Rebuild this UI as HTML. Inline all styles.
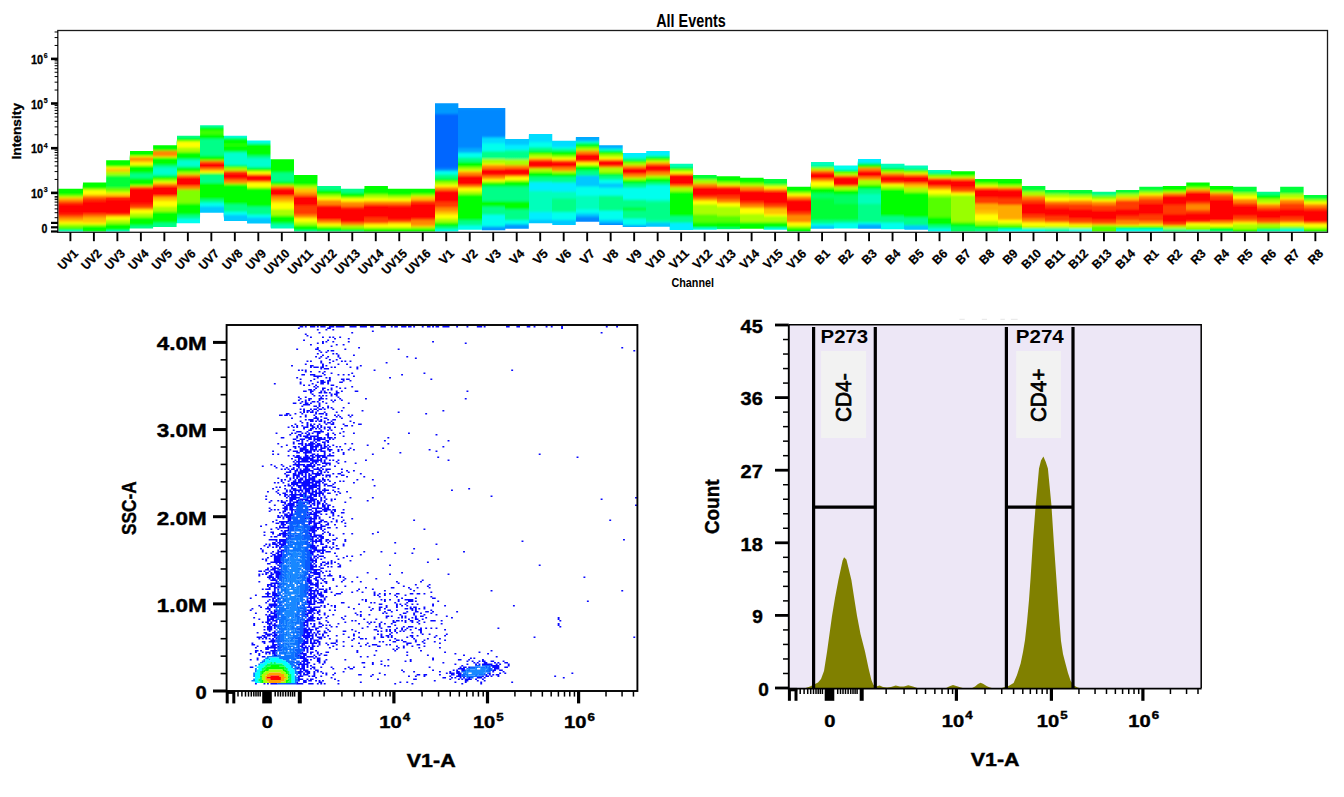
<!DOCTYPE html>
<html><head><meta charset="utf-8"><title>All Events</title>
<style>html,body{margin:0;padding:0;background:#fff;overflow:hidden}body{width:1344px;height:797px;font-family:"Liberation Sans",sans-serif}svg{display:block}</style>
</head><body>
<svg width="1344" height="797" viewBox="0 0 1344 797" font-family="Liberation Sans, sans-serif"><defs><linearGradient id="g0" gradientUnits="userSpaceOnUse" x1="0" y1="188.70" x2="0" y2="232.00"><stop offset="0.0000" stop-color="#00ff00"/><stop offset="0.1224" stop-color="#00ff00"/><stop offset="0.1801" stop-color="#aaff00"/><stop offset="0.2263" stop-color="#ffc400"/><stop offset="0.2725" stop-color="#ff8800"/><stop offset="0.3303" stop-color="#ff3a00"/><stop offset="0.3764" stop-color="#ff0000"/><stop offset="0.5612" stop-color="#ff0000"/><stop offset="0.6189" stop-color="#ff3a00"/><stop offset="0.6767" stop-color="#ff8800"/><stop offset="0.7460" stop-color="#ffc400"/><stop offset="0.7921" stop-color="#ffff00"/><stop offset="0.8383" stop-color="#aaff00"/><stop offset="0.8961" stop-color="#55ff00"/><stop offset="0.9538" stop-color="#00ff38"/><stop offset="0.9885" stop-color="#00ffee"/><stop offset="1.0000" stop-color="#00ffee"/></linearGradient><linearGradient id="g1" gradientUnits="userSpaceOnUse" x1="0" y1="182.40" x2="0" y2="232.00"><stop offset="0.0000" stop-color="#00ff00"/><stop offset="0.1129" stop-color="#00ff00"/><stop offset="0.1431" stop-color="#aaff00"/><stop offset="0.1734" stop-color="#ffff00"/><stop offset="0.2339" stop-color="#ffff00"/><stop offset="0.2843" stop-color="#ff8800"/><stop offset="0.3347" stop-color="#ff3a00"/><stop offset="0.4153" stop-color="#ff0000"/><stop offset="0.6069" stop-color="#ff0000"/><stop offset="0.6371" stop-color="#ff3a00"/><stop offset="0.6895" stop-color="#ff8800"/><stop offset="0.7379" stop-color="#ffc400"/><stop offset="0.7984" stop-color="#ffc400"/><stop offset="0.8286" stop-color="#ffff00"/><stop offset="0.8589" stop-color="#aaff00"/><stop offset="0.8992" stop-color="#00ff00"/><stop offset="0.9798" stop-color="#00ff00"/><stop offset="1.0000" stop-color="#00ff38"/></linearGradient><linearGradient id="g2" gradientUnits="userSpaceOnUse" x1="0" y1="160.20" x2="0" y2="232.00"><stop offset="0.0000" stop-color="#00ff00"/><stop offset="0.0808" stop-color="#00ff00"/><stop offset="0.1017" stop-color="#ffff00"/><stop offset="0.1295" stop-color="#ffc400"/><stop offset="0.1504" stop-color="#ffc400"/><stop offset="0.1713" stop-color="#aaff00"/><stop offset="0.1992" stop-color="#aaff00"/><stop offset="0.2270" stop-color="#00ff38"/><stop offset="0.3733" stop-color="#00ff38"/><stop offset="0.3942" stop-color="#55ff00"/><stop offset="0.4429" stop-color="#aaff00"/><stop offset="0.4638" stop-color="#ffff00"/><stop offset="0.4777" stop-color="#ff8800"/><stop offset="0.4916" stop-color="#ffff00"/><stop offset="0.5056" stop-color="#ff3a00"/><stop offset="0.5822" stop-color="#ff0000"/><stop offset="0.7493" stop-color="#ff0000"/><stop offset="0.7702" stop-color="#ff8800"/><stop offset="0.7981" stop-color="#ffff00"/><stop offset="0.8189" stop-color="#ffff00"/><stop offset="0.8468" stop-color="#aaff00"/><stop offset="0.8747" stop-color="#aaff00"/><stop offset="0.9025" stop-color="#00ff00"/><stop offset="0.9721" stop-color="#00ff00"/><stop offset="0.9861" stop-color="#00ffee"/><stop offset="1.0000" stop-color="#00ffee"/></linearGradient><linearGradient id="g3" gradientUnits="userSpaceOnUse" x1="0" y1="151.00" x2="0" y2="228.40"><stop offset="0.0000" stop-color="#00ff00"/><stop offset="0.0581" stop-color="#00ff00"/><stop offset="0.0724" stop-color="#ffff00"/><stop offset="0.0904" stop-color="#ff8800"/><stop offset="0.1163" stop-color="#ff8800"/><stop offset="0.1357" stop-color="#ffc400"/><stop offset="0.1615" stop-color="#ffff00"/><stop offset="0.1809" stop-color="#ffff00"/><stop offset="0.2003" stop-color="#00ff00"/><stop offset="0.2713" stop-color="#00ff00"/><stop offset="0.2972" stop-color="#00ff88"/><stop offset="0.3424" stop-color="#00ff88"/><stop offset="0.3682" stop-color="#00ff00"/><stop offset="0.4315" stop-color="#00ff00"/><stop offset="0.4483" stop-color="#aaff00"/><stop offset="0.4651" stop-color="#ff8800"/><stop offset="0.4858" stop-color="#ff0000"/><stop offset="0.6718" stop-color="#ff0000"/><stop offset="0.7041" stop-color="#ff3a00"/><stop offset="0.7235" stop-color="#ff3a00"/><stop offset="0.7455" stop-color="#ff8800"/><stop offset="0.7687" stop-color="#ffff00"/><stop offset="0.7946" stop-color="#ffff00"/><stop offset="0.8204" stop-color="#aaff00"/><stop offset="0.8463" stop-color="#aaff00"/><stop offset="0.8721" stop-color="#00ff00"/><stop offset="0.9496" stop-color="#00ff00"/><stop offset="0.9690" stop-color="#00ff88"/><stop offset="1.0000" stop-color="#00ff88"/></linearGradient><linearGradient id="g4" gradientUnits="userSpaceOnUse" x1="0" y1="145.30" x2="0" y2="227.00"><stop offset="0.0000" stop-color="#00ff00"/><stop offset="0.0575" stop-color="#00ff00"/><stop offset="0.0759" stop-color="#ff8800"/><stop offset="0.1310" stop-color="#ff8800"/><stop offset="0.1432" stop-color="#ffff00"/><stop offset="0.1579" stop-color="#00ff00"/><stop offset="0.2289" stop-color="#00ff00"/><stop offset="0.2534" stop-color="#00ff88"/><stop offset="0.2901" stop-color="#00ffd0"/><stop offset="0.3513" stop-color="#00ffd0"/><stop offset="0.3696" stop-color="#00ff88"/><stop offset="0.3856" stop-color="#00ff00"/><stop offset="0.4064" stop-color="#00ff00"/><stop offset="0.4247" stop-color="#aaff00"/><stop offset="0.4431" stop-color="#aaff00"/><stop offset="0.4565" stop-color="#ffff00"/><stop offset="0.4737" stop-color="#ff8800"/><stop offset="0.4896" stop-color="#ff8800"/><stop offset="0.5080" stop-color="#ff0000"/><stop offset="0.6083" stop-color="#ff0000"/><stop offset="0.6279" stop-color="#ff8800"/><stop offset="0.6512" stop-color="#ffc400"/><stop offset="0.6756" stop-color="#ffc400"/><stop offset="0.6879" stop-color="#ffff00"/><stop offset="0.7430" stop-color="#ffff00"/><stop offset="0.7613" stop-color="#aaff00"/><stop offset="0.8042" stop-color="#aaff00"/><stop offset="0.8262" stop-color="#00ff00"/><stop offset="0.9388" stop-color="#00ff00"/><stop offset="0.9572" stop-color="#00ff88"/><stop offset="1.0000" stop-color="#00ff88"/></linearGradient><linearGradient id="g5" gradientUnits="userSpaceOnUse" x1="0" y1="135.80" x2="0" y2="223.30"><stop offset="0.0000" stop-color="#00ff88"/><stop offset="0.0194" stop-color="#00ff88"/><stop offset="0.0309" stop-color="#00ff00"/><stop offset="0.0514" stop-color="#00ff00"/><stop offset="0.0617" stop-color="#aaff00"/><stop offset="0.0766" stop-color="#ffff00"/><stop offset="0.1280" stop-color="#ffff00"/><stop offset="0.1451" stop-color="#aaff00"/><stop offset="0.1794" stop-color="#aaff00"/><stop offset="0.1966" stop-color="#00ff00"/><stop offset="0.2594" stop-color="#00ff00"/><stop offset="0.2709" stop-color="#00ff88"/><stop offset="0.2880" stop-color="#00ffd0"/><stop offset="0.3451" stop-color="#00ffd0"/><stop offset="0.3566" stop-color="#00ff88"/><stop offset="0.3703" stop-color="#00ff00"/><stop offset="0.4023" stop-color="#00ff00"/><stop offset="0.4194" stop-color="#aaff00"/><stop offset="0.4366" stop-color="#aaff00"/><stop offset="0.4514" stop-color="#ff8800"/><stop offset="0.4629" stop-color="#ff8800"/><stop offset="0.4766" stop-color="#ff0000"/><stop offset="0.5623" stop-color="#ff0000"/><stop offset="0.5817" stop-color="#ff8800"/><stop offset="0.6057" stop-color="#ff8800"/><stop offset="0.6229" stop-color="#80ff00"/><stop offset="0.7680" stop-color="#80ff00"/><stop offset="0.7851" stop-color="#00ff00"/><stop offset="0.8937" stop-color="#00ff00"/><stop offset="0.9109" stop-color="#00ff88"/><stop offset="0.9394" stop-color="#00ff88"/><stop offset="0.9566" stop-color="#00ffee"/><stop offset="1.0000" stop-color="#00ffee"/></linearGradient><linearGradient id="g6" gradientUnits="userSpaceOnUse" x1="0" y1="125.20" x2="0" y2="212.80"><stop offset="0.0000" stop-color="#00ffbb"/><stop offset="0.0205" stop-color="#00ff88"/><stop offset="0.0320" stop-color="#00ff00"/><stop offset="0.0594" stop-color="#00ff00"/><stop offset="0.0719" stop-color="#55ff00"/><stop offset="0.0833" stop-color="#00ff00"/><stop offset="0.0947" stop-color="#55ff00"/><stop offset="0.1073" stop-color="#00ff00"/><stop offset="0.1484" stop-color="#00ff00"/><stop offset="0.1632" stop-color="#00ff88"/><stop offset="0.3447" stop-color="#00ff88"/><stop offset="0.3607" stop-color="#00ff00"/><stop offset="0.3927" stop-color="#00ff00"/><stop offset="0.4087" stop-color="#ff8800"/><stop offset="0.4201" stop-color="#ff8800"/><stop offset="0.4338" stop-color="#ff0000"/><stop offset="0.4817" stop-color="#ff0000"/><stop offset="0.4954" stop-color="#ff8800"/><stop offset="0.5114" stop-color="#ff8800"/><stop offset="0.5297" stop-color="#ffff00"/><stop offset="0.5411" stop-color="#ffff00"/><stop offset="0.5548" stop-color="#00ff00"/><stop offset="0.5708" stop-color="#00ff88"/><stop offset="0.6541" stop-color="#00ff88"/><stop offset="0.6689" stop-color="#00ff00"/><stop offset="0.8311" stop-color="#00ff00"/><stop offset="0.8539" stop-color="#00ff88"/><stop offset="0.8767" stop-color="#00ff88"/><stop offset="0.8938" stop-color="#00ffee"/><stop offset="0.9201" stop-color="#00ffee"/><stop offset="0.9361" stop-color="#00c8ff"/><stop offset="1.0000" stop-color="#00c8ff"/></linearGradient><linearGradient id="g7" gradientUnits="userSpaceOnUse" x1="0" y1="135.80" x2="0" y2="220.90"><stop offset="0.0000" stop-color="#00ffee"/><stop offset="0.0259" stop-color="#00ffbb"/><stop offset="0.0376" stop-color="#00ff00"/><stop offset="0.0964" stop-color="#00ff00"/><stop offset="0.1081" stop-color="#55ff00"/><stop offset="0.1199" stop-color="#00ff00"/><stop offset="0.1786" stop-color="#00ff00"/><stop offset="0.1904" stop-color="#00ff88"/><stop offset="0.2045" stop-color="#00ffd0"/><stop offset="0.3408" stop-color="#00ffd0"/><stop offset="0.3549" stop-color="#00ff00"/><stop offset="0.3666" stop-color="#00ff00"/><stop offset="0.3807" stop-color="#aaff00"/><stop offset="0.4054" stop-color="#aaff00"/><stop offset="0.4207" stop-color="#ff3a00"/><stop offset="0.4371" stop-color="#ff3a00"/><stop offset="0.4512" stop-color="#ff0000"/><stop offset="0.4994" stop-color="#ff0000"/><stop offset="0.5100" stop-color="#ff3a00"/><stop offset="0.5311" stop-color="#ff8800"/><stop offset="0.5546" stop-color="#ff8800"/><stop offset="0.5664" stop-color="#aaff00"/><stop offset="0.5805" stop-color="#00ff00"/><stop offset="0.7897" stop-color="#00ff00"/><stop offset="0.8108" stop-color="#00ff88"/><stop offset="0.8837" stop-color="#00ff88"/><stop offset="0.9013" stop-color="#00ffee"/><stop offset="0.9248" stop-color="#00ffee"/><stop offset="0.9365" stop-color="#00c8ff"/><stop offset="1.0000" stop-color="#00c8ff"/></linearGradient><linearGradient id="g8" gradientUnits="userSpaceOnUse" x1="0" y1="140.40" x2="0" y2="223.60"><stop offset="0.0000" stop-color="#00ffee"/><stop offset="0.0337" stop-color="#00ffee"/><stop offset="0.0493" stop-color="#00ff00"/><stop offset="0.1743" stop-color="#00ff00"/><stop offset="0.1875" stop-color="#00ff88"/><stop offset="0.2055" stop-color="#00ff88"/><stop offset="0.2236" stop-color="#00ffd0"/><stop offset="0.3125" stop-color="#00ffd0"/><stop offset="0.3257" stop-color="#00ff88"/><stop offset="0.3377" stop-color="#00ff00"/><stop offset="0.3618" stop-color="#00ff00"/><stop offset="0.3774" stop-color="#ffff00"/><stop offset="0.3990" stop-color="#ffff00"/><stop offset="0.4111" stop-color="#ff8800"/><stop offset="0.4255" stop-color="#ff0000"/><stop offset="0.4880" stop-color="#ff0000"/><stop offset="0.4976" stop-color="#ff8800"/><stop offset="0.5096" stop-color="#ffff00"/><stop offset="0.5553" stop-color="#ffff00"/><stop offset="0.5685" stop-color="#aaff00"/><stop offset="0.5841" stop-color="#00ff00"/><stop offset="0.7861" stop-color="#00ff00"/><stop offset="0.8029" stop-color="#00ff88"/><stop offset="0.8846" stop-color="#00ff88"/><stop offset="0.8990" stop-color="#00ffee"/><stop offset="0.9207" stop-color="#00ffee"/><stop offset="0.9351" stop-color="#00c8ff"/><stop offset="1.0000" stop-color="#00c8ff"/></linearGradient><linearGradient id="g9" gradientUnits="userSpaceOnUse" x1="0" y1="159.20" x2="0" y2="228.40"><stop offset="0.0000" stop-color="#00ff00"/><stop offset="0.1821" stop-color="#00ff00"/><stop offset="0.1994" stop-color="#00ff88"/><stop offset="0.3150" stop-color="#00ff88"/><stop offset="0.3367" stop-color="#00ff00"/><stop offset="0.3584" stop-color="#00ff00"/><stop offset="0.3757" stop-color="#aaff00"/><stop offset="0.3988" stop-color="#ff8800"/><stop offset="0.4118" stop-color="#ff8800"/><stop offset="0.4292" stop-color="#ff0000"/><stop offset="0.5173" stop-color="#ff0000"/><stop offset="0.5405" stop-color="#ff8800"/><stop offset="0.5751" stop-color="#ff8800"/><stop offset="0.5939" stop-color="#ffc400"/><stop offset="0.6185" stop-color="#ffc400"/><stop offset="0.6373" stop-color="#ffff00"/><stop offset="0.7124" stop-color="#ffff00"/><stop offset="0.7341" stop-color="#aaff00"/><stop offset="0.8064" stop-color="#aaff00"/><stop offset="0.8324" stop-color="#00ff00"/><stop offset="0.9075" stop-color="#00ff00"/><stop offset="0.9364" stop-color="#00ff88"/><stop offset="0.9653" stop-color="#00ffbb"/><stop offset="1.0000" stop-color="#00ffbb"/></linearGradient><linearGradient id="g10" gradientUnits="userSpaceOnUse" x1="0" y1="175.00" x2="0" y2="232.00"><stop offset="0.0000" stop-color="#00ff00"/><stop offset="0.1649" stop-color="#00ff00"/><stop offset="0.1930" stop-color="#aaff00"/><stop offset="0.2228" stop-color="#aaff00"/><stop offset="0.2491" stop-color="#ffc400"/><stop offset="0.2947" stop-color="#ffc400"/><stop offset="0.3193" stop-color="#ff8800"/><stop offset="0.3509" stop-color="#ff8800"/><stop offset="0.3860" stop-color="#ff0000"/><stop offset="0.5175" stop-color="#ff0000"/><stop offset="0.5439" stop-color="#ff3a00"/><stop offset="0.6842" stop-color="#ff3a00"/><stop offset="0.7070" stop-color="#ff8800"/><stop offset="0.7368" stop-color="#ff8800"/><stop offset="0.7684" stop-color="#ffff00"/><stop offset="0.8123" stop-color="#ffff00"/><stop offset="0.8386" stop-color="#aaff00"/><stop offset="0.8702" stop-color="#aaff00"/><stop offset="0.8982" stop-color="#00ff00"/><stop offset="0.9649" stop-color="#00ff00"/><stop offset="0.9825" stop-color="#00ffbb"/><stop offset="1.0000" stop-color="#00ffbb"/></linearGradient><linearGradient id="g11" gradientUnits="userSpaceOnUse" x1="0" y1="186.00" x2="0" y2="232.00"><stop offset="0.0000" stop-color="#00ff88"/><stop offset="0.0761" stop-color="#00ff88"/><stop offset="0.1000" stop-color="#00ff00"/><stop offset="0.1696" stop-color="#00ff00"/><stop offset="0.2000" stop-color="#aaff00"/><stop offset="0.2391" stop-color="#aaff00"/><stop offset="0.2609" stop-color="#ffff00"/><stop offset="0.2870" stop-color="#ffff00"/><stop offset="0.3261" stop-color="#ff8800"/><stop offset="0.4022" stop-color="#ff8800"/><stop offset="0.4348" stop-color="#ff0000"/><stop offset="0.7239" stop-color="#ff0000"/><stop offset="0.7565" stop-color="#ff8800"/><stop offset="0.7957" stop-color="#ff8800"/><stop offset="0.8261" stop-color="#ffff00"/><stop offset="0.8543" stop-color="#ffff00"/><stop offset="0.8826" stop-color="#aaff00"/><stop offset="0.9130" stop-color="#00ff00"/><stop offset="0.9717" stop-color="#00ff00"/><stop offset="0.9891" stop-color="#00ff88"/><stop offset="1.0000" stop-color="#00ff88"/></linearGradient><linearGradient id="g12" gradientUnits="userSpaceOnUse" x1="0" y1="188.70" x2="0" y2="232.00"><stop offset="0.0000" stop-color="#00ff88"/><stop offset="0.0855" stop-color="#00ff88"/><stop offset="0.1085" stop-color="#00ff00"/><stop offset="0.1801" stop-color="#00ff00"/><stop offset="0.2102" stop-color="#aaff00"/><stop offset="0.2425" stop-color="#ffff00"/><stop offset="0.2841" stop-color="#ffff00"/><stop offset="0.3210" stop-color="#ff8800"/><stop offset="0.3949" stop-color="#ff8800"/><stop offset="0.4273" stop-color="#ff3a00"/><stop offset="0.4596" stop-color="#ff0000"/><stop offset="0.7691" stop-color="#ff0000"/><stop offset="0.8014" stop-color="#ff8800"/><stop offset="0.8291" stop-color="#ff8800"/><stop offset="0.8661" stop-color="#aaff00"/><stop offset="0.9076" stop-color="#aaff00"/><stop offset="0.9307" stop-color="#00ff00"/><stop offset="0.9723" stop-color="#00ff00"/><stop offset="0.9908" stop-color="#00ff88"/><stop offset="1.0000" stop-color="#00ff88"/></linearGradient><linearGradient id="g13" gradientUnits="userSpaceOnUse" x1="0" y1="186.00" x2="0" y2="232.00"><stop offset="0.0000" stop-color="#00ff00"/><stop offset="0.1696" stop-color="#00ff00"/><stop offset="0.2000" stop-color="#aaff00"/><stop offset="0.2522" stop-color="#aaff00"/><stop offset="0.2761" stop-color="#ffff00"/><stop offset="0.3130" stop-color="#ffff00"/><stop offset="0.3478" stop-color="#ff8800"/><stop offset="0.3870" stop-color="#ff8800"/><stop offset="0.4304" stop-color="#ff0000"/><stop offset="0.6652" stop-color="#ff0000"/><stop offset="0.7000" stop-color="#ff3a00"/><stop offset="0.7826" stop-color="#ff3a00"/><stop offset="0.8109" stop-color="#ff8800"/><stop offset="0.8435" stop-color="#ffff00"/><stop offset="0.8826" stop-color="#ffff00"/><stop offset="0.9130" stop-color="#aaff00"/><stop offset="0.9413" stop-color="#00ff00"/><stop offset="1.0000" stop-color="#00ff00"/></linearGradient><linearGradient id="g14" gradientUnits="userSpaceOnUse" x1="0" y1="188.70" x2="0" y2="232.00"><stop offset="0.0000" stop-color="#00ff00"/><stop offset="0.1455" stop-color="#00ff00"/><stop offset="0.1686" stop-color="#aaff00"/><stop offset="0.2148" stop-color="#aaff00"/><stop offset="0.2379" stop-color="#ffff00"/><stop offset="0.2725" stop-color="#ffff00"/><stop offset="0.3025" stop-color="#ff8800"/><stop offset="0.3487" stop-color="#ff8800"/><stop offset="0.3764" stop-color="#ff3a00"/><stop offset="0.4226" stop-color="#ff0000"/><stop offset="0.7067" stop-color="#ff0000"/><stop offset="0.7413" stop-color="#ff3a00"/><stop offset="0.7829" stop-color="#ff8800"/><stop offset="0.8152" stop-color="#ffff00"/><stop offset="0.8776" stop-color="#ffff00"/><stop offset="0.9076" stop-color="#aaff00"/><stop offset="0.9400" stop-color="#00ff00"/><stop offset="1.0000" stop-color="#00ff00"/></linearGradient><linearGradient id="g15" gradientUnits="userSpaceOnUse" x1="0" y1="188.70" x2="0" y2="232.00"><stop offset="0.0000" stop-color="#00ff00"/><stop offset="0.1178" stop-color="#00ff00"/><stop offset="0.1455" stop-color="#aaff00"/><stop offset="0.1686" stop-color="#aaff00"/><stop offset="0.1963" stop-color="#ffc400"/><stop offset="0.2564" stop-color="#ffc400"/><stop offset="0.2887" stop-color="#ff3a00"/><stop offset="0.3303" stop-color="#ff3a00"/><stop offset="0.3672" stop-color="#ff0000"/><stop offset="0.6767" stop-color="#ff0000"/><stop offset="0.7067" stop-color="#ff3a00"/><stop offset="0.7413" stop-color="#ff8800"/><stop offset="0.8291" stop-color="#ff8800"/><stop offset="0.8614" stop-color="#ffc400"/><stop offset="0.9076" stop-color="#aaff00"/><stop offset="0.9400" stop-color="#00ff00"/><stop offset="1.0000" stop-color="#00ff00"/></linearGradient><linearGradient id="g16" gradientUnits="userSpaceOnUse" x1="0" y1="103.20" x2="0" y2="232.00"><stop offset="0.0000" stop-color="#0099ff"/><stop offset="0.0839" stop-color="#0099ff"/><stop offset="0.0870" stop-color="#0066ff"/><stop offset="0.5023" stop-color="#0066ff"/><stop offset="0.5078" stop-color="#0088ff"/><stop offset="0.5217" stop-color="#0088ff"/><stop offset="0.5303" stop-color="#00ffee"/><stop offset="0.5497" stop-color="#00ffee"/><stop offset="0.5590" stop-color="#00ff88"/><stop offset="0.5823" stop-color="#00ff88"/><stop offset="0.5901" stop-color="#00ff00"/><stop offset="0.6040" stop-color="#00ff00"/><stop offset="0.6118" stop-color="#aaff00"/><stop offset="0.6304" stop-color="#aaff00"/><stop offset="0.6374" stop-color="#ffff00"/><stop offset="0.6460" stop-color="#ffff00"/><stop offset="0.6568" stop-color="#ff8800"/><stop offset="0.6716" stop-color="#ff8800"/><stop offset="0.6832" stop-color="#ff0000"/><stop offset="0.7593" stop-color="#ff0000"/><stop offset="0.7717" stop-color="#ff3a00"/><stop offset="0.8020" stop-color="#ff3a00"/><stop offset="0.8137" stop-color="#ff8800"/><stop offset="0.8331" stop-color="#ff8800"/><stop offset="0.8447" stop-color="#ffc400"/><stop offset="0.8602" stop-color="#ffc400"/><stop offset="0.8680" stop-color="#ffff00"/><stop offset="0.8913" stop-color="#ffff00"/><stop offset="0.9030" stop-color="#aaff00"/><stop offset="0.9224" stop-color="#aaff00"/><stop offset="0.9340" stop-color="#00ff00"/><stop offset="0.9534" stop-color="#00ff00"/><stop offset="0.9643" stop-color="#00ff88"/><stop offset="0.9752" stop-color="#00ff88"/><stop offset="0.9845" stop-color="#00ffee"/><stop offset="1.0000" stop-color="#00ffee"/></linearGradient><linearGradient id="g17" gradientUnits="userSpaceOnUse" x1="0" y1="108.10" x2="0" y2="229.70"><stop offset="0.0000" stop-color="#0099ff"/><stop offset="0.0156" stop-color="#0088ff"/><stop offset="0.3257" stop-color="#0088ff"/><stop offset="0.3331" stop-color="#00aaff"/><stop offset="0.3627" stop-color="#00aaff"/><stop offset="0.3725" stop-color="#00ffee"/><stop offset="0.4021" stop-color="#00ffee"/><stop offset="0.4137" stop-color="#00ff88"/><stop offset="0.4400" stop-color="#00ff88"/><stop offset="0.4465" stop-color="#00ff00"/><stop offset="0.4786" stop-color="#00ff00"/><stop offset="0.4910" stop-color="#aaff00"/><stop offset="0.5058" stop-color="#aaff00"/><stop offset="0.5173" stop-color="#ffff00"/><stop offset="0.5288" stop-color="#ff8800"/><stop offset="0.5502" stop-color="#ff8800"/><stop offset="0.5617" stop-color="#ff0000"/><stop offset="0.6275" stop-color="#ff0000"/><stop offset="0.6390" stop-color="#ff8800"/><stop offset="0.6488" stop-color="#ff8800"/><stop offset="0.6612" stop-color="#ffff00"/><stop offset="0.6768" stop-color="#ffff00"/><stop offset="0.6900" stop-color="#aaff00"/><stop offset="0.7048" stop-color="#aaff00"/><stop offset="0.7163" stop-color="#00ff00"/><stop offset="0.9145" stop-color="#00ff00"/><stop offset="0.9268" stop-color="#00ff88"/><stop offset="0.9581" stop-color="#00ff88"/><stop offset="0.9696" stop-color="#00ffee"/><stop offset="1.0000" stop-color="#00ffee"/></linearGradient><linearGradient id="g18" gradientUnits="userSpaceOnUse" x1="0" y1="108.10" x2="0" y2="230.30"><stop offset="0.0000" stop-color="#0099ff"/><stop offset="0.0155" stop-color="#0088ff"/><stop offset="0.2365" stop-color="#0088ff"/><stop offset="0.2430" stop-color="#00ddff"/><stop offset="0.2840" stop-color="#00ddff"/><stop offset="0.2921" stop-color="#00ffee"/><stop offset="0.3478" stop-color="#00ffee"/><stop offset="0.3592" stop-color="#00ff88"/><stop offset="0.4100" stop-color="#00ff88"/><stop offset="0.4214" stop-color="#aaff00"/><stop offset="0.4493" stop-color="#aaff00"/><stop offset="0.4599" stop-color="#ffff00"/><stop offset="0.4714" stop-color="#ff8800"/><stop offset="0.4926" stop-color="#ff8800"/><stop offset="0.5041" stop-color="#ff0000"/><stop offset="0.5475" stop-color="#ff0000"/><stop offset="0.5589" stop-color="#ff8800"/><stop offset="0.5745" stop-color="#ff8800"/><stop offset="0.5867" stop-color="#ffff00"/><stop offset="0.5966" stop-color="#ffff00"/><stop offset="0.6047" stop-color="#aaff00"/><stop offset="0.6146" stop-color="#00ff00"/><stop offset="0.6350" stop-color="#00ff00"/><stop offset="0.6457" stop-color="#00ff88"/><stop offset="0.7561" stop-color="#00ff88"/><stop offset="0.7676" stop-color="#00ff00"/><stop offset="0.7995" stop-color="#00ff00"/><stop offset="0.8118" stop-color="#00ff88"/><stop offset="0.8666" stop-color="#00ff88"/><stop offset="0.8773" stop-color="#00ffee"/><stop offset="0.9648" stop-color="#00ffee"/><stop offset="0.9755" stop-color="#0099ff"/><stop offset="1.0000" stop-color="#0099ff"/></linearGradient><linearGradient id="g19" gradientUnits="userSpaceOnUse" x1="0" y1="139.00" x2="0" y2="228.70"><stop offset="0.0000" stop-color="#00c8ff"/><stop offset="0.0602" stop-color="#00c8ff"/><stop offset="0.0691" stop-color="#00eeff"/><stop offset="0.1115" stop-color="#00eeff"/><stop offset="0.1282" stop-color="#00ffbb"/><stop offset="0.1449" stop-color="#00ff88"/><stop offset="0.2174" stop-color="#00ff88"/><stop offset="0.2341" stop-color="#aaff00"/><stop offset="0.2832" stop-color="#aaff00"/><stop offset="0.2988" stop-color="#ff8800"/><stop offset="0.3211" stop-color="#ff8800"/><stop offset="0.3367" stop-color="#ff0000"/><stop offset="0.4013" stop-color="#ff0000"/><stop offset="0.4125" stop-color="#ff8800"/><stop offset="0.4259" stop-color="#ffff00"/><stop offset="0.4526" stop-color="#ffff00"/><stop offset="0.4660" stop-color="#aaff00"/><stop offset="0.4794" stop-color="#00ff00"/><stop offset="0.5206" stop-color="#00ff00"/><stop offset="0.5351" stop-color="#00ff88"/><stop offset="0.6856" stop-color="#00ff88"/><stop offset="0.7023" stop-color="#00ff00"/><stop offset="0.7748" stop-color="#00ff00"/><stop offset="0.7915" stop-color="#00ff88"/><stop offset="0.8952" stop-color="#00ff88"/><stop offset="0.9108" stop-color="#00ffee"/><stop offset="0.9476" stop-color="#00ffee"/><stop offset="0.9565" stop-color="#0099ff"/><stop offset="1.0000" stop-color="#0099ff"/></linearGradient><linearGradient id="g20" gradientUnits="userSpaceOnUse" x1="0" y1="134.00" x2="0" y2="223.30"><stop offset="0.0000" stop-color="#00ddff"/><stop offset="0.0829" stop-color="#00ddff"/><stop offset="0.0985" stop-color="#00ffee"/><stop offset="0.1433" stop-color="#00ffee"/><stop offset="0.1590" stop-color="#00ff88"/><stop offset="0.1848" stop-color="#00ff88"/><stop offset="0.1971" stop-color="#00ff00"/><stop offset="0.2184" stop-color="#00ff00"/><stop offset="0.2329" stop-color="#aaff00"/><stop offset="0.2576" stop-color="#aaff00"/><stop offset="0.2688" stop-color="#ffff00"/><stop offset="0.2822" stop-color="#ff8800"/><stop offset="0.2912" stop-color="#ff8800"/><stop offset="0.3024" stop-color="#ff0000"/><stop offset="0.3695" stop-color="#ff0000"/><stop offset="0.3807" stop-color="#ff8800"/><stop offset="0.3964" stop-color="#aaff00"/><stop offset="0.4199" stop-color="#aaff00"/><stop offset="0.4345" stop-color="#00ff00"/><stop offset="0.4703" stop-color="#00ff00"/><stop offset="0.4871" stop-color="#00ff88"/><stop offset="0.5263" stop-color="#00ff88"/><stop offset="0.5465" stop-color="#00eeff"/><stop offset="0.6271" stop-color="#00eeff"/><stop offset="0.6495" stop-color="#00ffbb"/><stop offset="0.8645" stop-color="#00ffbb"/><stop offset="0.8824" stop-color="#00eeff"/><stop offset="0.9552" stop-color="#00eeff"/><stop offset="0.9653" stop-color="#00c8ff"/><stop offset="1.0000" stop-color="#00c8ff"/></linearGradient><linearGradient id="g21" gradientUnits="userSpaceOnUse" x1="0" y1="140.70" x2="0" y2="225.00"><stop offset="0.0000" stop-color="#00ddff"/><stop offset="0.0700" stop-color="#00ddff"/><stop offset="0.0807" stop-color="#00ffee"/><stop offset="0.0985" stop-color="#00ffbb"/><stop offset="0.1163" stop-color="#00ff88"/><stop offset="0.1317" stop-color="#00ff00"/><stop offset="0.1696" stop-color="#00ff00"/><stop offset="0.1815" stop-color="#aaff00"/><stop offset="0.1981" stop-color="#aaff00"/><stop offset="0.2076" stop-color="#ffff00"/><stop offset="0.2218" stop-color="#ffff00"/><stop offset="0.2337" stop-color="#ff8800"/><stop offset="0.2456" stop-color="#ff3a00"/><stop offset="0.2574" stop-color="#ff0000"/><stop offset="0.3049" stop-color="#ff0000"/><stop offset="0.3215" stop-color="#ff8800"/><stop offset="0.3523" stop-color="#ff8800"/><stop offset="0.3665" stop-color="#aaff00"/><stop offset="0.3808" stop-color="#aaff00"/><stop offset="0.3950" stop-color="#00ff00"/><stop offset="0.4247" stop-color="#00ff00"/><stop offset="0.4365" stop-color="#00ff88"/><stop offset="0.4864" stop-color="#00ff88"/><stop offset="0.5042" stop-color="#00eeff"/><stop offset="0.5967" stop-color="#00eeff"/><stop offset="0.6157" stop-color="#00ffbb"/><stop offset="0.6773" stop-color="#00ffbb"/><stop offset="0.6940" stop-color="#00ff88"/><stop offset="0.8363" stop-color="#00ff88"/><stop offset="0.8553" stop-color="#00ffee"/><stop offset="0.9324" stop-color="#00ffee"/><stop offset="0.9490" stop-color="#00c8ff"/><stop offset="1.0000" stop-color="#00c8ff"/></linearGradient><linearGradient id="g22" gradientUnits="userSpaceOnUse" x1="0" y1="137.10" x2="0" y2="221.70"><stop offset="0.0000" stop-color="#00aaff"/><stop offset="0.0437" stop-color="#00aaff"/><stop offset="0.0532" stop-color="#00ffee"/><stop offset="0.0674" stop-color="#00ffbb"/><stop offset="0.0792" stop-color="#00ff38"/><stop offset="0.1170" stop-color="#00ff00"/><stop offset="0.1312" stop-color="#aaff00"/><stop offset="0.1525" stop-color="#aaff00"/><stop offset="0.1690" stop-color="#ff8800"/><stop offset="0.1927" stop-color="#ff8800"/><stop offset="0.2045" stop-color="#ff0000"/><stop offset="0.2801" stop-color="#ff0000"/><stop offset="0.2920" stop-color="#ff8800"/><stop offset="0.3061" stop-color="#ffff00"/><stop offset="0.3298" stop-color="#ffff00"/><stop offset="0.3463" stop-color="#00ff00"/><stop offset="0.3842" stop-color="#00ff00"/><stop offset="0.4031" stop-color="#00ff88"/><stop offset="0.4480" stop-color="#00ff88"/><stop offset="0.4657" stop-color="#00c8ff"/><stop offset="0.5745" stop-color="#00c8ff"/><stop offset="0.5922" stop-color="#00ffee"/><stop offset="0.6844" stop-color="#00ffee"/><stop offset="0.7033" stop-color="#00ffbb"/><stop offset="0.8440" stop-color="#00ffbb"/><stop offset="0.8617" stop-color="#00ffee"/><stop offset="0.8948" stop-color="#00ffee"/><stop offset="0.9090" stop-color="#00c8ff"/><stop offset="0.9326" stop-color="#00c8ff"/><stop offset="0.9492" stop-color="#0088ff"/><stop offset="1.0000" stop-color="#0088ff"/></linearGradient><linearGradient id="g23" gradientUnits="userSpaceOnUse" x1="0" y1="145.20" x2="0" y2="225.00"><stop offset="0.0000" stop-color="#00aaff"/><stop offset="0.0351" stop-color="#00aaff"/><stop offset="0.0476" stop-color="#00ffee"/><stop offset="0.0639" stop-color="#00ffbb"/><stop offset="0.0802" stop-color="#00ff00"/><stop offset="0.1053" stop-color="#00ff00"/><stop offset="0.1203" stop-color="#aaff00"/><stop offset="0.1454" stop-color="#aaff00"/><stop offset="0.1579" stop-color="#ffff00"/><stop offset="0.1729" stop-color="#ffff00"/><stop offset="0.1855" stop-color="#ff8800"/><stop offset="0.1980" stop-color="#ff0000"/><stop offset="0.2556" stop-color="#ff0000"/><stop offset="0.2707" stop-color="#ff8800"/><stop offset="0.2907" stop-color="#aaff00"/><stop offset="0.3396" stop-color="#aaff00"/><stop offset="0.3559" stop-color="#00ff00"/><stop offset="0.3734" stop-color="#00ff00"/><stop offset="0.3860" stop-color="#00ff88"/><stop offset="0.4236" stop-color="#00ff88"/><stop offset="0.4411" stop-color="#00ffee"/><stop offset="0.4737" stop-color="#00ffee"/><stop offset="0.4837" stop-color="#00c8ff"/><stop offset="0.5238" stop-color="#00c8ff"/><stop offset="0.5426" stop-color="#00ffee"/><stop offset="0.6241" stop-color="#00ffee"/><stop offset="0.6441" stop-color="#00ff88"/><stop offset="0.8120" stop-color="#00ff88"/><stop offset="0.8296" stop-color="#00ffee"/><stop offset="0.9286" stop-color="#00ffee"/><stop offset="0.9449" stop-color="#00c8ff"/><stop offset="0.9699" stop-color="#00c8ff"/><stop offset="0.9799" stop-color="#0088ff"/><stop offset="1.0000" stop-color="#0088ff"/></linearGradient><linearGradient id="g24" gradientUnits="userSpaceOnUse" x1="0" y1="153.10" x2="0" y2="227.00"><stop offset="0.0000" stop-color="#00eeff"/><stop offset="0.0514" stop-color="#00eeff"/><stop offset="0.0663" stop-color="#00ffbb"/><stop offset="0.0880" stop-color="#00ff88"/><stop offset="0.1015" stop-color="#00ff00"/><stop offset="0.1204" stop-color="#00ff00"/><stop offset="0.1340" stop-color="#aaff00"/><stop offset="0.1610" stop-color="#aaff00"/><stop offset="0.1746" stop-color="#ff8800"/><stop offset="0.1962" stop-color="#ff8800"/><stop offset="0.2097" stop-color="#ff0000"/><stop offset="0.2774" stop-color="#ff0000"/><stop offset="0.2909" stop-color="#ff8800"/><stop offset="0.3234" stop-color="#ff8800"/><stop offset="0.3369" stop-color="#aaff00"/><stop offset="0.3559" stop-color="#aaff00"/><stop offset="0.3694" stop-color="#00ff00"/><stop offset="0.4046" stop-color="#00ff00"/><stop offset="0.4208" stop-color="#00ff88"/><stop offset="0.4587" stop-color="#00ff88"/><stop offset="0.4790" stop-color="#00ffee"/><stop offset="0.6211" stop-color="#00ffee"/><stop offset="0.6428" stop-color="#00ff88"/><stop offset="0.7294" stop-color="#00ff88"/><stop offset="0.7429" stop-color="#00ff38"/><stop offset="0.7700" stop-color="#00ff38"/><stop offset="0.7876" stop-color="#00ff88"/><stop offset="0.8782" stop-color="#00ff88"/><stop offset="0.8972" stop-color="#00ffee"/><stop offset="0.9675" stop-color="#00ffee"/><stop offset="0.9783" stop-color="#00aaff"/><stop offset="1.0000" stop-color="#00aaff"/></linearGradient><linearGradient id="g25" gradientUnits="userSpaceOnUse" x1="0" y1="151.10" x2="0" y2="226.70"><stop offset="0.0000" stop-color="#00eeff"/><stop offset="0.0489" stop-color="#00eeff"/><stop offset="0.0622" stop-color="#00ffbb"/><stop offset="0.0754" stop-color="#00ff88"/><stop offset="0.0873" stop-color="#00ff00"/><stop offset="0.1111" stop-color="#00ff00"/><stop offset="0.1243" stop-color="#aaff00"/><stop offset="0.1389" stop-color="#aaff00"/><stop offset="0.1508" stop-color="#ffc400"/><stop offset="0.1733" stop-color="#ff8800"/><stop offset="0.1931" stop-color="#ff0000"/><stop offset="0.2632" stop-color="#ff0000"/><stop offset="0.2817" stop-color="#ff8800"/><stop offset="0.3161" stop-color="#ff8800"/><stop offset="0.3320" stop-color="#aaff00"/><stop offset="0.3492" stop-color="#aaff00"/><stop offset="0.3624" stop-color="#00ff00"/><stop offset="0.4048" stop-color="#00ff00"/><stop offset="0.4193" stop-color="#00ff88"/><stop offset="0.4405" stop-color="#00ff88"/><stop offset="0.4590" stop-color="#00ffee"/><stop offset="0.6336" stop-color="#00ffee"/><stop offset="0.6548" stop-color="#00ffbb"/><stop offset="0.6865" stop-color="#00ff88"/><stop offset="0.8981" stop-color="#00ff88"/><stop offset="0.9378" stop-color="#00ffbb"/><stop offset="0.9563" stop-color="#00c8ff"/><stop offset="1.0000" stop-color="#00c8ff"/></linearGradient><linearGradient id="g26" gradientUnits="userSpaceOnUse" x1="0" y1="163.80" x2="0" y2="230.00"><stop offset="0.0000" stop-color="#00ffbb"/><stop offset="0.0483" stop-color="#00ffbb"/><stop offset="0.0634" stop-color="#00ff00"/><stop offset="0.0876" stop-color="#00ff00"/><stop offset="0.1012" stop-color="#aaff00"/><stop offset="0.1178" stop-color="#aaff00"/><stop offset="0.1314" stop-color="#ffff00"/><stop offset="0.1450" stop-color="#ffff00"/><stop offset="0.1571" stop-color="#ff8800"/><stop offset="0.1722" stop-color="#ff0000"/><stop offset="0.3112" stop-color="#ff0000"/><stop offset="0.3293" stop-color="#ff8800"/><stop offset="0.3474" stop-color="#ff8800"/><stop offset="0.3625" stop-color="#aaff00"/><stop offset="0.4109" stop-color="#aaff00"/><stop offset="0.4335" stop-color="#00ff00"/><stop offset="0.7764" stop-color="#00ff00"/><stop offset="0.8006" stop-color="#00ff88"/><stop offset="0.8792" stop-color="#00ff88"/><stop offset="0.9018" stop-color="#00eeff"/><stop offset="1.0000" stop-color="#00eeff"/></linearGradient><linearGradient id="g27" gradientUnits="userSpaceOnUse" x1="0" y1="175.00" x2="0" y2="229.70"><stop offset="0.0000" stop-color="#00ff38"/><stop offset="0.0731" stop-color="#00ff38"/><stop offset="0.0969" stop-color="#aaff00"/><stop offset="0.1463" stop-color="#aaff00"/><stop offset="0.1718" stop-color="#ff8800"/><stop offset="0.2084" stop-color="#ff8800"/><stop offset="0.2340" stop-color="#ff0000"/><stop offset="0.3656" stop-color="#ff0000"/><stop offset="0.3876" stop-color="#ff3a00"/><stop offset="0.4168" stop-color="#ff3a00"/><stop offset="0.4314" stop-color="#ff8800"/><stop offset="0.4534" stop-color="#ff8800"/><stop offset="0.4790" stop-color="#ffff00"/><stop offset="0.5265" stop-color="#ffff00"/><stop offset="0.5539" stop-color="#aaff00"/><stop offset="0.7112" stop-color="#aaff00"/><stop offset="0.7367" stop-color="#55ff00"/><stop offset="0.8592" stop-color="#55ff00"/><stop offset="0.8848" stop-color="#00ff00"/><stop offset="0.9561" stop-color="#00ff00"/><stop offset="0.9726" stop-color="#00ffee"/><stop offset="1.0000" stop-color="#00ffee"/></linearGradient><linearGradient id="g28" gradientUnits="userSpaceOnUse" x1="0" y1="176.30" x2="0" y2="229.30"><stop offset="0.0000" stop-color="#00ff00"/><stop offset="0.1019" stop-color="#00ff00"/><stop offset="0.1189" stop-color="#aaff00"/><stop offset="0.1528" stop-color="#aaff00"/><stop offset="0.1679" stop-color="#ffff00"/><stop offset="0.1868" stop-color="#ff8800"/><stop offset="0.2019" stop-color="#ff8800"/><stop offset="0.2189" stop-color="#ff0000"/><stop offset="0.3528" stop-color="#ff0000"/><stop offset="0.3717" stop-color="#ff3a00"/><stop offset="0.4283" stop-color="#ff3a00"/><stop offset="0.4472" stop-color="#ff8800"/><stop offset="0.4943" stop-color="#ff8800"/><stop offset="0.5113" stop-color="#ffff00"/><stop offset="0.5585" stop-color="#ffff00"/><stop offset="0.5868" stop-color="#aaff00"/><stop offset="0.7340" stop-color="#aaff00"/><stop offset="0.7642" stop-color="#55ff00"/><stop offset="0.8623" stop-color="#55ff00"/><stop offset="0.8774" stop-color="#00ff00"/><stop offset="0.9623" stop-color="#00ff00"/><stop offset="0.9792" stop-color="#00ff88"/><stop offset="1.0000" stop-color="#00ff88"/></linearGradient><linearGradient id="g29" gradientUnits="userSpaceOnUse" x1="0" y1="177.70" x2="0" y2="228.70"><stop offset="0.0000" stop-color="#00ff00"/><stop offset="0.1039" stop-color="#00ff00"/><stop offset="0.1235" stop-color="#aaff00"/><stop offset="0.1588" stop-color="#aaff00"/><stop offset="0.1863" stop-color="#ff8800"/><stop offset="0.2353" stop-color="#ff8800"/><stop offset="0.2647" stop-color="#ff0000"/><stop offset="0.4471" stop-color="#ff0000"/><stop offset="0.4765" stop-color="#ff3a00"/><stop offset="0.5118" stop-color="#ff3a00"/><stop offset="0.5294" stop-color="#ff8800"/><stop offset="0.5784" stop-color="#ff8800"/><stop offset="0.6078" stop-color="#ffff00"/><stop offset="0.6961" stop-color="#ffff00"/><stop offset="0.7275" stop-color="#aaff00"/><stop offset="0.8686" stop-color="#aaff00"/><stop offset="0.8843" stop-color="#00ff00"/><stop offset="1.0000" stop-color="#00ff00"/></linearGradient><linearGradient id="g30" gradientUnits="userSpaceOnUse" x1="0" y1="179.00" x2="0" y2="229.70"><stop offset="0.0000" stop-color="#00ff38"/><stop offset="0.1065" stop-color="#00ff38"/><stop offset="0.1223" stop-color="#aaff00"/><stop offset="0.1460" stop-color="#aaff00"/><stop offset="0.1617" stop-color="#ffff00"/><stop offset="0.1854" stop-color="#ffff00"/><stop offset="0.2012" stop-color="#ff8800"/><stop offset="0.2249" stop-color="#ff8800"/><stop offset="0.2544" stop-color="#ff0000"/><stop offset="0.4773" stop-color="#ff0000"/><stop offset="0.4931" stop-color="#ff3a00"/><stop offset="0.5424" stop-color="#ff3a00"/><stop offset="0.5602" stop-color="#ff8800"/><stop offset="0.5819" stop-color="#ff8800"/><stop offset="0.5996" stop-color="#ffc400"/><stop offset="0.6884" stop-color="#ffc400"/><stop offset="0.7061" stop-color="#ffff00"/><stop offset="0.7298" stop-color="#ffff00"/><stop offset="0.7456" stop-color="#aaff00"/><stop offset="0.8481" stop-color="#aaff00"/><stop offset="0.8639" stop-color="#00ff00"/><stop offset="0.9527" stop-color="#00ff00"/><stop offset="0.9704" stop-color="#00ffee"/><stop offset="1.0000" stop-color="#00ffee"/></linearGradient><linearGradient id="g31" gradientUnits="userSpaceOnUse" x1="0" y1="186.80" x2="0" y2="232.00"><stop offset="0.0000" stop-color="#00ff00"/><stop offset="0.1106" stop-color="#00ff00"/><stop offset="0.1283" stop-color="#aaff00"/><stop offset="0.1549" stop-color="#aaff00"/><stop offset="0.1726" stop-color="#ffff00"/><stop offset="0.1991" stop-color="#ffff00"/><stop offset="0.2168" stop-color="#ff8800"/><stop offset="0.2588" stop-color="#ff8800"/><stop offset="0.2920" stop-color="#ff0000"/><stop offset="0.5398" stop-color="#ff0000"/><stop offset="0.5575" stop-color="#ff3a00"/><stop offset="0.6150" stop-color="#ff3a00"/><stop offset="0.6327" stop-color="#ff8800"/><stop offset="0.7788" stop-color="#ff8800"/><stop offset="0.7965" stop-color="#ffff00"/><stop offset="0.8518" stop-color="#ffff00"/><stop offset="0.8717" stop-color="#aaff00"/><stop offset="0.8960" stop-color="#aaff00"/><stop offset="0.9159" stop-color="#00ff00"/><stop offset="0.9867" stop-color="#00ff00"/><stop offset="1.0000" stop-color="#00ff38"/></linearGradient><linearGradient id="g32" gradientUnits="userSpaceOnUse" x1="0" y1="162.00" x2="0" y2="228.70"><stop offset="0.0000" stop-color="#00ffbb"/><stop offset="0.0645" stop-color="#00ffbb"/><stop offset="0.0720" stop-color="#00ff00"/><stop offset="0.0840" stop-color="#00ff00"/><stop offset="0.0930" stop-color="#aaff00"/><stop offset="0.1139" stop-color="#aaff00"/><stop offset="0.1319" stop-color="#ff8800"/><stop offset="0.1499" stop-color="#ff8800"/><stop offset="0.1679" stop-color="#ff0000"/><stop offset="0.2444" stop-color="#ff0000"/><stop offset="0.2579" stop-color="#ff8800"/><stop offset="0.2849" stop-color="#ff8800"/><stop offset="0.2984" stop-color="#ffff00"/><stop offset="0.3553" stop-color="#ffff00"/><stop offset="0.3688" stop-color="#aaff00"/><stop offset="0.3853" stop-color="#aaff00"/><stop offset="0.3988" stop-color="#00ff00"/><stop offset="0.4558" stop-color="#00ff00"/><stop offset="0.4768" stop-color="#00ff60"/><stop offset="0.5367" stop-color="#00ff60"/><stop offset="0.5577" stop-color="#00ff38"/><stop offset="0.8591" stop-color="#00ff38"/><stop offset="0.8801" stop-color="#00ff88"/><stop offset="0.9190" stop-color="#00ff88"/><stop offset="0.9325" stop-color="#00ffee"/><stop offset="0.9490" stop-color="#00ffee"/><stop offset="0.9625" stop-color="#00c8ff"/><stop offset="1.0000" stop-color="#00c8ff"/></linearGradient><linearGradient id="g33" gradientUnits="userSpaceOnUse" x1="0" y1="165.60" x2="0" y2="228.40"><stop offset="0.0000" stop-color="#00ffee"/><stop offset="0.0637" stop-color="#00ffee"/><stop offset="0.0764" stop-color="#00ff00"/><stop offset="0.1067" stop-color="#00ff00"/><stop offset="0.1210" stop-color="#aaff00"/><stop offset="0.1497" stop-color="#aaff00"/><stop offset="0.1656" stop-color="#ff8800"/><stop offset="0.1847" stop-color="#ff0000"/><stop offset="0.3089" stop-color="#ff0000"/><stop offset="0.3248" stop-color="#ff8800"/><stop offset="0.3439" stop-color="#aaff00"/><stop offset="0.3838" stop-color="#aaff00"/><stop offset="0.3981" stop-color="#00ff00"/><stop offset="0.4490" stop-color="#00ff00"/><stop offset="0.4713" stop-color="#00ff60"/><stop offset="0.5987" stop-color="#00ff60"/><stop offset="0.6210" stop-color="#00ff38"/><stop offset="0.8551" stop-color="#00ff38"/><stop offset="0.8774" stop-color="#00ff88"/><stop offset="0.9076" stop-color="#00ff88"/><stop offset="0.9204" stop-color="#00ffee"/><stop offset="1.0000" stop-color="#00ffee"/></linearGradient><linearGradient id="g34" gradientUnits="userSpaceOnUse" x1="0" y1="159.10" x2="0" y2="228.70"><stop offset="0.0000" stop-color="#00eeff"/><stop offset="0.0589" stop-color="#00eeff"/><stop offset="0.0675" stop-color="#00ff00"/><stop offset="0.1121" stop-color="#00ff00"/><stop offset="0.1279" stop-color="#ff8800"/><stop offset="0.1609" stop-color="#ff8800"/><stop offset="0.1739" stop-color="#ff0000"/><stop offset="0.2471" stop-color="#ff0000"/><stop offset="0.2601" stop-color="#ff8800"/><stop offset="0.2960" stop-color="#ff8800"/><stop offset="0.3075" stop-color="#aaff00"/><stop offset="0.3635" stop-color="#aaff00"/><stop offset="0.3764" stop-color="#00ff00"/><stop offset="0.4210" stop-color="#00ff00"/><stop offset="0.4353" stop-color="#00ff88"/><stop offset="0.4986" stop-color="#00ff88"/><stop offset="0.5101" stop-color="#00ffbb"/><stop offset="0.6336" stop-color="#00ffbb"/><stop offset="0.6537" stop-color="#00ff88"/><stop offset="0.9037" stop-color="#00ff88"/><stop offset="0.9152" stop-color="#00ffee"/><stop offset="0.9325" stop-color="#00ffee"/><stop offset="0.9440" stop-color="#00aaff"/><stop offset="1.0000" stop-color="#00aaff"/></linearGradient><linearGradient id="g35" gradientUnits="userSpaceOnUse" x1="0" y1="163.80" x2="0" y2="229.30"><stop offset="0.0000" stop-color="#00ffbb"/><stop offset="0.0580" stop-color="#00ffbb"/><stop offset="0.0702" stop-color="#00ff00"/><stop offset="0.0992" stop-color="#00ff00"/><stop offset="0.1130" stop-color="#aaff00"/><stop offset="0.1313" stop-color="#aaff00"/><stop offset="0.1511" stop-color="#ff8800"/><stop offset="0.1710" stop-color="#ff8800"/><stop offset="0.1893" stop-color="#ff0000"/><stop offset="0.2626" stop-color="#ff0000"/><stop offset="0.2748" stop-color="#ff3a00"/><stop offset="0.2931" stop-color="#ff3a00"/><stop offset="0.3038" stop-color="#ff8800"/><stop offset="0.3160" stop-color="#ffff00"/><stop offset="0.3344" stop-color="#ffff00"/><stop offset="0.3481" stop-color="#aaff00"/><stop offset="0.3756" stop-color="#aaff00"/><stop offset="0.3969" stop-color="#00ff00"/><stop offset="0.7847" stop-color="#00ff00"/><stop offset="0.8076" stop-color="#00ff88"/><stop offset="0.8885" stop-color="#00ff88"/><stop offset="0.9099" stop-color="#00ffee"/><stop offset="1.0000" stop-color="#00ffee"/></linearGradient><linearGradient id="g36" gradientUnits="userSpaceOnUse" x1="0" y1="165.60" x2="0" y2="229.70"><stop offset="0.0000" stop-color="#00ffbb"/><stop offset="0.0530" stop-color="#00ffbb"/><stop offset="0.0655" stop-color="#00ff00"/><stop offset="0.0842" stop-color="#00ff00"/><stop offset="0.0967" stop-color="#aaff00"/><stop offset="0.1154" stop-color="#aaff00"/><stop offset="0.1264" stop-color="#ffff00"/><stop offset="0.1404" stop-color="#ff8800"/><stop offset="0.1560" stop-color="#ff8800"/><stop offset="0.1732" stop-color="#ff0000"/><stop offset="0.2621" stop-color="#ff0000"/><stop offset="0.2761" stop-color="#ff8800"/><stop offset="0.2933" stop-color="#ff8800"/><stop offset="0.3058" stop-color="#ffc400"/><stop offset="0.3339" stop-color="#ffc400"/><stop offset="0.3557" stop-color="#aaff00"/><stop offset="0.4087" stop-color="#aaff00"/><stop offset="0.4290" stop-color="#00ff00"/><stop offset="0.7956" stop-color="#00ff00"/><stop offset="0.8175" stop-color="#00ff88"/><stop offset="0.9204" stop-color="#00ff88"/><stop offset="0.9423" stop-color="#00c8ff"/><stop offset="1.0000" stop-color="#00c8ff"/></linearGradient><linearGradient id="g37" gradientUnits="userSpaceOnUse" x1="0" y1="170.00" x2="0" y2="232.00"><stop offset="0.0000" stop-color="#00ffbb"/><stop offset="0.0484" stop-color="#00ffbb"/><stop offset="0.0613" stop-color="#00ff00"/><stop offset="0.0806" stop-color="#00ff00"/><stop offset="0.0935" stop-color="#aaff00"/><stop offset="0.1242" stop-color="#aaff00"/><stop offset="0.1355" stop-color="#ff8800"/><stop offset="0.1452" stop-color="#ff8800"/><stop offset="0.1581" stop-color="#ff0000"/><stop offset="0.2532" stop-color="#ff0000"/><stop offset="0.2710" stop-color="#ff8800"/><stop offset="0.3065" stop-color="#ff8800"/><stop offset="0.3226" stop-color="#ffff00"/><stop offset="0.3839" stop-color="#ffff00"/><stop offset="0.3968" stop-color="#aaff00"/><stop offset="0.4258" stop-color="#aaff00"/><stop offset="0.4387" stop-color="#55ff00"/><stop offset="0.7516" stop-color="#55ff00"/><stop offset="0.7742" stop-color="#00ff00"/><stop offset="0.8806" stop-color="#00ff00"/><stop offset="0.8935" stop-color="#00ff88"/><stop offset="0.9355" stop-color="#00ff88"/><stop offset="0.9484" stop-color="#00ffee"/><stop offset="1.0000" stop-color="#00ffee"/></linearGradient><linearGradient id="g38" gradientUnits="userSpaceOnUse" x1="0" y1="171.20" x2="0" y2="231.40"><stop offset="0.0000" stop-color="#00ff00"/><stop offset="0.0748" stop-color="#00ff00"/><stop offset="0.0831" stop-color="#aaff00"/><stop offset="0.1080" stop-color="#aaff00"/><stop offset="0.1196" stop-color="#ff8800"/><stop offset="0.1412" stop-color="#ff8800"/><stop offset="0.1528" stop-color="#ff0000"/><stop offset="0.2625" stop-color="#ff0000"/><stop offset="0.2757" stop-color="#ff3a00"/><stop offset="0.3189" stop-color="#ff3a00"/><stop offset="0.3322" stop-color="#ff8800"/><stop offset="0.3522" stop-color="#ff8800"/><stop offset="0.3654" stop-color="#ffff00"/><stop offset="0.3953" stop-color="#ffff00"/><stop offset="0.4103" stop-color="#99ff00"/><stop offset="0.8439" stop-color="#99ff00"/><stop offset="0.8671" stop-color="#00ff00"/><stop offset="0.9103" stop-color="#00ff00"/><stop offset="0.9236" stop-color="#00ff60"/><stop offset="1.0000" stop-color="#00ff60"/></linearGradient><linearGradient id="g39" gradientUnits="userSpaceOnUse" x1="0" y1="179.00" x2="0" y2="232.00"><stop offset="0.0000" stop-color="#00ff00"/><stop offset="0.0755" stop-color="#00ff00"/><stop offset="0.0906" stop-color="#aaff00"/><stop offset="0.1264" stop-color="#aaff00"/><stop offset="0.1358" stop-color="#ffff00"/><stop offset="0.1509" stop-color="#ffff00"/><stop offset="0.1623" stop-color="#ff8800"/><stop offset="0.1774" stop-color="#ff8800"/><stop offset="0.1925" stop-color="#ff0000"/><stop offset="0.3415" stop-color="#ff0000"/><stop offset="0.3566" stop-color="#ff3a00"/><stop offset="0.4566" stop-color="#ff3a00"/><stop offset="0.4698" stop-color="#ffaa00"/><stop offset="0.5830" stop-color="#ffaa00"/><stop offset="0.5981" stop-color="#ffc400"/><stop offset="0.6585" stop-color="#ffc400"/><stop offset="0.6736" stop-color="#ffff00"/><stop offset="0.7849" stop-color="#ffff00"/><stop offset="0.8000" stop-color="#aaff00"/><stop offset="0.8604" stop-color="#aaff00"/><stop offset="0.8755" stop-color="#00ff00"/><stop offset="0.9245" stop-color="#00ff00"/><stop offset="0.9396" stop-color="#00ff88"/><stop offset="1.0000" stop-color="#00ff88"/></linearGradient><linearGradient id="g40" gradientUnits="userSpaceOnUse" x1="0" y1="179.00" x2="0" y2="232.00"><stop offset="0.0000" stop-color="#00ff00"/><stop offset="0.1019" stop-color="#00ff00"/><stop offset="0.1170" stop-color="#aaff00"/><stop offset="0.1509" stop-color="#aaff00"/><stop offset="0.1660" stop-color="#ff8800"/><stop offset="0.1887" stop-color="#ff8800"/><stop offset="0.2038" stop-color="#ff0000"/><stop offset="0.3547" stop-color="#ff0000"/><stop offset="0.3698" stop-color="#ff3a00"/><stop offset="0.4811" stop-color="#ff3a00"/><stop offset="0.4962" stop-color="#ffaa00"/><stop offset="0.7604" stop-color="#ffaa00"/><stop offset="0.7736" stop-color="#ffff00"/><stop offset="0.8226" stop-color="#ffff00"/><stop offset="0.8377" stop-color="#aaff00"/><stop offset="0.8736" stop-color="#aaff00"/><stop offset="0.8887" stop-color="#00ff00"/><stop offset="0.9377" stop-color="#00ff00"/><stop offset="0.9509" stop-color="#00ffee"/><stop offset="1.0000" stop-color="#00ffee"/></linearGradient><linearGradient id="g41" gradientUnits="userSpaceOnUse" x1="0" y1="186.00" x2="0" y2="232.00"><stop offset="0.0000" stop-color="#00ff38"/><stop offset="0.1087" stop-color="#00ff38"/><stop offset="0.1283" stop-color="#aaff00"/><stop offset="0.1978" stop-color="#aaff00"/><stop offset="0.2283" stop-color="#ff8800"/><stop offset="0.2848" stop-color="#ff8800"/><stop offset="0.3022" stop-color="#ff3a00"/><stop offset="0.3587" stop-color="#ff3a00"/><stop offset="0.3761" stop-color="#ff0000"/><stop offset="0.6065" stop-color="#ff0000"/><stop offset="0.6348" stop-color="#ff3a00"/><stop offset="0.6957" stop-color="#ff3a00"/><stop offset="0.7239" stop-color="#ff8800"/><stop offset="0.7826" stop-color="#ff8800"/><stop offset="0.7978" stop-color="#ffff00"/><stop offset="0.8696" stop-color="#ffff00"/><stop offset="0.8848" stop-color="#aaff00"/><stop offset="0.9130" stop-color="#aaff00"/><stop offset="0.9261" stop-color="#00ff00"/><stop offset="0.9391" stop-color="#00ffee"/><stop offset="1.0000" stop-color="#00ffee"/></linearGradient><linearGradient id="g42" gradientUnits="userSpaceOnUse" x1="0" y1="190.00" x2="0" y2="232.00"><stop offset="0.0000" stop-color="#00ff38"/><stop offset="0.0905" stop-color="#00ff38"/><stop offset="0.1095" stop-color="#aaff00"/><stop offset="0.1690" stop-color="#aaff00"/><stop offset="0.1881" stop-color="#ffff00"/><stop offset="0.2500" stop-color="#ffff00"/><stop offset="0.2667" stop-color="#ff8800"/><stop offset="0.3143" stop-color="#ff8800"/><stop offset="0.3476" stop-color="#ff3a00"/><stop offset="0.4095" stop-color="#ff3a00"/><stop offset="0.4429" stop-color="#ff0000"/><stop offset="0.6000" stop-color="#ff0000"/><stop offset="0.6333" stop-color="#ff3a00"/><stop offset="0.7286" stop-color="#ff3a00"/><stop offset="0.7452" stop-color="#ff8800"/><stop offset="0.7762" stop-color="#ff8800"/><stop offset="0.7952" stop-color="#ffff00"/><stop offset="0.8571" stop-color="#ffff00"/><stop offset="0.8738" stop-color="#aaff00"/><stop offset="0.9048" stop-color="#aaff00"/><stop offset="0.9238" stop-color="#00ffbb"/><stop offset="1.0000" stop-color="#00ffbb"/></linearGradient><linearGradient id="g43" gradientUnits="userSpaceOnUse" x1="0" y1="190.00" x2="0" y2="232.00"><stop offset="0.0000" stop-color="#00ff38"/><stop offset="0.1048" stop-color="#00ff38"/><stop offset="0.1238" stop-color="#aaff00"/><stop offset="0.1857" stop-color="#aaff00"/><stop offset="0.2024" stop-color="#ffff00"/><stop offset="0.2333" stop-color="#ffff00"/><stop offset="0.2667" stop-color="#ff8800"/><stop offset="0.3286" stop-color="#ff8800"/><stop offset="0.3476" stop-color="#ff3a00"/><stop offset="0.4405" stop-color="#ff3a00"/><stop offset="0.4738" stop-color="#ff0000"/><stop offset="0.6667" stop-color="#ff0000"/><stop offset="0.6833" stop-color="#ff3a00"/><stop offset="0.7619" stop-color="#ff3a00"/><stop offset="0.7786" stop-color="#ff8800"/><stop offset="0.8095" stop-color="#ff8800"/><stop offset="0.8262" stop-color="#ffff00"/><stop offset="0.8571" stop-color="#ffff00"/><stop offset="0.8738" stop-color="#aaff00"/><stop offset="0.9214" stop-color="#aaff00"/><stop offset="0.9381" stop-color="#00ffee"/><stop offset="1.0000" stop-color="#00ffee"/></linearGradient><linearGradient id="g44" gradientUnits="userSpaceOnUse" x1="0" y1="191.80" x2="0" y2="232.00"><stop offset="0.0000" stop-color="#00ff88"/><stop offset="0.0821" stop-color="#00ff88"/><stop offset="0.1020" stop-color="#55ff00"/><stop offset="0.1816" stop-color="#aaff00"/><stop offset="0.2015" stop-color="#ffff00"/><stop offset="0.2338" stop-color="#ffff00"/><stop offset="0.2512" stop-color="#ff8800"/><stop offset="0.3159" stop-color="#ff8800"/><stop offset="0.3507" stop-color="#ff3a00"/><stop offset="0.4502" stop-color="#ff3a00"/><stop offset="0.4826" stop-color="#ff0000"/><stop offset="0.6841" stop-color="#ff0000"/><stop offset="0.7015" stop-color="#ff3a00"/><stop offset="0.7662" stop-color="#ff3a00"/><stop offset="0.7836" stop-color="#ff8800"/><stop offset="0.8159" stop-color="#ff8800"/><stop offset="0.8333" stop-color="#ffff00"/><stop offset="0.8507" stop-color="#55ff00"/><stop offset="0.9851" stop-color="#55ff00"/><stop offset="1.0000" stop-color="#00ff00"/></linearGradient><linearGradient id="g45" gradientUnits="userSpaceOnUse" x1="0" y1="190.00" x2="0" y2="232.00"><stop offset="0.0000" stop-color="#00ff38"/><stop offset="0.0905" stop-color="#00ff38"/><stop offset="0.1071" stop-color="#aaff00"/><stop offset="0.1548" stop-color="#aaff00"/><stop offset="0.1857" stop-color="#ffc400"/><stop offset="0.2333" stop-color="#ffc400"/><stop offset="0.2667" stop-color="#ff3a00"/><stop offset="0.4405" stop-color="#ff3a00"/><stop offset="0.4738" stop-color="#ff0000"/><stop offset="0.6000" stop-color="#ff0000"/><stop offset="0.6333" stop-color="#ff3a00"/><stop offset="0.7119" stop-color="#ff3a00"/><stop offset="0.7310" stop-color="#ff8800"/><stop offset="0.8238" stop-color="#ff8800"/><stop offset="0.8405" stop-color="#ffff00"/><stop offset="0.8571" stop-color="#ffff00"/><stop offset="0.8738" stop-color="#00ff00"/><stop offset="0.9214" stop-color="#00ff00"/><stop offset="0.9381" stop-color="#00ffee"/><stop offset="1.0000" stop-color="#00ffee"/></linearGradient><linearGradient id="g46" gradientUnits="userSpaceOnUse" x1="0" y1="186.80" x2="0" y2="232.00"><stop offset="0.0000" stop-color="#00ff38"/><stop offset="0.0929" stop-color="#00ff38"/><stop offset="0.1106" stop-color="#aaff00"/><stop offset="0.1549" stop-color="#aaff00"/><stop offset="0.1704" stop-color="#ffff00"/><stop offset="0.1836" stop-color="#ffff00"/><stop offset="0.2013" stop-color="#ff8800"/><stop offset="0.2588" stop-color="#ff8800"/><stop offset="0.2743" stop-color="#ff3a00"/><stop offset="0.3628" stop-color="#ff3a00"/><stop offset="0.3783" stop-color="#ff0000"/><stop offset="0.5996" stop-color="#ff0000"/><stop offset="0.6283" stop-color="#ff3a00"/><stop offset="0.7478" stop-color="#ff3a00"/><stop offset="0.7633" stop-color="#ff8800"/><stop offset="0.8230" stop-color="#ff8800"/><stop offset="0.8385" stop-color="#ffff00"/><stop offset="0.8606" stop-color="#ffff00"/><stop offset="0.8761" stop-color="#00ff00"/><stop offset="0.9270" stop-color="#00ff00"/><stop offset="0.9425" stop-color="#00ffee"/><stop offset="1.0000" stop-color="#00ffee"/></linearGradient><linearGradient id="g47" gradientUnits="userSpaceOnUse" x1="0" y1="186.00" x2="0" y2="232.00"><stop offset="0.0000" stop-color="#00ff00"/><stop offset="0.0957" stop-color="#00ff00"/><stop offset="0.1109" stop-color="#aaff00"/><stop offset="0.1391" stop-color="#aaff00"/><stop offset="0.1543" stop-color="#ff8800"/><stop offset="0.1978" stop-color="#ff8800"/><stop offset="0.2152" stop-color="#ff0000"/><stop offset="0.4022" stop-color="#ff0000"/><stop offset="0.4196" stop-color="#ff3a00"/><stop offset="0.6065" stop-color="#ff3a00"/><stop offset="0.6239" stop-color="#ff0000"/><stop offset="0.7826" stop-color="#ff0000"/><stop offset="0.7978" stop-color="#ff3a00"/><stop offset="0.8391" stop-color="#ff3a00"/><stop offset="0.8478" stop-color="#ff8800"/><stop offset="0.8630" stop-color="#ff8800"/><stop offset="0.8761" stop-color="#aaff00"/><stop offset="0.9283" stop-color="#aaff00"/><stop offset="0.9435" stop-color="#00ff88"/><stop offset="1.0000" stop-color="#00ff88"/></linearGradient><linearGradient id="g48" gradientUnits="userSpaceOnUse" x1="0" y1="182.40" x2="0" y2="232.00"><stop offset="0.0000" stop-color="#00ff00"/><stop offset="0.0927" stop-color="#00ff00"/><stop offset="0.1089" stop-color="#aaff00"/><stop offset="0.1331" stop-color="#aaff00"/><stop offset="0.1492" stop-color="#ff8800"/><stop offset="0.1895" stop-color="#ff8800"/><stop offset="0.2036" stop-color="#ff0000"/><stop offset="0.3790" stop-color="#ff0000"/><stop offset="0.3931" stop-color="#ff3a00"/><stop offset="0.4315" stop-color="#ff3a00"/><stop offset="0.4476" stop-color="#ff8800"/><stop offset="0.5544" stop-color="#ff8800"/><stop offset="0.5685" stop-color="#ff3a00"/><stop offset="0.6089" stop-color="#ff3a00"/><stop offset="0.6351" stop-color="#ff0000"/><stop offset="0.7702" stop-color="#ff0000"/><stop offset="0.7843" stop-color="#ff3a00"/><stop offset="0.8105" stop-color="#ff3a00"/><stop offset="0.8266" stop-color="#ffff00"/><stop offset="0.8649" stop-color="#ffff00"/><stop offset="0.8790" stop-color="#aaff00"/><stop offset="0.9335" stop-color="#aaff00"/><stop offset="0.9476" stop-color="#00ff00"/><stop offset="0.9738" stop-color="#00ff00"/><stop offset="0.9879" stop-color="#00ffee"/><stop offset="1.0000" stop-color="#00ffee"/></linearGradient><linearGradient id="g49" gradientUnits="userSpaceOnUse" x1="0" y1="186.00" x2="0" y2="232.00"><stop offset="0.0000" stop-color="#00ff00"/><stop offset="0.0957" stop-color="#00ff00"/><stop offset="0.1109" stop-color="#aaff00"/><stop offset="0.1391" stop-color="#aaff00"/><stop offset="0.1543" stop-color="#ff8800"/><stop offset="0.1978" stop-color="#ff8800"/><stop offset="0.2152" stop-color="#ff3a00"/><stop offset="0.2848" stop-color="#ff3a00"/><stop offset="0.3152" stop-color="#ff0000"/><stop offset="0.7522" stop-color="#ff0000"/><stop offset="0.7674" stop-color="#ff8800"/><stop offset="0.8109" stop-color="#ff8800"/><stop offset="0.8261" stop-color="#ffff00"/><stop offset="0.8848" stop-color="#ffff00"/><stop offset="0.9000" stop-color="#00ff00"/><stop offset="0.9565" stop-color="#00ff00"/><stop offset="0.9717" stop-color="#00ff88"/><stop offset="1.0000" stop-color="#00ff88"/></linearGradient><linearGradient id="g50" gradientUnits="userSpaceOnUse" x1="0" y1="186.80" x2="0" y2="232.00"><stop offset="0.0000" stop-color="#00ff38"/><stop offset="0.1239" stop-color="#00ff38"/><stop offset="0.1394" stop-color="#aaff00"/><stop offset="0.1991" stop-color="#aaff00"/><stop offset="0.2146" stop-color="#ffff00"/><stop offset="0.2588" stop-color="#ffff00"/><stop offset="0.2743" stop-color="#ff8800"/><stop offset="0.3473" stop-color="#ff8800"/><stop offset="0.3628" stop-color="#ff3a00"/><stop offset="0.4071" stop-color="#ff3a00"/><stop offset="0.4226" stop-color="#ff0000"/><stop offset="0.6283" stop-color="#ff0000"/><stop offset="0.6460" stop-color="#ff3a00"/><stop offset="0.7190" stop-color="#ff3a00"/><stop offset="0.7345" stop-color="#ff8800"/><stop offset="0.7788" stop-color="#ff8800"/><stop offset="0.7942" stop-color="#ffff00"/><stop offset="0.8230" stop-color="#ffff00"/><stop offset="0.8385" stop-color="#aaff00"/><stop offset="0.9270" stop-color="#aaff00"/><stop offset="0.9425" stop-color="#00ff00"/><stop offset="1.0000" stop-color="#00ff00"/></linearGradient><linearGradient id="g51" gradientUnits="userSpaceOnUse" x1="0" y1="191.80" x2="0" y2="232.00"><stop offset="0.0000" stop-color="#00ff88"/><stop offset="0.0647" stop-color="#00ff88"/><stop offset="0.0846" stop-color="#00ff00"/><stop offset="0.1667" stop-color="#00ff00"/><stop offset="0.1841" stop-color="#aaff00"/><stop offset="0.2662" stop-color="#aaff00"/><stop offset="0.2786" stop-color="#ffff00"/><stop offset="0.2985" stop-color="#ffff00"/><stop offset="0.3184" stop-color="#ff8800"/><stop offset="0.3831" stop-color="#ff8800"/><stop offset="0.4005" stop-color="#ff3a00"/><stop offset="0.4502" stop-color="#ff3a00"/><stop offset="0.4701" stop-color="#ff0000"/><stop offset="0.6517" stop-color="#ff0000"/><stop offset="0.6692" stop-color="#ff3a00"/><stop offset="0.7338" stop-color="#ff3a00"/><stop offset="0.7512" stop-color="#ff8800"/><stop offset="0.7836" stop-color="#ff8800"/><stop offset="0.8010" stop-color="#aaff00"/><stop offset="0.8831" stop-color="#aaff00"/><stop offset="0.9005" stop-color="#00ff00"/><stop offset="0.9328" stop-color="#00ff00"/><stop offset="0.9502" stop-color="#00ffbb"/><stop offset="1.0000" stop-color="#00ffbb"/></linearGradient><linearGradient id="g52" gradientUnits="userSpaceOnUse" x1="0" y1="186.80" x2="0" y2="232.00"><stop offset="0.0000" stop-color="#00ff38"/><stop offset="0.1549" stop-color="#00ff38"/><stop offset="0.1704" stop-color="#aaff00"/><stop offset="0.2434" stop-color="#aaff00"/><stop offset="0.2588" stop-color="#ffff00"/><stop offset="0.2743" stop-color="#ffff00"/><stop offset="0.2898" stop-color="#ff8800"/><stop offset="0.3628" stop-color="#ff8800"/><stop offset="0.3783" stop-color="#ff3a00"/><stop offset="0.4801" stop-color="#ff3a00"/><stop offset="0.4978" stop-color="#ff0000"/><stop offset="0.6593" stop-color="#ff0000"/><stop offset="0.6748" stop-color="#ff3a00"/><stop offset="0.7478" stop-color="#ff3a00"/><stop offset="0.7633" stop-color="#ff8800"/><stop offset="0.7920" stop-color="#ff8800"/><stop offset="0.8097" stop-color="#ffff00"/><stop offset="0.8518" stop-color="#ffff00"/><stop offset="0.8673" stop-color="#aaff00"/><stop offset="0.8960" stop-color="#aaff00"/><stop offset="0.9115" stop-color="#00ff88"/><stop offset="0.9403" stop-color="#00ff88"/><stop offset="0.9558" stop-color="#00ffee"/><stop offset="1.0000" stop-color="#00ffee"/></linearGradient><linearGradient id="g53" gradientUnits="userSpaceOnUse" x1="0" y1="195.10" x2="0" y2="232.00"><stop offset="0.0000" stop-color="#00ff38"/><stop offset="0.1084" stop-color="#00ff38"/><stop offset="0.1274" stop-color="#aaff00"/><stop offset="0.1816" stop-color="#aaff00"/><stop offset="0.2005" stop-color="#ffff00"/><stop offset="0.2358" stop-color="#ffff00"/><stop offset="0.2575" stop-color="#ff8800"/><stop offset="0.3279" stop-color="#ff8800"/><stop offset="0.3469" stop-color="#ff3a00"/><stop offset="0.4011" stop-color="#ff3a00"/><stop offset="0.4228" stop-color="#ff0000"/><stop offset="0.7290" stop-color="#ff0000"/><stop offset="0.7480" stop-color="#ff8800"/><stop offset="0.7669" stop-color="#ff8800"/><stop offset="0.7832" stop-color="#ffff00"/><stop offset="0.8564" stop-color="#ffff00"/><stop offset="0.8753" stop-color="#aaff00"/><stop offset="0.9106" stop-color="#aaff00"/><stop offset="0.9295" stop-color="#00ff00"/><stop offset="1.0000" stop-color="#00ff00"/></linearGradient><filter id="vb" x="0" y="0" width="1" height="1" filterUnits="objectBoundingBox"><feGaussianBlur stdDeviation="0 1.1"/></filter><clipPath id="cc"><path d="M58.40 188.70V188.70H82.68V182.40H106.16V160.20H129.64V151.00H153.12V145.30H176.60V135.80H200.08V125.20H223.56V135.80H247.04V140.40H270.52V159.20H294.00V175.00H317.48V186.00H340.96V188.70H364.44V186.00H387.92V188.70H411.40V188.70H434.88V103.20H458.36V108.10H481.84V108.10H505.32V139.00H528.80V134.00H552.28V140.70H575.76V137.10H599.24V145.20H622.72V153.10H646.20V151.10H669.68V163.80H693.16V175.00H716.64V176.30H740.12V177.70H763.60V179.00H787.08V186.80H810.56V162.00H834.04V165.60H857.52V159.10H881.00V163.80H904.48V165.60H927.96V170.00H951.44V171.20H974.92V179.00H998.40V179.00H1021.88V186.00H1045.36V190.00H1068.84V190.00H1092.32V191.80H1115.80V190.00H1139.28V186.80H1162.76V186.00H1186.24V182.40H1209.72V186.00H1233.20V186.80H1256.68V191.80H1280.16V186.80H1303.64V195.10H1327.40V231.60H1303.64V231.60H1280.16V231.60H1256.68V231.60H1233.20V231.60H1209.72V231.60H1186.24V231.60H1162.76V231.60H1139.28V231.60H1115.80V231.60H1092.32V231.60H1068.84V231.60H1045.36V231.60H1021.88V231.60H998.40V231.60H974.92V231.40H951.44V231.60H927.96V229.70H904.48V229.30H881.00V228.70H857.52V228.40H834.04V228.70H810.56V231.60H787.08V229.70H763.60V228.70H740.12V229.30H716.64V229.70H693.16V230.00H669.68V226.70H646.20V227.00H622.72V225.00H599.24V221.70H575.76V225.00H552.28V223.30H528.80V228.70H505.32V230.30H481.84V229.70H458.36V231.60H434.88V231.60H411.40V231.60H387.92V231.60H364.44V231.60H340.96V231.60H317.48V231.60H294.00V228.40H270.52V223.60H247.04V220.90H223.56V212.80H200.08V223.30H176.60V227.00H153.12V228.40H129.64V231.60H106.16V231.60H82.68V231.60H58.40Z"/></clipPath></defs>
<g clip-path="url(#cc)"><g filter="url(#vb)" shape-rendering="crispEdges"><rect x="58" y="90" width="1270" height="150" fill="none"/><rect x="58.40" y="184.70" width="24.58" height="51.30" fill="url(#g0)"/><rect x="82.68" y="178.40" width="23.78" height="57.60" fill="url(#g1)"/><rect x="106.16" y="156.20" width="23.78" height="79.80" fill="url(#g2)"/><rect x="129.64" y="147.00" width="23.78" height="85.40" fill="url(#g3)"/><rect x="153.12" y="141.30" width="23.78" height="89.70" fill="url(#g4)"/><rect x="176.60" y="131.80" width="23.78" height="95.50" fill="url(#g5)"/><rect x="200.08" y="121.20" width="23.78" height="95.60" fill="url(#g6)"/><rect x="223.56" y="131.80" width="23.78" height="93.10" fill="url(#g7)"/><rect x="247.04" y="136.40" width="23.78" height="91.20" fill="url(#g8)"/><rect x="270.52" y="155.20" width="23.78" height="77.20" fill="url(#g9)"/><rect x="294.00" y="171.00" width="23.78" height="65.00" fill="url(#g10)"/><rect x="317.48" y="182.00" width="23.78" height="54.00" fill="url(#g11)"/><rect x="340.96" y="184.70" width="23.78" height="51.30" fill="url(#g12)"/><rect x="364.44" y="182.00" width="23.78" height="54.00" fill="url(#g13)"/><rect x="387.92" y="184.70" width="23.78" height="51.30" fill="url(#g14)"/><rect x="411.40" y="184.70" width="23.78" height="51.30" fill="url(#g15)"/><rect x="434.88" y="99.20" width="23.78" height="136.80" fill="url(#g16)"/><rect x="458.36" y="104.10" width="23.78" height="129.60" fill="url(#g17)"/><rect x="481.84" y="104.10" width="23.78" height="130.20" fill="url(#g18)"/><rect x="505.32" y="135.00" width="23.78" height="97.70" fill="url(#g19)"/><rect x="528.80" y="130.00" width="23.78" height="97.30" fill="url(#g20)"/><rect x="552.28" y="136.70" width="23.78" height="92.30" fill="url(#g21)"/><rect x="575.76" y="133.10" width="23.78" height="92.60" fill="url(#g22)"/><rect x="599.24" y="141.20" width="23.78" height="87.80" fill="url(#g23)"/><rect x="622.72" y="149.10" width="23.78" height="81.90" fill="url(#g24)"/><rect x="646.20" y="147.10" width="23.78" height="83.60" fill="url(#g25)"/><rect x="669.68" y="159.80" width="23.78" height="74.20" fill="url(#g26)"/><rect x="693.16" y="171.00" width="23.78" height="62.70" fill="url(#g27)"/><rect x="716.64" y="172.30" width="23.78" height="61.00" fill="url(#g28)"/><rect x="740.12" y="173.70" width="23.78" height="59.00" fill="url(#g29)"/><rect x="763.60" y="175.00" width="23.78" height="58.70" fill="url(#g30)"/><rect x="787.08" y="182.80" width="23.78" height="53.20" fill="url(#g31)"/><rect x="810.56" y="158.00" width="23.78" height="74.70" fill="url(#g32)"/><rect x="834.04" y="161.60" width="23.78" height="70.80" fill="url(#g33)"/><rect x="857.52" y="155.10" width="23.78" height="77.60" fill="url(#g34)"/><rect x="881.00" y="159.80" width="23.78" height="73.50" fill="url(#g35)"/><rect x="904.48" y="161.60" width="23.78" height="72.10" fill="url(#g36)"/><rect x="927.96" y="166.00" width="23.78" height="70.00" fill="url(#g37)"/><rect x="951.44" y="167.20" width="23.78" height="68.20" fill="url(#g38)"/><rect x="974.92" y="175.00" width="23.78" height="61.00" fill="url(#g39)"/><rect x="998.40" y="175.00" width="23.78" height="61.00" fill="url(#g40)"/><rect x="1021.88" y="182.00" width="23.78" height="54.00" fill="url(#g41)"/><rect x="1045.36" y="186.00" width="23.78" height="50.00" fill="url(#g42)"/><rect x="1068.84" y="186.00" width="23.78" height="50.00" fill="url(#g43)"/><rect x="1092.32" y="187.80" width="23.78" height="48.20" fill="url(#g44)"/><rect x="1115.80" y="186.00" width="23.78" height="50.00" fill="url(#g45)"/><rect x="1139.28" y="182.80" width="23.78" height="53.20" fill="url(#g46)"/><rect x="1162.76" y="182.00" width="23.78" height="54.00" fill="url(#g47)"/><rect x="1186.24" y="178.40" width="23.78" height="57.60" fill="url(#g48)"/><rect x="1209.72" y="182.00" width="23.78" height="54.00" fill="url(#g49)"/><rect x="1233.20" y="182.80" width="23.78" height="53.20" fill="url(#g50)"/><rect x="1256.68" y="187.80" width="23.78" height="48.20" fill="url(#g51)"/><rect x="1280.16" y="182.80" width="23.78" height="53.20" fill="url(#g52)"/><rect x="1303.64" y="191.10" width="23.76" height="44.90" fill="url(#g53)"/></g></g>
<rect x="57.8" y="30.50" width="1269.70" height="201.80" fill="none" stroke="#1a1a1a" stroke-width="1.3"/>
<g stroke="#000" fill="none"><path d="M51 58.90H58" stroke-width="2.6"/><path d="M54.6 45.44H58" stroke-width="1"/><path d="M54.6 37.57H58" stroke-width="1"/><path d="M54.6 31.99H58" stroke-width="1"/><path d="M51 103.50H58" stroke-width="2.6"/><path d="M54.6 90.04H58" stroke-width="1"/><path d="M54.6 82.17H58" stroke-width="1"/><path d="M54.6 76.59H58" stroke-width="1"/><path d="M54.6 72.26H58" stroke-width="1"/><path d="M54.6 68.72H58" stroke-width="1"/><path d="M54.6 65.72H58" stroke-width="1"/><path d="M54.6 63.13H58" stroke-width="1"/><path d="M54.6 60.85H58" stroke-width="1"/><path d="M51 148.20H58" stroke-width="2.6"/><path d="M54.6 134.74H58" stroke-width="1"/><path d="M54.6 126.87H58" stroke-width="1"/><path d="M54.6 121.29H58" stroke-width="1"/><path d="M54.6 116.96H58" stroke-width="1"/><path d="M54.6 113.42H58" stroke-width="1"/><path d="M54.6 110.42H58" stroke-width="1"/><path d="M54.6 107.83H58" stroke-width="1"/><path d="M54.6 105.55H58" stroke-width="1"/><path d="M51 192.90H58" stroke-width="2.6"/><path d="M54.6 179.44H58" stroke-width="1"/><path d="M54.6 171.57H58" stroke-width="1"/><path d="M54.6 165.99H58" stroke-width="1"/><path d="M54.6 161.66H58" stroke-width="1"/><path d="M54.6 158.12H58" stroke-width="1"/><path d="M54.6 155.12H58" stroke-width="1"/><path d="M54.6 152.53H58" stroke-width="1"/><path d="M54.6 150.25H58" stroke-width="1"/><path d="M54.6 196.60H58" stroke-width="1"/><path d="M54.6 197.90H58" stroke-width="1"/><path d="M54.6 199.60H58" stroke-width="1"/><path d="M54.6 202.10H58" stroke-width="1"/><path d="M54.6 205.10H58" stroke-width="1"/><path d="M54.6 208.90H58" stroke-width="1"/><path d="M54.6 212.70H58" stroke-width="1"/><path d="M54.6 217.70H58" stroke-width="1"/><path d="M51 222.90H58" stroke-width="2.2"/><path d="M51 227.30H58" stroke-width="2.2"/><path d="M51 231.50H58" stroke-width="2.2"/><path d="M70.40 232.4V241.2" stroke-width="1.9"/><path d="M93.89 232.4V241.2" stroke-width="1.9"/><path d="M117.38 232.4V241.2" stroke-width="1.9"/><path d="M140.87 232.4V241.2" stroke-width="1.9"/><path d="M164.36 232.4V241.2" stroke-width="1.9"/><path d="M187.85 232.4V241.2" stroke-width="1.9"/><path d="M211.34 232.4V241.2" stroke-width="1.9"/><path d="M234.83 232.4V241.2" stroke-width="1.9"/><path d="M258.32 232.4V241.2" stroke-width="1.9"/><path d="M281.81 232.4V241.2" stroke-width="1.9"/><path d="M305.30 232.4V241.2" stroke-width="1.9"/><path d="M328.79 232.4V241.2" stroke-width="1.9"/><path d="M352.28 232.4V241.2" stroke-width="1.9"/><path d="M375.77 232.4V241.2" stroke-width="1.9"/><path d="M399.26 232.4V241.2" stroke-width="1.9"/><path d="M422.75 232.4V241.2" stroke-width="1.9"/><path d="M446.24 232.4V241.2" stroke-width="1.9"/><path d="M469.73 232.4V241.2" stroke-width="1.9"/><path d="M493.22 232.4V241.2" stroke-width="1.9"/><path d="M516.71 232.4V241.2" stroke-width="1.9"/><path d="M540.20 232.4V241.2" stroke-width="1.9"/><path d="M563.69 232.4V241.2" stroke-width="1.9"/><path d="M587.18 232.4V241.2" stroke-width="1.9"/><path d="M610.67 232.4V241.2" stroke-width="1.9"/><path d="M634.16 232.4V241.2" stroke-width="1.9"/><path d="M657.65 232.4V241.2" stroke-width="1.9"/><path d="M681.14 232.4V241.2" stroke-width="1.9"/><path d="M704.63 232.4V241.2" stroke-width="1.9"/><path d="M728.12 232.4V241.2" stroke-width="1.9"/><path d="M751.61 232.4V241.2" stroke-width="1.9"/><path d="M775.10 232.4V241.2" stroke-width="1.9"/><path d="M798.59 232.4V241.2" stroke-width="1.9"/><path d="M822.08 232.4V241.2" stroke-width="1.9"/><path d="M845.57 232.4V241.2" stroke-width="1.9"/><path d="M869.06 232.4V241.2" stroke-width="1.9"/><path d="M892.55 232.4V241.2" stroke-width="1.9"/><path d="M916.04 232.4V241.2" stroke-width="1.9"/><path d="M939.53 232.4V241.2" stroke-width="1.9"/><path d="M963.02 232.4V241.2" stroke-width="1.9"/><path d="M986.51 232.4V241.2" stroke-width="1.9"/><path d="M1010.00 232.4V241.2" stroke-width="1.9"/><path d="M1033.49 232.4V241.2" stroke-width="1.9"/><path d="M1056.98 232.4V241.2" stroke-width="1.9"/><path d="M1080.47 232.4V241.2" stroke-width="1.9"/><path d="M1103.96 232.4V241.2" stroke-width="1.9"/><path d="M1127.45 232.4V241.2" stroke-width="1.9"/><path d="M1150.94 232.4V241.2" stroke-width="1.9"/><path d="M1174.43 232.4V241.2" stroke-width="1.9"/><path d="M1197.92 232.4V241.2" stroke-width="1.9"/><path d="M1221.41 232.4V241.2" stroke-width="1.9"/><path d="M1244.90 232.4V241.2" stroke-width="1.9"/><path d="M1268.39 232.4V241.2" stroke-width="1.9"/><path d="M1291.88 232.4V241.2" stroke-width="1.9"/><path d="M1315.37 232.4V241.2" stroke-width="1.9"/></g>
<text x="31.00" y="64.10" font-size="12.60" font-weight="bold" text-anchor="start" fill="#000" textLength="12.20" lengthAdjust="spacingAndGlyphs" stroke="#000" stroke-width="0.3">10</text>
<text x="43.70" y="58.30" font-size="7.60" font-weight="bold" text-anchor="start" fill="#000" textLength="3.90" lengthAdjust="spacingAndGlyphs" stroke="#000" stroke-width="0.25">6</text>
<text x="31.00" y="108.70" font-size="12.60" font-weight="bold" text-anchor="start" fill="#000" textLength="12.20" lengthAdjust="spacingAndGlyphs" stroke="#000" stroke-width="0.3">10</text>
<text x="43.70" y="102.90" font-size="7.60" font-weight="bold" text-anchor="start" fill="#000" textLength="3.90" lengthAdjust="spacingAndGlyphs" stroke="#000" stroke-width="0.25">5</text>
<text x="31.00" y="153.40" font-size="12.60" font-weight="bold" text-anchor="start" fill="#000" textLength="12.20" lengthAdjust="spacingAndGlyphs" stroke="#000" stroke-width="0.3">10</text>
<text x="43.70" y="147.60" font-size="7.60" font-weight="bold" text-anchor="start" fill="#000" textLength="3.90" lengthAdjust="spacingAndGlyphs" stroke="#000" stroke-width="0.25">4</text>
<text x="31.00" y="198.10" font-size="12.60" font-weight="bold" text-anchor="start" fill="#000" textLength="12.20" lengthAdjust="spacingAndGlyphs" stroke="#000" stroke-width="0.3">10</text>
<text x="43.70" y="192.30" font-size="7.60" font-weight="bold" text-anchor="start" fill="#000" textLength="3.90" lengthAdjust="spacingAndGlyphs" stroke="#000" stroke-width="0.25">3</text>
<text x="41.50" y="232.80" font-size="12.60" font-weight="bold" text-anchor="start" fill="#000" textLength="5.90" lengthAdjust="spacingAndGlyphs" stroke="#000" stroke-width="0.3">0</text>
<g transform="translate(21.3,131.2) rotate(-90)">
<text x="0.00" y="0.00" font-size="12.20" font-weight="bold" text-anchor="middle" fill="#000" textLength="56.50" lengthAdjust="spacingAndGlyphs" stroke="#000" stroke-width="0.3">Intensity</text>
</g>
<text x="656.20" y="26.80" font-size="17.80" font-weight="bold" text-anchor="start" fill="#000" textLength="69.60" lengthAdjust="spacingAndGlyphs" >All Events</text>
<text x="671.40" y="286.60" font-size="13.40" font-weight="bold" text-anchor="start" fill="#000" textLength="42.60" lengthAdjust="spacingAndGlyphs" >Channel</text>
<g transform="translate(79.00,254.30) rotate(-45)">
<text x="0.00" y="0.00" font-size="12.40" font-weight="bold" text-anchor="end" fill="#000" textLength="23.00" lengthAdjust="spacingAndGlyphs" stroke="#000" stroke-width="0.25">UV1</text>
</g>
<g transform="translate(102.49,254.30) rotate(-45)">
<text x="0.00" y="0.00" font-size="12.40" font-weight="bold" text-anchor="end" fill="#000" textLength="23.00" lengthAdjust="spacingAndGlyphs" stroke="#000" stroke-width="0.25">UV2</text>
</g>
<g transform="translate(125.98,254.30) rotate(-45)">
<text x="0.00" y="0.00" font-size="12.40" font-weight="bold" text-anchor="end" fill="#000" textLength="23.00" lengthAdjust="spacingAndGlyphs" stroke="#000" stroke-width="0.25">UV3</text>
</g>
<g transform="translate(149.47,254.30) rotate(-45)">
<text x="0.00" y="0.00" font-size="12.40" font-weight="bold" text-anchor="end" fill="#000" textLength="23.00" lengthAdjust="spacingAndGlyphs" stroke="#000" stroke-width="0.25">UV4</text>
</g>
<g transform="translate(172.96,254.30) rotate(-45)">
<text x="0.00" y="0.00" font-size="12.40" font-weight="bold" text-anchor="end" fill="#000" textLength="23.00" lengthAdjust="spacingAndGlyphs" stroke="#000" stroke-width="0.25">UV5</text>
</g>
<g transform="translate(196.45,254.30) rotate(-45)">
<text x="0.00" y="0.00" font-size="12.40" font-weight="bold" text-anchor="end" fill="#000" textLength="23.00" lengthAdjust="spacingAndGlyphs" stroke="#000" stroke-width="0.25">UV6</text>
</g>
<g transform="translate(219.94,254.30) rotate(-45)">
<text x="0.00" y="0.00" font-size="12.40" font-weight="bold" text-anchor="end" fill="#000" textLength="23.00" lengthAdjust="spacingAndGlyphs" stroke="#000" stroke-width="0.25">UV7</text>
</g>
<g transform="translate(243.43,254.30) rotate(-45)">
<text x="0.00" y="0.00" font-size="12.40" font-weight="bold" text-anchor="end" fill="#000" textLength="23.00" lengthAdjust="spacingAndGlyphs" stroke="#000" stroke-width="0.25">UV8</text>
</g>
<g transform="translate(266.92,254.30) rotate(-45)">
<text x="0.00" y="0.00" font-size="12.40" font-weight="bold" text-anchor="end" fill="#000" textLength="23.00" lengthAdjust="spacingAndGlyphs" stroke="#000" stroke-width="0.25">UV9</text>
</g>
<g transform="translate(290.41,254.30) rotate(-45)">
<text x="0.00" y="0.00" font-size="12.40" font-weight="bold" text-anchor="end" fill="#000" textLength="29.80" lengthAdjust="spacingAndGlyphs" stroke="#000" stroke-width="0.25">UV10</text>
</g>
<g transform="translate(313.90,254.30) rotate(-45)">
<text x="0.00" y="0.00" font-size="12.40" font-weight="bold" text-anchor="end" fill="#000" textLength="29.80" lengthAdjust="spacingAndGlyphs" stroke="#000" stroke-width="0.25">UV11</text>
</g>
<g transform="translate(337.39,254.30) rotate(-45)">
<text x="0.00" y="0.00" font-size="12.40" font-weight="bold" text-anchor="end" fill="#000" textLength="29.80" lengthAdjust="spacingAndGlyphs" stroke="#000" stroke-width="0.25">UV12</text>
</g>
<g transform="translate(360.88,254.30) rotate(-45)">
<text x="0.00" y="0.00" font-size="12.40" font-weight="bold" text-anchor="end" fill="#000" textLength="29.80" lengthAdjust="spacingAndGlyphs" stroke="#000" stroke-width="0.25">UV13</text>
</g>
<g transform="translate(384.37,254.30) rotate(-45)">
<text x="0.00" y="0.00" font-size="12.40" font-weight="bold" text-anchor="end" fill="#000" textLength="29.80" lengthAdjust="spacingAndGlyphs" stroke="#000" stroke-width="0.25">UV14</text>
</g>
<g transform="translate(407.86,254.30) rotate(-45)">
<text x="0.00" y="0.00" font-size="12.40" font-weight="bold" text-anchor="end" fill="#000" textLength="29.80" lengthAdjust="spacingAndGlyphs" stroke="#000" stroke-width="0.25">UV15</text>
</g>
<g transform="translate(431.35,254.30) rotate(-45)">
<text x="0.00" y="0.00" font-size="12.40" font-weight="bold" text-anchor="end" fill="#000" textLength="29.80" lengthAdjust="spacingAndGlyphs" stroke="#000" stroke-width="0.25">UV16</text>
</g>
<g transform="translate(454.84,254.30) rotate(-45)">
<text x="0.00" y="0.00" font-size="12.40" font-weight="bold" text-anchor="end" fill="#000" textLength="15.40" lengthAdjust="spacingAndGlyphs" stroke="#000" stroke-width="0.25">V1</text>
</g>
<g transform="translate(478.33,254.30) rotate(-45)">
<text x="0.00" y="0.00" font-size="12.40" font-weight="bold" text-anchor="end" fill="#000" textLength="15.40" lengthAdjust="spacingAndGlyphs" stroke="#000" stroke-width="0.25">V2</text>
</g>
<g transform="translate(501.82,254.30) rotate(-45)">
<text x="0.00" y="0.00" font-size="12.40" font-weight="bold" text-anchor="end" fill="#000" textLength="15.40" lengthAdjust="spacingAndGlyphs" stroke="#000" stroke-width="0.25">V3</text>
</g>
<g transform="translate(525.31,254.30) rotate(-45)">
<text x="0.00" y="0.00" font-size="12.40" font-weight="bold" text-anchor="end" fill="#000" textLength="15.40" lengthAdjust="spacingAndGlyphs" stroke="#000" stroke-width="0.25">V4</text>
</g>
<g transform="translate(548.80,254.30) rotate(-45)">
<text x="0.00" y="0.00" font-size="12.40" font-weight="bold" text-anchor="end" fill="#000" textLength="15.40" lengthAdjust="spacingAndGlyphs" stroke="#000" stroke-width="0.25">V5</text>
</g>
<g transform="translate(572.29,254.30) rotate(-45)">
<text x="0.00" y="0.00" font-size="12.40" font-weight="bold" text-anchor="end" fill="#000" textLength="15.40" lengthAdjust="spacingAndGlyphs" stroke="#000" stroke-width="0.25">V6</text>
</g>
<g transform="translate(595.78,254.30) rotate(-45)">
<text x="0.00" y="0.00" font-size="12.40" font-weight="bold" text-anchor="end" fill="#000" textLength="15.40" lengthAdjust="spacingAndGlyphs" stroke="#000" stroke-width="0.25">V7</text>
</g>
<g transform="translate(619.27,254.30) rotate(-45)">
<text x="0.00" y="0.00" font-size="12.40" font-weight="bold" text-anchor="end" fill="#000" textLength="15.40" lengthAdjust="spacingAndGlyphs" stroke="#000" stroke-width="0.25">V8</text>
</g>
<g transform="translate(642.76,254.30) rotate(-45)">
<text x="0.00" y="0.00" font-size="12.40" font-weight="bold" text-anchor="end" fill="#000" textLength="15.40" lengthAdjust="spacingAndGlyphs" stroke="#000" stroke-width="0.25">V9</text>
</g>
<g transform="translate(666.25,254.30) rotate(-45)">
<text x="0.00" y="0.00" font-size="12.40" font-weight="bold" text-anchor="end" fill="#000" textLength="22.00" lengthAdjust="spacingAndGlyphs" stroke="#000" stroke-width="0.25">V10</text>
</g>
<g transform="translate(689.74,254.30) rotate(-45)">
<text x="0.00" y="0.00" font-size="12.40" font-weight="bold" text-anchor="end" fill="#000" textLength="22.00" lengthAdjust="spacingAndGlyphs" stroke="#000" stroke-width="0.25">V11</text>
</g>
<g transform="translate(713.23,254.30) rotate(-45)">
<text x="0.00" y="0.00" font-size="12.40" font-weight="bold" text-anchor="end" fill="#000" textLength="22.00" lengthAdjust="spacingAndGlyphs" stroke="#000" stroke-width="0.25">V12</text>
</g>
<g transform="translate(736.72,254.30) rotate(-45)">
<text x="0.00" y="0.00" font-size="12.40" font-weight="bold" text-anchor="end" fill="#000" textLength="22.00" lengthAdjust="spacingAndGlyphs" stroke="#000" stroke-width="0.25">V13</text>
</g>
<g transform="translate(760.21,254.30) rotate(-45)">
<text x="0.00" y="0.00" font-size="12.40" font-weight="bold" text-anchor="end" fill="#000" textLength="22.00" lengthAdjust="spacingAndGlyphs" stroke="#000" stroke-width="0.25">V14</text>
</g>
<g transform="translate(783.70,254.30) rotate(-45)">
<text x="0.00" y="0.00" font-size="12.40" font-weight="bold" text-anchor="end" fill="#000" textLength="22.00" lengthAdjust="spacingAndGlyphs" stroke="#000" stroke-width="0.25">V15</text>
</g>
<g transform="translate(807.19,254.30) rotate(-45)">
<text x="0.00" y="0.00" font-size="12.40" font-weight="bold" text-anchor="end" fill="#000" textLength="22.00" lengthAdjust="spacingAndGlyphs" stroke="#000" stroke-width="0.25">V16</text>
</g>
<g transform="translate(830.68,254.30) rotate(-45)">
<text x="0.00" y="0.00" font-size="12.40" font-weight="bold" text-anchor="end" fill="#000" textLength="15.40" lengthAdjust="spacingAndGlyphs" stroke="#000" stroke-width="0.25">B1</text>
</g>
<g transform="translate(854.17,254.30) rotate(-45)">
<text x="0.00" y="0.00" font-size="12.40" font-weight="bold" text-anchor="end" fill="#000" textLength="15.40" lengthAdjust="spacingAndGlyphs" stroke="#000" stroke-width="0.25">B2</text>
</g>
<g transform="translate(877.66,254.30) rotate(-45)">
<text x="0.00" y="0.00" font-size="12.40" font-weight="bold" text-anchor="end" fill="#000" textLength="15.40" lengthAdjust="spacingAndGlyphs" stroke="#000" stroke-width="0.25">B3</text>
</g>
<g transform="translate(901.15,254.30) rotate(-45)">
<text x="0.00" y="0.00" font-size="12.40" font-weight="bold" text-anchor="end" fill="#000" textLength="15.40" lengthAdjust="spacingAndGlyphs" stroke="#000" stroke-width="0.25">B4</text>
</g>
<g transform="translate(924.64,254.30) rotate(-45)">
<text x="0.00" y="0.00" font-size="12.40" font-weight="bold" text-anchor="end" fill="#000" textLength="15.40" lengthAdjust="spacingAndGlyphs" stroke="#000" stroke-width="0.25">B5</text>
</g>
<g transform="translate(948.13,254.30) rotate(-45)">
<text x="0.00" y="0.00" font-size="12.40" font-weight="bold" text-anchor="end" fill="#000" textLength="15.40" lengthAdjust="spacingAndGlyphs" stroke="#000" stroke-width="0.25">B6</text>
</g>
<g transform="translate(971.62,254.30) rotate(-45)">
<text x="0.00" y="0.00" font-size="12.40" font-weight="bold" text-anchor="end" fill="#000" textLength="15.40" lengthAdjust="spacingAndGlyphs" stroke="#000" stroke-width="0.25">B7</text>
</g>
<g transform="translate(995.11,254.30) rotate(-45)">
<text x="0.00" y="0.00" font-size="12.40" font-weight="bold" text-anchor="end" fill="#000" textLength="15.40" lengthAdjust="spacingAndGlyphs" stroke="#000" stroke-width="0.25">B8</text>
</g>
<g transform="translate(1018.60,254.30) rotate(-45)">
<text x="0.00" y="0.00" font-size="12.40" font-weight="bold" text-anchor="end" fill="#000" textLength="15.40" lengthAdjust="spacingAndGlyphs" stroke="#000" stroke-width="0.25">B9</text>
</g>
<g transform="translate(1042.09,254.30) rotate(-45)">
<text x="0.00" y="0.00" font-size="12.40" font-weight="bold" text-anchor="end" fill="#000" textLength="22.00" lengthAdjust="spacingAndGlyphs" stroke="#000" stroke-width="0.25">B10</text>
</g>
<g transform="translate(1065.58,254.30) rotate(-45)">
<text x="0.00" y="0.00" font-size="12.40" font-weight="bold" text-anchor="end" fill="#000" textLength="22.00" lengthAdjust="spacingAndGlyphs" stroke="#000" stroke-width="0.25">B11</text>
</g>
<g transform="translate(1089.07,254.30) rotate(-45)">
<text x="0.00" y="0.00" font-size="12.40" font-weight="bold" text-anchor="end" fill="#000" textLength="22.00" lengthAdjust="spacingAndGlyphs" stroke="#000" stroke-width="0.25">B12</text>
</g>
<g transform="translate(1112.56,254.30) rotate(-45)">
<text x="0.00" y="0.00" font-size="12.40" font-weight="bold" text-anchor="end" fill="#000" textLength="22.00" lengthAdjust="spacingAndGlyphs" stroke="#000" stroke-width="0.25">B13</text>
</g>
<g transform="translate(1136.05,254.30) rotate(-45)">
<text x="0.00" y="0.00" font-size="12.40" font-weight="bold" text-anchor="end" fill="#000" textLength="22.00" lengthAdjust="spacingAndGlyphs" stroke="#000" stroke-width="0.25">B14</text>
</g>
<g transform="translate(1159.54,254.30) rotate(-45)">
<text x="0.00" y="0.00" font-size="12.40" font-weight="bold" text-anchor="end" fill="#000" textLength="15.40" lengthAdjust="spacingAndGlyphs" stroke="#000" stroke-width="0.25">R1</text>
</g>
<g transform="translate(1183.03,254.30) rotate(-45)">
<text x="0.00" y="0.00" font-size="12.40" font-weight="bold" text-anchor="end" fill="#000" textLength="15.40" lengthAdjust="spacingAndGlyphs" stroke="#000" stroke-width="0.25">R2</text>
</g>
<g transform="translate(1206.52,254.30) rotate(-45)">
<text x="0.00" y="0.00" font-size="12.40" font-weight="bold" text-anchor="end" fill="#000" textLength="15.40" lengthAdjust="spacingAndGlyphs" stroke="#000" stroke-width="0.25">R3</text>
</g>
<g transform="translate(1230.01,254.30) rotate(-45)">
<text x="0.00" y="0.00" font-size="12.40" font-weight="bold" text-anchor="end" fill="#000" textLength="15.40" lengthAdjust="spacingAndGlyphs" stroke="#000" stroke-width="0.25">R4</text>
</g>
<g transform="translate(1253.50,254.30) rotate(-45)">
<text x="0.00" y="0.00" font-size="12.40" font-weight="bold" text-anchor="end" fill="#000" textLength="15.40" lengthAdjust="spacingAndGlyphs" stroke="#000" stroke-width="0.25">R5</text>
</g>
<g transform="translate(1276.99,254.30) rotate(-45)">
<text x="0.00" y="0.00" font-size="12.40" font-weight="bold" text-anchor="end" fill="#000" textLength="15.40" lengthAdjust="spacingAndGlyphs" stroke="#000" stroke-width="0.25">R6</text>
</g>
<g transform="translate(1300.48,254.30) rotate(-45)">
<text x="0.00" y="0.00" font-size="12.40" font-weight="bold" text-anchor="end" fill="#000" textLength="15.40" lengthAdjust="spacingAndGlyphs" stroke="#000" stroke-width="0.25">R7</text>
</g>
<g transform="translate(1323.97,254.30) rotate(-45)">
<text x="0.00" y="0.00" font-size="12.40" font-weight="bold" text-anchor="end" fill="#000" textLength="15.40" lengthAdjust="spacingAndGlyphs" stroke="#000" stroke-width="0.25">R8</text>
</g>
<g transform="translate(227.50,326.75) scale(1.720,1.500)" fill="none" stroke-width="1.12"><path d="M41.95 0h2.10M44.95 0h1.10M47.95 0h3.10M51.95 0h1.10M53.95 0h3.10M58.95 0h3.10M62.95 0h5.10M70.95 0h4.10M76.95 0h4.10M82.95 0h2.10M88.95 0h3.10M94.95 0h1.10M96.95 0h2.10M100.95 0h3.10M104.95 0h2.10M107.95 0h1.10M112.95 0h1.10M115.95 0h2.10M118.95 0h1.10M120.95 0h2.10M124.95 0h4.10M132.95 0h1.10M138.95 0h1.10M144.95 0h3.10M148.95 0h1.10M161.95 0h2.10M167.95 0h2.10M173.95 0h2.10M177.95 0h1.10M184.95 0h1.10M187.95 0h1.10M193.95 0h1.10M219.95 0h1.10M225.95 0h1.10M40.95 1h1.10M57.95 1h2.10M193.95 1h1.10M51.95 2h1.10M56.95 2h1.10M60.95 2h1.10M83.95 3h1.10M52.95 4h1.10M71.95 4h1.10M216.95 4h1.10M44.95 5h1.10M45.95 6h1.10M47.95 7h1.10M54.95 7h1.10M58.95 7h1.10M60.95 7h1.10M64.95 7h1.10M61.95 8h1.10M69.95 8h1.10M43.95 9h1.10M57.95 9h1.10M54.95 10h1.10M56.95 10h1.10M60.95 10h1.10M69.95 10h1.10M118.95 10h1.10M51.95 11h1.10M54.95 11h1.10M137.95 11h1.10M47.95 12h1.10M62.95 12h1.10M66.95 12h1.10M59.95 13h1.10M51.95 14h1.10M75.95 14h1.10M228.95 14h1.10M39.95 15h1.10M50.95 15h2.10M67.95 15h1.10M98.95 15h1.10M52.95 16h1.10M57.95 16h1.10M59.95 16h2.10M235.95 16h1.10M53.95 17h1.10M56.95 17h1.10M51.95 18h1.10M60.95 18h1.10M62.95 18h1.10M54.95 19h1.10M63.95 19h1.10M72.95 19h1.10M50.95 20h1.10M53.95 20h1.10M57.95 20h1.10M63.95 20h1.10M103.95 20h1.10M52.95 21h1.10M56.95 21h1.10M64.95 21h1.10M108.95 21h1.10M58.95 22h1.10M62.95 22h1.10M45.95 23h1.10M47.95 23h1.10M53.95 23h1.10M60.95 23h1.10M65.95 23h1.10M67.95 23h1.10M70.95 23h1.10M53.95 24h1.10M58.95 24h1.10M91.95 24h1.10M44.95 25h1.10M54.95 25h1.10M63.95 25h1.10M68.95 25h1.10M36.95 26h1.10M47.95 26h2.10M54.95 26h1.10M56.95 26h1.10M76.95 26h1.10M47.95 27h1.10M49.95 27h3.10M53.95 27h2.10M59.95 27h1.10M61.95 27h1.10M70.95 27h1.10M74.95 27h1.10M53.95 28h1.10M55.95 28h3.10M74.95 28h1.10M40.95 29h1.10M42.95 29h1.10M44.95 29h1.10M84.95 29h1.10M164.95 29h1.10M44.95 30h1.10M47.95 30h1.10M52.95 30h1.10M55.95 30h1.10M54.95 31h1.10M59.95 31h1.10M71.95 31h1.10M113.95 31h1.10M42.95 32h2.10M47.95 32h3.10M55.95 32h1.10M63.95 32h1.10M66.95 32h1.10M69.95 32h1.10M100.95 32h1.10M49.95 33h5.10M72.95 33h1.10M39.95 34h1.10M51.95 34h1.10M56.95 34h1.10M58.95 34h1.10M93.95 34h1.10M41.95 35h1.10M49.95 35h1.10M58.95 35h1.10M65.95 35h2.10M68.95 35h2.10M117.95 35h1.10M47.95 36h1.10M53.95 36h2.10M57.95 36h2.10M66.95 36h1.10M70.95 36h1.10M41.95 37h1.10M51.95 37h1.10M53.95 37h3.10M57.95 37h1.10M64.95 37h2.10M26.95 38h1.10M41.95 38h1.10M48.95 38h1.10M53.95 38h2.10M57.95 38h1.10M43.95 39h1.10M46.95 39h1.10M50.95 39h1.10M59.95 39h2.10M49.95 40h1.10M51.95 40h1.10M62.95 40h1.10M71.95 40h1.10M50.95 41h1.10M54.95 41h2.10M59.95 41h1.10M64.95 41h1.10M67.95 41h1.10M46.95 42h2.10M49.95 42h1.10M54.95 42h1.10M57.95 42h1.10M59.95 42h1.10M43.95 43h2.10M47.95 43h2.10M53.95 43h1.10M55.95 43h1.10M62.95 43h1.10M65.95 43h1.10M73.95 43h2.10M138.95 43h1.10M47.95 44h1.10M52.95 44h2.10M55.95 44h2.10M58.95 44h1.10M62.95 44h2.10M48.95 45h1.10M59.95 45h1.10M61.95 45h2.10M49.95 46h1.10M52.95 46h1.10M54.95 46h1.10M56.95 46h1.10M59.95 46h1.10M62.95 46h1.10M40.95 47h1.10M44.95 47h1.10M53.95 47h1.10M63.95 47h1.10M41.95 48h1.10M46.95 48h2.10M52.95 48h3.10M56.95 48h1.10M64.95 48h1.10M79.95 48h1.10M137.95 48h1.10M40.95 49h1.10M44.95 49h1.10M46.95 49h1.10M52.95 49h1.10M59.95 49h1.10M61.95 49h1.10M65.95 49h1.10M42.95 50h1.10M44.95 50h1.10M48.95 50h2.10M51.95 50h1.10M54.95 50h1.10M60.95 50h1.10M37.95 51h2.10M41.95 51h1.10M44.95 51h2.10M47.95 51h1.10M52.95 51h1.10M56.95 51h1.10M69.95 51h1.10M43.95 52h4.10M52.95 52h1.10M42.95 53h1.10M49.95 53h2.10M52.95 53h1.10M57.95 53h1.10M51.95 54h1.10M54.95 54h1.10M57.95 54h1.10M59.95 54h1.10M66.95 54h1.10M41.95 55h1.10M43.95 55h1.10M47.95 55h1.10M49.95 55h2.10M52.95 55h2.10M55.95 55h1.10M60.95 55h1.10M43.95 56h1.10M45.95 56h2.10M48.95 56h1.10M51.95 56h1.10M65.95 56h1.10M77.95 56h1.10M124.95 56h1.10M41.95 57h1.10M43.95 57h1.10M45.95 57h1.10M47.95 57h2.10M50.95 57h1.10M55.95 57h1.10M62.95 57h1.10M98.95 57h1.10M33.95 58h2.10M38.95 58h1.10M42.95 58h1.10M50.95 58h1.10M52.95 58h3.10M56.95 58h1.10M114.95 58h1.10M29.95 59h2.10M32.95 59h2.10M35.95 59h1.10M44.95 59h1.10M49.95 59h1.10M56.95 59h1.10M61.95 59h1.10M63.95 59h1.10M69.95 59h1.10M71.95 59h1.10M41.95 60h1.10M44.95 60h1.10M50.95 60h1.10M53.95 60h1.10M62.95 60h1.10M64.95 60h1.10M70.95 60h1.10M36.95 61h1.10M49.95 61h3.10M55.95 61h2.10M65.95 61h1.10M44.95 62h1.10M46.95 62h3.10M51.95 62h1.10M53.95 62h1.10M57.95 62h1.10M60.95 62h2.10M41.95 63h1.10M47.95 63h2.10M50.95 63h1.10M52.95 63h2.10M55.95 63h1.10M59.95 63h1.10M70.95 63h1.10M42.95 64h1.10M45.95 64h1.10M55.95 64h1.10M57.95 64h2.10M60.95 64h1.10M72.95 64h1.10M38.95 65h1.10M45.95 65h1.10M47.95 65h1.10M49.95 65h1.10M52.95 65h1.10M56.95 65h1.10M59.95 65h2.10M66.95 65h1.10M75.95 65h2.10M36.95 66h1.10M39.95 66h1.10M42.95 66h1.10M45.95 66h1.10M47.95 66h2.10M51.95 66h1.10M53.95 66h1.10M67.95 66h2.10M71.95 66h1.10M34.95 67h1.10M37.95 67h1.10M39.95 67h1.10M43.95 67h3.10M48.95 67h2.10M51.95 67h1.10M53.95 67h1.10M55.95 67h1.10M57.95 67h2.10M61.95 67h1.10M43.95 68h1.10M47.95 68h2.10M50.95 68h1.10M52.95 68h1.10M55.95 68h1.10M58.95 68h1.10M65.95 68h1.10M37.95 69h1.10M46.95 69h2.10M53.95 69h1.10M57.95 69h1.10M59.95 69h1.10M39.95 70h3.10M45.95 70h1.10M49.95 70h6.10M66.95 70h1.10M27.95 71h1.10M36.95 71h1.10M38.95 71h1.10M42.95 71h1.10M44.95 71h1.10M46.95 71h1.10M48.95 71h1.10M51.95 71h2.10M57.95 71h1.10M60.95 71h1.10M64.95 71h1.10M72.95 71h1.10M104.95 71h1.10M35.95 72h1.10M40.95 72h2.10M45.95 72h2.10M51.95 72h1.10M56.95 72h2.10M61.95 72h1.10M120.95 72h1.10M39.95 73h1.10M41.95 73h1.10M43.95 73h3.10M47.95 73h5.10M57.95 73h1.10M66.95 73h1.10M30.95 74h2.10M39.95 74h1.10M44.95 74h4.10M49.95 74h1.10M51.95 74h3.10M55.95 74h1.10M57.95 74h3.10M61.95 74h1.10M92.95 74h1.10M37.95 75h2.10M41.95 75h3.10M46.95 75h2.10M49.95 75h7.10M58.95 75h1.10M60.95 75h1.10M39.95 76h2.10M42.95 76h1.10M45.95 76h1.10M49.95 76h1.10M51.95 76h2.10M56.95 76h2.10M90.95 76h1.10M127.95 76h1.10M37.95 77h1.10M42.95 77h1.10M47.95 77h2.10M50.95 77h1.10M54.95 77h2.10M57.95 77h1.10M28.95 78h1.10M37.95 78h1.10M40.95 78h3.10M44.95 78h1.10M46.95 78h4.10M51.95 78h2.10M55.95 78h1.10M67.95 78h1.10M71.95 78h1.10M92.95 78h1.10M33.95 79h1.10M42.95 79h1.10M44.95 79h5.10M50.95 79h4.10M55.95 79h1.10M57.95 79h1.10M60.95 79h1.10M80.95 79h1.10M30.95 80h1.10M37.95 80h2.10M40.95 80h1.10M43.95 80h2.10M47.95 80h5.10M53.95 80h1.10M55.95 80h2.10M58.95 80h1.10M62.95 80h1.10M64.95 80h1.10M124.95 80h1.10M38.95 81h1.10M41.95 81h4.10M47.95 81h2.10M50.95 81h1.10M53.95 81h3.10M57.95 81h1.10M70.95 81h1.10M89.95 81h1.10M35.95 82h1.10M41.95 82h5.10M47.95 82h4.10M52.95 82h2.10M57.95 82h3.10M63.95 82h1.10M65.95 82h1.10M69.95 82h1.10M72.95 82h1.10M116.95 82h1.10M25.95 83h1.10M34.95 83h1.10M37.95 83h3.10M41.95 83h2.10M44.95 83h4.10M49.95 83h1.10M51.95 83h1.10M53.95 83h3.10M58.95 83h1.10M63.95 83h1.10M120.95 83h1.10M39.95 84h2.10M43.95 84h5.10M55.95 84h1.10M60.95 84h1.10M66.95 84h1.10M99.95 84h1.10M25.95 85h1.10M28.95 85h1.10M44.95 85h1.10M48.95 85h2.10M51.95 85h1.10M55.95 85h1.10M58.95 85h1.10M66.95 85h1.10M83.95 85h1.10M180.95 85h1.10M34.95 86h1.10M37.95 86h1.10M39.95 86h2.10M44.95 86h2.10M47.95 86h2.10M50.95 86h6.10M57.95 86h4.10M38.95 87h4.10M43.95 87h4.10M48.95 87h2.10M51.95 87h2.10M54.95 87h3.10M121.95 87h1.10M202.95 87h1.10M36.95 88h1.10M40.95 88h9.10M51.95 88h1.10M53.95 88h1.10M56.95 88h1.10M38.95 89h1.10M40.95 89h1.10M42.95 89h4.10M47.95 89h7.10M55.95 89h1.10M58.95 89h1.10M60.95 89h1.10M63.95 89h1.10M79.95 89h1.10M127.95 89h1.10M37.95 90h1.10M39.95 90h8.10M48.95 90h4.10M53.95 90h1.10M55.95 90h1.10M62.95 90h1.10M67.95 90h1.10M38.95 91h1.10M40.95 91h1.10M47.95 91h2.10M50.95 91h1.10M54.95 91h5.10M63.95 91h1.10M73.95 91h1.10M24.95 92h1.10M30.95 92h1.10M37.95 92h7.10M45.95 92h3.10M49.95 92h1.10M51.95 92h2.10M56.95 92h1.10M58.95 92h1.10M19.95 93h1.10M26.95 93h1.10M31.95 93h1.10M35.95 93h1.10M39.95 93h2.10M43.95 93h7.10M54.95 93h2.10M61.95 93h1.10M27.95 94h1.10M33.95 94h1.10M37.95 94h1.10M40.95 94h1.10M44.95 94h2.10M48.95 94h1.10M51.95 94h1.10M53.95 94h1.10M30.95 95h1.10M32.95 95h1.10M34.95 95h1.10M36.95 95h2.10M39.95 95h1.10M41.95 95h1.10M43.95 95h4.10M49.95 95h4.10M54.95 95h1.10M56.95 95h3.10M65.95 95h1.10M35.95 96h1.10M38.95 96h2.10M41.95 96h8.10M52.95 96h2.10M56.95 96h1.10M68.95 96h1.10M72.95 96h1.10M33.95 97h3.10M38.95 97h1.10M40.95 97h6.10M48.95 97h1.10M51.95 97h1.10M53.95 97h1.10M55.95 97h1.10M57.95 97h1.10M65.95 97h1.10M69.95 97h1.10M32.95 98h1.10M37.95 98h2.10M40.95 98h3.10M44.95 98h1.10M46.95 98h1.10M48.95 98h6.10M60.95 98h1.10M63.95 98h2.10M76.95 98h1.10M33.95 99h2.10M37.95 99h4.10M42.95 99h1.10M44.95 99h1.10M46.95 99h2.10M50.95 99h3.10M54.95 99h1.10M56.95 99h3.10M65.95 99h2.10M33.95 100h1.10M37.95 100h1.10M39.95 100h2.10M43.95 100h2.10M46.95 100h1.10M48.95 100h3.10M56.95 100h1.10M58.95 100h1.10M62.95 100h1.10M68.95 100h1.10M78.95 100h1.10M28.95 101h1.10M35.95 101h1.10M37.95 101h1.10M39.95 101h1.10M41.95 101h2.10M44.95 101h1.10M46.95 101h4.10M54.95 101h1.10M30.95 102h1.10M32.95 102h1.10M35.95 102h1.10M38.95 102h1.10M40.95 102h3.10M44.95 102h6.10M52.95 102h1.10M54.95 102h2.10M57.95 102h1.10M74.95 102h1.10M83.95 102h1.10M30.95 103h1.10M34.95 103h1.10M37.95 103h2.10M40.95 103h2.10M43.95 103h4.10M48.95 103h6.10M55.95 103h1.10M58.95 103h1.10M64.95 103h1.10M66.95 103h1.10M26.95 104h1.10M28.95 104h1.10M31.95 104h1.10M36.95 104h13.10M50.95 104h3.10M54.95 104h1.10M61.95 104h1.10M72.95 104h1.10M34.95 105h1.10M36.95 105h4.10M42.95 105h5.10M48.95 105h3.10M52.95 105h1.10M55.95 105h2.10M60.95 105h1.10M32.95 106h1.10M34.95 106h2.10M37.95 106h1.10M39.95 106h14.10M55.95 106h1.10M57.95 106h3.10M84.95 106h1.10M27.95 107h1.10M29.95 107h1.10M36.95 107h1.10M40.95 107h2.10M43.95 107h2.10M46.95 107h5.10M52.95 107h1.10M60.95 107h2.10M25.95 108h1.10M32.95 108h1.10M36.95 108h3.10M41.95 108h1.10M43.95 108h6.10M51.95 108h2.10M55.95 108h1.10M63.95 108h1.10M139.95 108h1.10M28.95 109h1.10M33.95 109h1.10M35.95 109h1.10M37.95 109h6.10M44.95 109h3.10M48.95 109h1.10M50.95 109h1.10M52.95 109h1.10M54.95 109h4.10M60.95 109h1.10M129.95 109h1.10M22.95 110h1.10M27.95 110h1.10M33.95 110h1.10M35.95 110h2.10M38.95 110h1.10M40.95 110h1.10M42.95 110h1.10M44.95 110h3.10M48.95 110h3.10M52.95 110h2.10M55.95 110h1.10M61.95 110h1.10M63.95 110h1.10M68.95 110h1.10M28.95 111h1.10M31.95 111h2.10M36.95 111h1.10M38.95 111h1.10M41.95 111h1.10M43.95 111h2.10M46.95 111h3.10M50.95 111h5.10M57.95 111h2.10M64.95 111h1.10M29.95 112h1.10M32.95 112h2.10M35.95 112h8.10M44.95 112h1.10M47.95 112h4.10M52.95 112h1.10M54.95 112h1.10M62.95 112h1.10M21.95 113h1.10M32.95 113h1.10M34.95 113h1.10M36.95 113h3.10M41.95 113h2.10M44.95 113h1.10M46.95 113h2.10M49.95 113h2.10M52.95 113h1.10M55.95 113h1.10M152.95 113h1.10M33.95 114h1.10M35.95 114h6.10M45.95 114h4.10M53.95 114h1.10M55.95 114h1.10M70.95 114h1.10M83.95 114h1.10M236.95 114h1.10M21.95 115h1.10M35.95 115h4.10M41.95 115h5.10M47.95 115h4.10M53.95 115h1.10M56.95 115h1.10M59.95 115h1.10M61.95 115h1.10M216.95 115h1.10M24.95 116h1.10M28.95 116h1.10M30.95 116h1.10M33.95 116h1.10M35.95 116h2.10M39.95 116h2.10M42.95 116h1.10M44.95 116h6.10M51.95 116h1.10M53.95 116h1.10M55.95 116h1.10M59.95 116h1.10M80.95 116h1.10M23.95 117h1.10M30.95 117h3.10M35.95 117h1.10M37.95 117h3.10M46.95 117h2.10M49.95 117h1.10M51.95 117h2.10M55.95 117h1.10M67.95 117h1.10M32.95 118h1.10M34.95 118h4.10M43.95 118h1.10M46.95 118h1.10M48.95 118h2.10M51.95 118h2.10M54.95 118h1.10M56.95 118h1.10M26.95 119h1.10M31.95 119h1.10M33.95 119h5.10M39.95 119h1.10M47.95 119h1.10M49.95 119h1.10M51.95 119h1.10M54.95 119h2.10M57.95 119h2.10M236.95 119h1.10M32.95 120h2.10M35.95 120h2.10M38.95 120h1.10M46.95 120h2.10M51.95 120h1.10M54.95 120h2.10M57.95 120h1.10M60.95 120h1.10M23.95 121h1.10M31.95 121h3.10M35.95 121h2.10M48.95 121h6.10M55.95 121h3.10M24.95 122h1.10M26.95 122h1.10M28.95 122h1.10M32.95 122h2.10M35.95 122h3.10M46.95 122h2.10M50.95 122h1.10M54.95 122h5.10M60.95 122h2.10M66.95 122h1.10M23.95 123h1.10M31.95 123h2.10M36.95 123h1.10M38.95 123h1.10M48.95 123h1.10M50.95 123h4.10M55.95 123h2.10M59.95 123h1.10M61.95 123h1.10M29.95 124h1.10M31.95 124h1.10M34.95 124h1.10M36.95 124h1.10M45.95 124h1.10M47.95 124h1.10M49.95 124h4.10M59.95 124h2.10M65.95 124h2.10M32.95 125h2.10M35.95 125h2.10M46.95 125h5.10M53.95 125h1.10M56.95 125h1.10M60.95 125h1.10M28.95 126h1.10M30.95 126h1.10M32.95 126h5.10M45.95 126h1.10M49.95 126h3.10M60.95 126h1.10M63.95 126h1.10M28.95 127h2.10M31.95 127h1.10M33.95 127h3.10M47.95 127h1.10M49.95 127h2.10M52.95 127h1.10M58.95 127h1.10M65.95 127h1.10M31.95 128h1.10M34.95 128h2.10M44.95 128h1.10M46.95 128h5.10M52.95 128h1.10M60.95 128h1.10M71.95 128h1.10M27.95 129h1.10M34.95 129h2.10M47.95 129h1.10M49.95 129h1.10M53.95 129h2.10M62.95 129h1.10M66.95 129h1.10M107.95 129h1.10M221.95 129h1.10M25.95 130h1.10M29.95 130h6.10M46.95 130h4.10M52.95 130h2.10M55.95 130h2.10M59.95 130h1.10M62.95 130h1.10M65.95 130h1.10M27.95 131h2.10M30.95 131h2.10M33.95 131h1.10M46.95 131h2.10M49.95 131h4.10M57.95 131h1.10M67.95 131h1.10M21.95 132h1.10M30.95 132h3.10M46.95 132h1.10M49.95 132h2.10M53.95 132h1.10M56.95 132h2.10M61.95 132h1.10M18.95 133h1.10M29.95 133h1.10M31.95 133h1.10M34.95 133h1.10M48.95 133h3.10M53.95 133h3.10M67.95 133h1.10M27.95 134h1.10M29.95 134h6.10M47.95 134h7.10M57.95 134h2.10M62.95 134h1.10M24.95 135h1.10M28.95 135h1.10M34.95 135h1.10M47.95 135h3.10M51.95 135h1.10M53.95 135h1.10M55.95 135h1.10M113.95 135h1.10M30.95 136h1.10M32.95 136h3.10M46.95 136h5.10M54.95 136h1.10M20.95 137h1.10M24.95 137h2.10M31.95 137h2.10M48.95 137h2.10M55.95 137h1.10M57.95 137h1.10M86.95 137h1.10M25.95 138h1.10M29.95 138h5.10M46.95 138h2.10M49.95 138h1.10M54.95 138h1.10M58.95 138h1.10M66.95 138h1.10M71.95 138h1.10M83.95 138h1.10M20.95 139h1.10M28.95 139h2.10M31.95 139h2.10M34.95 139h1.10M47.95 139h1.10M49.95 139h5.10M58.95 139h1.10M60.95 139h1.10M24.95 140h1.10M26.95 140h2.10M31.95 140h2.10M47.95 140h4.10M52.95 140h3.10M33.95 141h1.10M48.95 141h1.10M51.95 141h1.10M53.95 141h2.10M62.95 141h1.10M23.95 142h5.10M29.95 142h4.10M47.95 142h2.10M50.95 142h1.10M52.95 142h2.10M56.95 142h2.10M60.95 142h2.10M67.95 142h1.10M229.95 142h1.10M27.95 143h1.10M29.95 143h4.10M48.95 143h6.10M56.95 143h1.10M58.95 143h1.10M67.95 143h1.10M170.95 143h1.10M25.95 144h2.10M28.95 144h2.10M31.95 144h2.10M46.95 144h1.10M48.95 144h1.10M50.95 144h1.10M53.95 144h1.10M57.95 144h1.10M60.95 144h1.10M96.95 144h1.10M21.95 145h1.10M23.95 145h1.10M25.95 145h3.10M29.95 145h4.10M48.95 145h1.10M53.95 145h2.10M60.95 145h1.10M66.95 145h1.10M120.95 145h1.10M20.95 146h1.10M23.95 146h1.10M27.95 146h2.10M30.95 146h2.10M47.95 146h3.10M51.95 146h1.10M56.95 146h1.10M62.95 146h1.10M66.95 146h1.10M22.95 147h1.10M25.95 147h1.10M27.95 147h1.10M29.95 147h2.10M47.95 147h4.10M54.95 147h3.10M58.95 147h1.10M60.95 147h1.10M18.95 148h1.10M29.95 148h1.10M48.95 148h3.10M54.95 148h1.10M59.95 148h1.10M62.95 148h2.10M107.95 148h1.10M19.95 149h1.10M28.95 149h1.10M30.95 149h2.10M46.95 149h2.10M49.95 149h7.10M19.95 150h1.10M25.95 150h1.10M28.95 150h3.10M47.95 150h3.10M51.95 150h2.10M54.95 150h1.10M56.95 150h3.10M78.95 150h1.10M88.95 150h1.10M136.95 150h1.10M21.95 151h1.10M24.95 151h1.10M27.95 151h2.10M30.95 151h1.10M47.95 151h2.10M53.95 151h2.10M61.95 151h1.10M96.95 151h1.10M106.95 151h1.10M25.95 152h2.10M28.95 152h3.10M48.95 152h1.10M51.95 152h1.10M76.95 152h1.10M24.95 153h1.10M26.95 153h5.10M49.95 153h2.10M52.95 153h3.10M62.95 153h1.10M68.95 153h1.10M71.95 153h1.10M22.95 154h1.10M26.95 154h4.10M47.95 154h1.10M49.95 154h1.10M51.95 154h1.10M55.95 154h1.10M66.95 154h1.10M19.95 155h1.10M21.95 155h1.10M26.95 155h4.10M47.95 155h2.10M50.95 155h1.10M53.95 155h1.10M63.95 155h1.10M121.95 155h1.10M21.95 156h1.10M26.95 156h4.10M47.95 156h4.10M59.95 156h1.10M70.95 156h1.10M24.95 157h7.10M48.95 157h1.10M50.95 157h1.10M54.95 157h2.10M57.95 157h1.10M59.95 157h1.10M61.95 157h1.10M115.95 157h1.10M22.95 158h2.10M27.95 158h1.10M29.95 158h1.10M47.95 158h1.10M49.95 158h1.10M53.95 158h1.10M56.95 158h2.10M59.95 158h1.10M63.95 158h1.10M28.95 159h1.10M47.95 159h2.10M50.95 159h1.10M53.95 159h1.10M55.95 159h1.10M64.95 159h1.10M93.95 159h1.10M180.95 159h1.10M24.95 160h1.10M26.95 160h1.10M29.95 160h1.10M47.95 160h4.10M52.95 160h1.10M57.95 160h1.10M59.95 160h1.10M63.95 160h2.10M22.95 161h1.10M25.95 161h4.10M47.95 161h2.10M53.95 161h2.10M21.95 162h2.10M24.95 162h3.10M29.95 162h1.10M47.95 162h6.10M17.95 163h2.10M20.95 163h1.10M23.95 163h1.10M26.95 163h3.10M46.95 163h1.10M49.95 163h2.10M53.95 163h1.10M56.95 163h1.10M58.95 163h1.10M21.95 164h2.10M24.95 164h1.10M26.95 164h4.10M47.95 164h6.10M54.95 164h1.10M80.95 164h1.10M100.95 164h1.10M17.95 165h1.10M19.95 165h1.10M21.95 165h1.10M24.95 165h2.10M27.95 165h3.10M46.95 165h1.10M49.95 165h4.10M58.95 165h1.10M93.95 165h1.10M127.95 165h1.10M17.95 166h1.10M23.95 166h2.10M27.95 166h2.10M46.95 166h1.10M48.95 166h1.10M52.95 166h1.10M55.95 166h1.10M57.95 166h3.10M64.95 166h1.10M22.95 167h4.10M27.95 167h2.10M46.95 167h2.10M50.95 167h3.10M64.95 167h1.10M66.95 167h1.10M74.95 167h1.10M206.95 167h1.10M23.95 168h1.10M25.95 168h2.10M28.95 168h1.10M45.95 168h2.10M49.95 168h2.10M53.95 168h1.10M55.95 168h1.10M60.95 168h1.10M67.95 168h1.10M85.95 168h1.10M24.95 169h4.10M45.95 169h3.10M50.95 169h2.10M54.95 169h1.10M60.95 169h1.10M66.95 169h1.10M112.95 169h1.10M17.95 170h1.10M27.95 170h1.10M45.95 170h3.10M51.95 170h1.10M55.95 170h2.10M65.95 170h1.10M71.95 170h1.10M76.95 170h1.10M97.95 170h1.10M111.95 170h1.10M24.95 171h5.10M46.95 171h3.10M50.95 171h2.10M53.95 171h1.10M56.95 171h1.10M98.95 171h1.10M22.95 172h3.10M26.95 172h1.10M47.95 172h5.10M108.95 172h1.10M116.95 172h1.10M22.95 173h1.10M24.95 173h3.10M28.95 173h1.10M46.95 173h1.10M50.95 173h2.10M54.95 173h1.10M62.95 173h1.10M67.95 173h1.10M101.95 173h1.10M115.95 173h1.10M23.95 174h1.10M26.95 174h2.10M47.95 174h2.10M51.95 174h1.10M58.95 174h1.10M79.95 174h1.10M94.95 174h2.10M104.95 174h1.10M109.95 174h1.10M116.95 174h1.10M19.95 175h1.10M21.95 175h3.10M26.95 175h1.10M28.95 175h1.10M46.95 175h2.10M50.95 175h1.10M52.95 175h3.10M56.95 175h1.10M58.95 175h1.10M75.95 175h1.10M83.95 175h1.10M105.95 175h1.10M26.95 176h1.10M46.95 176h6.10M55.95 176h2.10M74.95 176h1.10M90.95 176h1.10M107.95 176h1.10M152.95 176h1.10M228.95 176h1.10M22.95 177h1.10M25.95 177h2.10M45.95 177h1.10M47.95 177h1.10M49.95 177h1.10M51.95 177h1.10M53.95 177h1.10M55.95 177h2.10M59.95 177h1.10M65.95 177h1.10M71.95 177h1.10M77.95 177h1.10M84.95 177h1.10M117.95 177h1.10M21.95 178h3.10M25.95 178h3.10M46.95 178h4.10M51.95 178h3.10M62.95 178h3.10M84.95 178h1.10M87.95 178h1.10M90.95 178h1.10M93.95 178h1.10M97.95 178h2.10M105.95 178h2.10M109.95 178h2.10M113.95 178h1.10M15.95 179h1.10M22.95 179h1.10M25.95 179h4.10M46.95 179h2.10M49.95 179h2.10M52.95 179h3.10M61.95 179h1.10M84.95 179h1.10M86.95 179h1.10M90.95 179h1.10M96.95 179h1.10M102.95 179h1.10M19.95 180h6.10M26.95 180h1.10M47.95 180h4.10M53.95 180h2.10M56.95 180h1.10M87.95 180h1.10M97.95 180h1.10M117.95 180h1.10M12.95 181h1.10M25.95 181h2.10M28.95 181h1.10M46.95 181h4.10M51.95 181h1.10M55.95 181h1.10M100.95 181h1.10M108.95 181h1.10M118.95 181h2.10M23.95 182h1.10M25.95 182h1.10M27.95 182h1.10M45.95 182h1.10M47.95 182h1.10M49.95 182h1.10M52.95 182h2.10M55.95 182h1.10M77.95 182h1.10M79.95 182h1.10M88.95 182h1.10M90.95 182h1.10M93.95 182h1.10M98.95 182h1.10M102.95 182h5.10M22.95 183h1.10M25.95 183h3.10M45.95 183h3.10M49.95 183h2.10M53.95 183h2.10M79.95 183h1.10M90.95 183h1.10M98.95 183h1.10M104.95 183h3.10M108.95 183h1.10M121.95 183h1.10M208.95 183h1.10M21.95 184h1.10M26.95 184h1.10M45.95 184h3.10M49.95 184h1.10M51.95 184h4.10M65.95 184h2.10M82.95 184h1.10M84.95 184h1.10M96.95 184h1.10M103.95 184h1.10M23.95 185h5.10M46.95 185h4.10M57.95 185h1.10M75.95 185h1.10M87.95 185h2.10M97.95 185h1.10M99.95 185h1.10M102.95 185h1.10M106.95 185h1.10M109.95 185h1.10M118.95 185h1.10M17.95 186h1.10M23.95 186h5.10M46.95 186h1.10M53.95 186h1.10M55.95 186h1.10M59.95 186h1.10M61.95 186h1.10M91.95 186h1.10M97.95 186h1.10M100.95 186h1.10M103.95 186h1.10M118.95 186h1.10M125.95 186h1.10M165.95 186h1.10M18.95 187h1.10M22.95 187h1.10M24.95 187h1.10M26.95 187h1.10M45.95 187h3.10M49.95 187h4.10M55.95 187h1.10M61.95 187h1.10M69.95 187h1.10M81.95 187h1.10M87.95 187h2.10M91.95 187h1.10M97.95 187h1.10M105.95 187h1.10M107.95 187h2.10M113.95 187h1.10M13.95 188h1.10M21.95 188h3.10M47.95 188h3.10M72.95 188h1.10M83.95 188h1.10M87.95 188h1.10M90.95 188h1.10M102.95 188h2.10M105.95 188h2.10M108.95 188h1.10M110.95 188h1.10M113.95 188h1.10M12.95 189h1.10M23.95 189h1.10M26.95 189h1.10M45.95 189h6.10M52.95 189h1.10M58.95 189h1.10M61.95 189h1.10M82.95 189h1.10M87.95 189h1.10M92.95 189h2.10M97.95 189h1.10M106.95 189h1.10M108.95 189h1.10M117.95 189h1.10M22.95 190h1.10M24.95 190h1.10M26.95 190h2.10M44.95 190h1.10M46.95 190h3.10M51.95 190h2.10M76.95 190h1.10M90.95 190h1.10M94.95 190h1.10M103.95 190h1.10M108.95 190h2.10M114.95 190h2.10M118.95 190h1.10M132.95 190h1.10M15.95 191h1.10M24.95 191h3.10M45.95 191h3.10M49.95 191h1.10M51.95 191h1.10M55.95 191h1.10M73.95 191h1.10M89.95 191h1.10M91.95 191h1.10M101.95 191h2.10M107.95 191h1.10M111.95 191h1.10M117.95 191h1.10M21.95 192h1.10M23.95 192h1.10M26.95 192h2.10M44.95 192h2.10M48.95 192h1.10M52.95 192h1.10M55.95 192h1.10M60.95 192h1.10M74.95 192h1.10M76.95 192h1.10M81.95 192h1.10M99.95 192h1.10M107.95 192h1.10M113.95 192h1.10M120.95 192h1.10M22.95 193h6.10M45.95 193h1.10M47.95 193h2.10M57.95 193h1.10M67.95 193h1.10M76.95 193h1.10M91.95 193h2.10M94.95 193h1.10M100.95 193h1.10M102.95 193h1.10M108.95 193h1.10M111.95 193h2.10M126.95 193h1.10M14.95 194h1.10M22.95 194h1.10M24.95 194h4.10M46.95 194h4.10M51.95 194h1.10M53.95 194h1.10M56.95 194h1.10M65.95 194h1.10M91.95 194h1.10M98.95 194h1.10M100.95 194h1.10M102.95 194h1.10M106.95 194h1.10M108.95 194h1.10M114.95 194h1.10M129.95 194h1.10M191.95 194h1.10M17.95 195h1.10M22.95 195h4.10M45.95 195h4.10M51.95 195h2.10M66.95 195h1.10M78.95 195h1.10M85.95 195h1.10M104.95 195h1.10M108.95 195h2.10M112.95 195h1.10M191.95 195h1.10M22.95 196h2.10M25.95 196h3.10M44.95 196h6.10M56.95 196h1.10M71.95 196h1.10M73.95 196h1.10M95.95 196h1.10M97.95 196h2.10M100.95 196h1.10M102.95 196h1.10M105.95 196h2.10M110.95 196h1.10M117.95 196h3.10M123.95 196h1.10M192.95 196h1.10M19.95 197h1.10M21.95 197h2.10M24.95 197h1.10M27.95 197h1.10M43.95 197h3.10M52.95 197h1.10M57.95 197h1.10M67.95 197h1.10M80.95 197h1.10M82.95 197h1.10M84.95 197h1.10M88.95 197h1.10M95.95 197h2.10M102.95 197h1.10M106.95 197h1.10M109.95 197h1.10M113.95 197h1.10M14.95 198h1.10M22.95 198h3.10M26.95 198h1.10M43.95 198h1.10M45.95 198h1.10M47.95 198h1.10M49.95 198h1.10M52.95 198h2.10M63.95 198h1.10M75.95 198h1.10M81.95 198h1.10M87.95 198h1.10M90.95 198h1.10M94.95 198h1.10M110.95 198h1.10M123.95 198h1.10M191.95 198h1.10M14.95 199h1.10M23.95 199h1.10M25.95 199h3.10M43.95 199h3.10M49.95 199h1.10M54.95 199h1.10M56.95 199h1.10M58.95 199h1.10M87.95 199h1.10M96.95 199h1.10M191.95 199h1.10M20.95 200h1.10M22.95 200h3.10M26.95 200h1.10M45.95 200h1.10M48.95 200h2.10M52.95 200h2.10M59.95 200h1.10M62.95 200h1.10M80.95 200h1.10M85.95 200h1.10M87.95 200h1.10M92.95 200h2.10M101.95 200h1.10M104.95 200h3.10M192.95 200h1.10M22.95 201h3.10M26.95 201h1.10M43.95 201h2.10M46.95 201h1.10M50.95 201h2.10M56.95 201h1.10M77.95 201h1.10M88.95 201h1.10M97.95 201h1.10M100.95 201h1.10M103.95 201h1.10M108.95 201h1.10M111.95 201h1.10M114.95 201h1.10M117.95 201h1.10M120.95 201h1.10M156.95 201h1.10M20.95 202h1.10M22.95 202h3.10M43.95 202h6.10M50.95 202h1.10M57.95 202h1.10M71.95 202h1.10M84.95 202h2.10M91.95 202h1.10M93.95 202h1.10M96.95 202h1.10M100.95 202h1.10M102.95 202h1.10M105.95 202h1.10M110.95 202h2.10M125.95 202h1.10M23.95 203h1.10M26.95 203h1.10M43.95 203h3.10M47.95 203h1.10M51.95 203h2.10M55.95 203h1.10M58.95 203h1.10M66.95 203h2.10M73.95 203h1.10M86.95 203h1.10M88.95 203h1.10M91.95 203h1.10M93.95 203h1.10M96.95 203h1.10M99.95 203h1.10M101.95 203h1.10M111.95 203h1.10M16.95 204h1.10M20.95 204h2.10M25.95 204h2.10M43.95 204h5.10M49.95 204h1.10M51.95 204h1.10M55.95 204h2.10M75.95 204h1.10M94.95 204h1.10M97.95 204h1.10M106.95 204h1.10M111.95 204h1.10M21.95 205h4.10M26.95 205h2.10M43.95 205h1.10M45.95 205h2.10M48.95 205h1.10M50.95 205h1.10M52.95 205h1.10M54.95 205h1.10M66.95 205h1.10M72.95 205h1.10M86.95 205h1.10M88.95 205h1.10M93.95 205h1.10M112.95 205h1.10M116.95 205h1.10M126.95 205h1.10M19.95 206h2.10M22.95 206h2.10M25.95 206h3.10M42.95 206h7.10M50.95 206h1.10M54.95 206h1.10M57.95 206h1.10M62.95 206h1.10M72.95 206h1.10M88.95 206h1.10M91.95 206h2.10M94.95 206h1.10M105.95 206h2.10M109.95 206h1.10M120.95 206h1.10M125.95 206h1.10M16.95 207h3.10M20.95 207h2.10M26.95 207h1.10M43.95 207h4.10M48.95 207h1.10M51.95 207h3.10M55.95 207h1.10M69.95 207h1.10M75.95 207h1.10M84.95 207h1.10M88.95 207h2.10M92.95 207h1.10M94.95 207h1.10M103.95 207h1.10M106.95 207h1.10M119.95 207h1.10M177.95 207h1.10M235.95 207h1.10M17.95 208h1.10M19.95 208h1.10M21.95 208h1.10M23.95 208h1.10M25.95 208h1.10M27.95 208h1.10M44.95 208h2.10M47.95 208h2.10M52.95 208h2.10M58.95 208h1.10M72.95 208h1.10M76.95 208h2.10M79.95 208h1.10M84.95 208h1.10M96.95 208h1.10M107.95 208h1.10M115.95 208h1.10M122.95 208h1.10M24.95 209h3.10M43.95 209h1.10M45.95 209h1.10M47.95 209h1.10M49.95 209h3.10M62.95 209h1.10M71.95 209h1.10M93.95 209h1.10M97.95 209h2.10M100.95 209h1.10M108.95 209h1.10M113.95 209h1.10M125.95 209h1.10M19.95 210h2.10M23.95 210h4.10M43.95 210h3.10M47.95 210h1.10M49.95 210h1.10M51.95 210h2.10M62.95 210h1.10M66.95 210h1.10M87.95 210h1.10M89.95 210h1.10M95.95 210h2.10M101.95 210h2.10M108.95 210h1.10M112.95 210h1.10M119.95 210h1.10M13.95 211h1.10M20.95 211h1.10M25.95 211h1.10M42.95 211h4.10M47.95 211h4.10M52.95 211h1.10M56.95 211h1.10M59.95 211h3.10M75.95 211h1.10M80.95 211h1.10M103.95 211h3.10M113.95 211h1.10M122.95 211h1.10M13.95 212h2.10M25.95 212h3.10M42.95 212h2.10M48.95 212h1.10M52.95 212h1.10M57.95 212h1.10M62.95 212h1.10M79.95 212h1.10M83.95 212h3.10M91.95 212h1.10M93.95 212h1.10M103.95 212h1.10M109.95 212h2.10M16.95 213h1.10M22.95 213h1.10M24.95 213h3.10M28.95 213h1.10M41.95 213h2.10M44.95 213h1.10M46.95 213h1.10M48.95 213h2.10M51.95 213h1.10M60.95 213h1.10M66.95 213h1.10M71.95 213h1.10M76.95 213h1.10M81.95 213h1.10M86.95 213h2.10M97.95 213h1.10M101.95 213h1.10M106.95 213h1.10M113.95 213h1.10M15.95 214h1.10M21.95 214h7.10M42.95 214h4.10M47.95 214h2.10M58.95 214h1.10M98.95 214h1.10M101.95 214h1.10M110.95 214h1.10M122.95 214h1.10M21.95 215h2.10M26.95 215h1.10M43.95 215h1.10M45.95 215h1.10M47.95 215h2.10M62.95 215h1.10M95.95 215h1.10M97.95 215h1.10M15.95 216h2.10M18.95 216h1.10M24.95 216h4.10M43.95 216h1.10M45.95 216h1.10M50.95 216h1.10M74.95 216h1.10M85.95 216h1.10M96.95 216h1.10M111.95 216h1.10M152.95 216h1.10M15.95 217h1.10M19.95 217h1.10M21.95 217h3.10M25.95 217h2.10M42.95 217h1.10M45.95 217h1.10M47.95 217h2.10M51.95 217h1.10M56.95 217h2.10M74.95 217h1.10M103.95 217h1.10M125.95 217h1.10M145.95 217h1.10M12.95 218h1.10M17.95 218h1.10M21.95 218h1.10M23.95 218h1.10M25.95 218h2.10M41.95 218h4.10M47.95 218h1.10M51.95 218h1.10M53.95 218h1.10M131.95 218h1.10M150.95 218h1.10M17.95 219h1.10M26.95 219h2.10M40.95 219h1.10M43.95 219h2.10M49.95 219h1.10M52.95 219h1.10M55.95 219h2.10M84.95 219h1.10M103.95 219h1.10M115.95 219h1.10M136.95 219h1.10M19.95 220h2.10M41.95 220h3.10M45.95 220h4.10M50.95 220h1.10M76.95 220h1.10M80.95 220h1.10M155.95 220h1.10M16.95 221h1.10M41.95 221h4.10M49.95 221h1.10M51.95 221h2.10M118.95 221h1.10M140.95 221h1.10M142.95 221h1.10M12.95 222h1.10M16.95 222h1.10M43.95 222h3.10M47.95 222h1.10M51.95 222h2.10M56.95 222h1.10M67.95 222h1.10M92.95 222h1.10M105.95 222h1.10M118.95 222h1.10M133.95 222h2.10M139.95 222h1.10M147.95 222h1.10M42.95 223h4.10M51.95 223h2.10M55.95 223h1.10M88.95 223h1.10M102.95 223h1.10M105.95 223h1.10M138.95 223h1.10M141.95 223h1.10M145.95 223h1.10M147.95 223h2.10M152.95 223h2.10M159.95 223h1.10M41.95 224h1.10M43.95 224h1.10M45.95 224h2.10M52.95 224h1.10M55.95 224h1.10M77.95 224h2.10M83.95 224h1.10M124.95 224h1.10M142.95 224h1.10M144.95 224h1.10M148.95 224h2.10M154.95 224h1.10M156.95 224h1.10M160.95 224h2.10M40.95 225h6.10M49.95 225h1.10M54.95 225h1.10M83.95 225h1.10M88.95 225h1.10M131.95 225h1.10M138.95 225h1.10M143.95 225h1.10M145.95 225h1.10M147.95 225h6.10M155.95 225h1.10M157.95 225h1.10M162.95 225h1.10M42.95 226h2.10M45.95 226h1.10M47.95 226h1.10M90.95 226h1.10M92.95 226h1.10M135.95 226h1.10M152.95 226h5.10M162.95 226h1.10M12.95 227h2.10M40.95 227h1.10M42.95 227h2.10M45.95 227h1.10M48.95 227h2.10M53.95 227h1.10M59.95 227h1.10M69.95 227h1.10M72.95 227h1.10M78.95 227h1.10M116.95 227h1.10M134.95 227h1.10M136.95 227h2.10M139.95 227h1.10M153.95 227h4.10M160.95 227h2.10M39.95 228h1.10M41.95 228h3.10M47.95 228h1.10M49.95 228h1.10M60.95 228h1.10M67.95 228h1.10M70.95 228h2.10M133.95 228h4.10M154.95 228h3.10M41.95 229h1.10M43.95 229h3.10M50.95 229h2.10M100.95 229h1.10M118.95 229h1.10M130.95 229h1.10M132.95 229h1.10M135.95 229h2.10M153.95 229h2.10M157.95 229h2.10M40.95 230h3.10M44.95 230h3.10M49.95 230h1.10M51.95 230h1.10M53.95 230h1.10M66.95 230h1.10M101.95 230h1.10M107.95 230h1.10M122.95 230h1.10M128.95 230h1.10M132.95 230h2.10M153.95 230h1.10M159.95 230h1.10M40.95 231h2.10M43.95 231h1.10M45.95 231h2.10M49.95 231h1.10M54.95 231h1.10M56.95 231h1.10M61.95 231h1.10M87.95 231h1.10M126.95 231h1.10M128.95 231h3.10M132.95 231h3.10M151.95 231h1.10M157.95 231h1.10M160.95 231h1.10M199.95 231h1.10M41.95 232h1.10M43.95 232h3.10M49.95 232h1.10M56.95 232h1.10M60.95 232h1.10M75.95 232h2.10M83.95 232h1.10M90.95 232h1.10M109.95 232h2.10M113.95 232h2.10M122.95 232h1.10M129.95 232h2.10M133.95 232h2.10M149.95 232h1.10M151.95 232h1.10M153.95 232h1.10M155.95 232h2.10M40.95 233h3.10M46.95 233h1.10M48.95 233h2.10M53.95 233h1.10M82.95 233h1.10M104.95 233h1.10M108.95 233h1.10M113.95 233h1.10M128.95 233h1.10M132.95 233h3.10M147.95 233h1.10M149.95 233h2.10M152.95 233h1.10M156.95 233h1.10M189.95 233h1.10M40.95 234h1.10M50.95 234h1.10M59.95 234h1.10M124.95 234h2.10M129.95 234h1.10M131.95 234h1.10M134.95 234h1.10M136.95 234h1.10M139.95 234h1.10M144.95 234h3.10M148.95 234h1.10M194.95 234h1.10M40.95 235h3.10M45.95 235h1.10M47.95 235h2.10M61.95 235h1.10M86.95 235h1.10M107.95 235h2.10M128.95 235h1.10M133.95 235h1.10M135.95 235h1.10M137.95 235h4.10M143.95 235h1.10M147.95 235h1.10M40.95 236h1.10M43.95 236h2.10M46.95 236h2.10M50.95 236h1.10M52.95 236h1.10M54.95 236h1.10M63.95 236h1.10M119.95 236h1.10M137.95 236h2.10M144.95 236h1.10M148.95 236h1.10M39.95 237h1.10M43.95 237h2.10M52.95 237h2.10M76.95 237h1.10M99.95 237h1.10M103.95 237h1.10M131.95 237h1.10M137.95 237h1.10M146.95 237h1.10M164.95 237h1.10M15.95 238h1.10M20.95 238h1.10M22.95 238h1.10M24.95 238h4.10M39.95 238h4.10M46.95 238h3.10M51.95 238h1.10M53.95 238h1.10M55.95 238h1.10M63.95 238h1.10M96.95 238h1.10M106.95 238h1.10M135.95 238h1.10M146.95 238h1.10" stroke="#0808ff"/><path d="M43.95 112h1.10M43.95 113h1.10M45.95 113h1.10M43.95 114h2.10M40.95 115h1.10M41.95 116h1.10M40.95 117h6.10M39.95 118h4.10M45.95 118h1.10M40.95 119h5.10M37.95 120h1.10M39.95 120h7.10M39.95 121h4.10M44.95 121h2.10M38.95 122h8.10M39.95 123h7.10M38.95 124h7.10M46.95 124h1.10M37.95 125h5.10M43.95 125h3.10M37.95 126h1.10M39.95 126h6.10M46.95 126h1.10M36.95 127h11.10M36.95 128h4.10M41.95 128h3.10M45.95 128h1.10M37.95 129h8.10M46.95 129h1.10M35.95 130h11.10M34.95 131h10.10M35.95 132h2.10M39.95 132h1.10M42.95 132h4.10M35.95 133h5.10M43.95 133h5.10M35.95 134h3.10M43.95 134h4.10M35.95 135h3.10M40.95 135h2.10M43.95 135h1.10M45.95 135h2.10M35.95 136h3.10M43.95 136h3.10M34.95 137h2.10M38.95 137h1.10M42.95 137h5.10M34.95 138h2.10M44.95 138h2.10M33.95 139h1.10M35.95 139h2.10M38.95 139h2.10M42.95 139h5.10M34.95 140h4.10M43.95 140h4.10M34.95 141h2.10M43.95 141h5.10M33.95 142h2.10M36.95 142h1.10M42.95 142h2.10M45.95 142h2.10M33.95 143h1.10M35.95 143h1.10M44.95 143h2.10M47.95 143h1.10M33.95 144h2.10M36.95 144h1.10M44.95 144h2.10M34.95 145h1.10M44.95 145h4.10M32.95 146h2.10M42.95 146h1.10M45.95 146h2.10M31.95 147h4.10M44.95 147h3.10M32.95 148h2.10M44.95 148h2.10M47.95 148h1.10M32.95 149h2.10M44.95 149h2.10M31.95 150h3.10M44.95 150h3.10M31.95 151h1.10M33.95 151h1.10M45.95 151h2.10M31.95 152h2.10M44.95 152h4.10M31.95 153h2.10M45.95 153h3.10M30.95 154h3.10M44.95 154h3.10M30.95 155h2.10M45.95 155h2.10M30.95 156h2.10M44.95 156h3.10M31.95 157h1.10M44.95 157h4.10M30.95 158h2.10M44.95 158h3.10M29.95 159h2.10M44.95 159h3.10M30.95 160h1.10M44.95 160h3.10M30.95 161h1.10M44.95 161h3.10M28.95 162h1.10M30.95 162h1.10M44.95 162h3.10M29.95 163h3.10M45.95 163h1.10M47.95 163h1.10M30.95 164h1.10M44.95 164h2.10M30.95 165h2.10M44.95 165h2.10M29.95 166h2.10M43.95 166h2.10M47.95 166h1.10M29.95 167h3.10M43.95 167h1.10M45.95 167h1.10M29.95 168h2.10M29.95 169h2.10M44.95 169h1.10M28.95 170h1.10M30.95 170h1.10M44.95 170h1.10M29.95 171h1.10M44.95 171h2.10M28.95 172h3.10M44.95 172h2.10M29.95 173h1.10M44.95 173h2.10M28.95 174h2.10M44.95 174h3.10M44.95 175h2.10M28.95 176h1.10M43.95 176h3.10M28.95 177h2.10M43.95 177h2.10M28.95 178h2.10M44.95 178h2.10M29.95 179h1.10M44.95 179h1.10M27.95 180h2.10M43.95 180h3.10M29.95 181h1.10M31.95 181h1.10M45.95 181h1.10M28.95 182h2.10M28.95 183h1.10M44.95 183h1.10M28.95 184h3.10M43.95 184h2.10M29.95 185h1.10M42.95 185h1.10M44.95 185h2.10M28.95 186h3.10M42.95 186h2.10M27.95 187h2.10M43.95 187h2.10M27.95 188h1.10M29.95 188h1.10M41.95 188h4.10M27.95 189h3.10M43.95 189h2.10M28.95 190h2.10M42.95 190h2.10M27.95 191h3.10M42.95 191h3.10M28.95 192h2.10M41.95 192h3.10M28.95 193h1.10M40.95 193h1.10M42.95 193h3.10M28.95 194h2.10M42.95 194h1.10M44.95 194h1.10M27.95 195h2.10M41.95 195h3.10M29.95 196h1.10M41.95 196h1.10M43.95 196h1.10M29.95 197h1.10M41.95 197h2.10M30.95 198h1.10M41.95 198h2.10M28.95 199h1.10M41.95 199h2.10M27.95 200h2.10M41.95 200h3.10M28.95 201h2.10M40.95 201h3.10M27.95 202h1.10M29.95 202h1.10M39.95 202h4.10M28.95 203h1.10M41.95 203h2.10M27.95 204h2.10M30.95 204h1.10M40.95 204h3.10M29.95 205h1.10M41.95 205h2.10M28.95 206h2.10M41.95 206h1.10M27.95 207h3.10M40.95 207h2.10M28.95 208h2.10M38.95 208h5.10M27.95 209h3.10M40.95 209h3.10M27.95 210h4.10M40.95 210h3.10M28.95 211h1.10M31.95 211h1.10M40.95 211h2.10M28.95 212h2.10M40.95 212h1.10M29.95 213h1.10M40.95 213h1.10M28.95 214h3.10M40.95 214h1.10M28.95 215h2.10M38.95 215h5.10M28.95 216h3.10M38.95 216h5.10M27.95 217h1.10M39.95 217h3.10M27.95 218h1.10M29.95 218h1.10M38.95 218h3.10M38.95 219h2.10M41.95 219h1.10M38.95 220h3.10M39.95 221h2.10M37.95 222h2.10M36.95 223h1.10M39.95 223h2.10M37.95 224h4.10M39.95 225h1.10M37.95 226h2.10M40.95 226h1.10M143.95 226h3.10M147.95 226h5.10M38.95 227h2.10M140.95 227h3.10M149.95 227h1.10M151.95 227h1.10M40.95 228h1.10M138.95 228h1.10M151.95 228h2.10M137.95 229h1.10M151.95 229h2.10M135.95 230h2.10M151.95 230h1.10M150.95 231h1.10M135.95 232h2.10M148.95 232h1.10M135.95 233h3.10M144.95 233h3.10M39.95 234h1.10M138.95 234h1.10M140.95 234h2.10M28.95 238h11.10" stroke="#0a5cff"/><path d="M37.95 132h2.10M40.95 132h1.10M40.95 133h3.10M38.95 134h5.10M38.95 135h2.10M42.95 135h1.10M44.95 135h1.10M38.95 136h5.10M41.95 137h1.10M36.95 138h7.10M37.95 139h1.10M40.95 139h2.10M38.95 140h5.10M36.95 141h7.10M35.95 142h1.10M37.95 142h5.10M44.95 142h1.10M34.95 143h1.10M36.95 143h1.10M39.95 143h1.10M41.95 143h3.10M35.95 144h1.10M37.95 144h7.10M35.95 145h9.10M34.95 146h3.10M38.95 146h1.10M40.95 146h2.10M35.95 147h4.10M40.95 147h4.10M34.95 148h1.10M37.95 148h5.10M43.95 148h1.10M34.95 149h10.10M34.95 150h1.10M36.95 150h1.10M39.95 150h1.10M41.95 150h3.10M34.95 151h2.10M40.95 151h1.10M42.95 151h3.10M33.95 152h4.10M42.95 152h2.10M33.95 153h1.10M36.95 153h1.10M40.95 153h5.10M34.95 154h1.10M38.95 154h1.10M41.95 154h3.10M32.95 155h3.10M42.95 155h3.10M32.95 156h3.10M40.95 156h4.10M32.95 157h2.10M35.95 157h1.10M39.95 157h1.10M41.95 157h3.10M33.95 158h1.10M35.95 158h1.10M42.95 158h2.10M31.95 159h2.10M34.95 159h1.10M41.95 159h3.10M31.95 160h4.10M42.95 160h2.10M31.95 161h3.10M40.95 161h2.10M43.95 161h1.10M31.95 162h3.10M42.95 162h1.10M32.95 163h3.10M42.95 163h3.10M31.95 164h2.10M40.95 164h1.10M42.95 164h2.10M32.95 165h2.10M41.95 165h1.10M43.95 165h1.10M31.95 166h2.10M35.95 166h1.10M41.95 166h2.10M32.95 167h1.10M35.95 167h1.10M40.95 167h3.10M44.95 167h1.10M31.95 168h3.10M39.95 168h2.10M42.95 168h3.10M31.95 169h1.10M33.95 169h1.10M41.95 169h3.10M31.95 170h1.10M35.95 170h1.10M40.95 170h1.10M42.95 170h1.10M30.95 171h4.10M35.95 171h1.10M40.95 171h3.10M31.95 172h2.10M39.95 172h1.10M41.95 172h3.10M30.95 173h2.10M40.95 173h4.10M30.95 174h1.10M32.95 174h1.10M34.95 174h1.10M38.95 174h1.10M41.95 174h3.10M30.95 175h3.10M41.95 175h3.10M30.95 176h3.10M41.95 176h2.10M30.95 177h1.10M32.95 177h1.10M41.95 177h2.10M31.95 178h1.10M33.95 178h1.10M41.95 178h3.10M30.95 179h1.10M32.95 179h1.10M38.95 179h1.10M40.95 179h4.10M30.95 180h3.10M40.95 180h3.10M30.95 181h1.10M39.95 181h1.10M41.95 181h2.10M31.95 182h2.10M41.95 182h3.10M29.95 183h4.10M41.95 183h2.10M31.95 184h1.10M34.95 184h1.10M39.95 184h2.10M42.95 184h1.10M30.95 185h1.10M32.95 185h1.10M39.95 185h2.10M43.95 185h1.10M31.95 186h1.10M39.95 186h1.10M41.95 186h1.10M29.95 187h3.10M35.95 187h1.10M39.95 187h4.10M30.95 188h5.10M40.95 188h1.10M30.95 189h3.10M40.95 189h3.10M30.95 190h2.10M39.95 190h3.10M30.95 191h1.10M39.95 191h2.10M30.95 192h2.10M38.95 192h3.10M30.95 193h3.10M38.95 193h2.10M30.95 194h3.10M34.95 194h1.10M37.95 194h1.10M39.95 194h3.10M29.95 195h4.10M39.95 195h2.10M30.95 196h2.10M33.95 196h2.10M36.95 196h1.10M39.95 196h2.10M42.95 196h1.10M30.95 197h2.10M33.95 197h1.10M36.95 197h5.10M29.95 198h1.10M31.95 198h1.10M33.95 198h1.10M38.95 198h3.10M29.95 199h5.10M35.95 199h1.10M38.95 199h1.10M29.95 200h2.10M32.95 200h1.10M36.95 200h2.10M39.95 200h2.10M30.95 201h3.10M34.95 201h1.10M36.95 201h4.10M30.95 202h4.10M36.95 202h1.10M38.95 202h1.10M29.95 203h3.10M38.95 203h3.10M29.95 204h1.10M31.95 204h1.10M33.95 204h1.10M35.95 204h5.10M30.95 205h4.10M37.95 205h1.10M39.95 205h2.10M30.95 206h2.10M35.95 206h1.10M37.95 206h4.10M30.95 207h2.10M36.95 207h4.10M30.95 208h2.10M34.95 208h1.10M36.95 208h2.10M30.95 209h3.10M35.95 209h2.10M38.95 209h2.10M31.95 210h1.10M34.95 210h1.10M38.95 210h2.10M29.95 211h1.10M32.95 211h2.10M35.95 211h5.10M30.95 212h2.10M33.95 212h2.10M37.95 212h3.10M30.95 213h2.10M34.95 213h3.10M39.95 213h1.10M31.95 214h3.10M35.95 214h1.10M37.95 214h3.10M30.95 215h8.10M31.95 216h1.10M33.95 216h1.10M35.95 216h1.10M37.95 216h1.10M29.95 217h5.10M35.95 217h4.10M30.95 218h3.10M36.95 218h2.10M25.95 219h1.10M28.95 219h2.10M32.95 219h6.10M22.95 220h16.10M21.95 221h2.10M29.95 221h10.10M20.95 222h1.10M23.95 222h1.10M31.95 222h4.10M36.95 222h1.10M19.95 223h2.10M33.95 223h3.10M37.95 223h1.10M18.95 224h2.10M34.95 224h3.10M17.95 225h1.10M35.95 225h3.10M15.95 226h1.10M36.95 226h1.10M36.95 227h1.10M143.95 227h2.10M146.95 227h3.10M150.95 227h1.10M15.95 228h1.10M37.95 228h2.10M139.95 228h4.10M150.95 228h1.10M15.95 229h1.10M38.95 229h1.10M138.95 229h2.10M149.95 229h2.10M15.95 230h1.10M38.95 230h2.10M137.95 230h1.10M149.95 230h2.10M14.95 231h1.10M38.95 231h2.10M136.95 231h2.10M148.95 231h1.10M14.95 232h1.10M39.95 232h1.10M137.95 232h2.10M143.95 232h1.10M145.95 232h3.10M14.95 233h1.10M38.95 233h1.10M138.95 233h6.10M38.95 234h1.10M14.95 235h1.10M38.95 235h2.10M13.95 236h2.10M38.95 236h2.10M38.95 237h1.10" stroke="#0c74ff"/><path d="M37.95 143h1.10M40.95 143h1.10M39.95 146h1.10M39.95 147h1.10M42.95 148h1.10M35.95 150h1.10M37.95 150h2.10M40.95 150h1.10M36.95 151h4.10M41.95 151h1.10M37.95 152h5.10M35.95 153h1.10M37.95 153h3.10M35.95 154h3.10M39.95 154h1.10M35.95 155h7.10M35.95 156h5.10M34.95 157h1.10M36.95 157h3.10M40.95 157h1.10M34.95 158h1.10M36.95 158h5.10M33.95 159h1.10M35.95 159h6.10M35.95 160h7.10M34.95 161h1.10M36.95 161h4.10M34.95 162h8.10M35.95 163h6.10M33.95 164h4.10M38.95 164h2.10M41.95 164h1.10M34.95 165h7.10M42.95 165h1.10M33.95 166h2.10M36.95 166h5.10M33.95 167h2.10M36.95 167h4.10M34.95 168h5.10M41.95 168h1.10M32.95 169h1.10M34.95 169h7.10M32.95 170h3.10M36.95 170h4.10M41.95 170h1.10M36.95 171h1.10M38.95 171h2.10M33.95 172h5.10M33.95 173h5.10M39.95 173h1.10M31.95 174h1.10M33.95 174h1.10M36.95 174h2.10M39.95 174h2.10M33.95 175h8.10M33.95 176h2.10M37.95 176h4.10M33.95 177h8.10M32.95 178h1.10M34.95 178h7.10M33.95 179h3.10M39.95 179h1.10M33.95 180h1.10M35.95 180h5.10M32.95 181h7.10M40.95 181h1.10M33.95 182h8.10M33.95 183h2.10M36.95 183h5.10M33.95 184h1.10M35.95 184h4.10M33.95 185h6.10M32.95 186h7.10M33.95 187h2.10M36.95 187h3.10M35.95 188h5.10M33.95 189h7.10M32.95 190h6.10M32.95 191h7.10M32.95 192h6.10M33.95 193h5.10M33.95 194h1.10M36.95 194h1.10M38.95 194h1.10M33.95 195h6.10M32.95 196h1.10M35.95 196h1.10M37.95 196h2.10M32.95 197h1.10M34.95 197h2.10M32.95 198h1.10M34.95 198h4.10M34.95 199h1.10M36.95 199h2.10M31.95 200h1.10M33.95 200h3.10M33.95 201h1.10M35.95 201h1.10M34.95 202h2.10M37.95 202h1.10M33.95 203h2.10M36.95 203h2.10M32.95 204h1.10M34.95 204h1.10M34.95 205h2.10M32.95 206h3.10M36.95 206h1.10M32.95 207h1.10M34.95 207h2.10M32.95 208h2.10M35.95 208h1.10M33.95 209h2.10M37.95 209h1.10M32.95 210h2.10M35.95 210h3.10M34.95 211h1.10M32.95 212h1.10M35.95 212h2.10M32.95 213h2.10M37.95 213h1.10M34.95 214h1.10M32.95 216h1.10M36.95 216h1.10M34.95 217h1.10M33.95 218h3.10M145.95 227h1.10M143.95 228h1.10M146.95 228h4.10M140.95 229h9.10M138.95 230h11.10M138.95 231h1.10M141.95 231h7.10M139.95 232h4.10M144.95 232h1.10" stroke="#1888ff"/><path d="M23.95 221h6.10M21.95 222h2.10M24.95 222h7.10M21.95 223h12.10M20.95 224h4.10M25.95 224h1.10M27.95 224h7.10M18.95 225h4.10M31.95 225h4.10M17.95 226h4.10M32.95 226h4.10M16.95 227h4.10M33.95 227h3.10M17.95 228h2.10M34.95 228h3.10M16.95 229h3.10M34.95 229h4.10M16.95 230h2.10M35.95 230h3.10M15.95 231h3.10M35.95 231h3.10M15.95 232h3.10M36.95 232h2.10M15.95 233h3.10M36.95 233h2.10M15.95 234h3.10M36.95 234h2.10M15.95 235h2.10M36.95 235h2.10M15.95 236h2.10M36.95 236h2.10M15.95 237h3.10M36.95 237h2.10" stroke="#00ffff"/><path d="M24.95 224h1.10M26.95 224h1.10M22.95 225h9.10M21.95 226h3.10M29.95 226h3.10M20.95 227h2.10M32.95 227h1.10M19.95 228h2.10M32.95 228h2.10M19.95 229h1.10M33.95 229h1.10M18.95 230h1.10M34.95 230h1.10M18.95 231h1.10M34.95 231h1.10M18.95 232h1.10M35.95 232h1.10M34.95 233h2.10M18.95 234h1.10M35.95 234h1.10M17.95 235h2.10M34.95 235h2.10M17.95 236h2.10M35.95 236h1.10M18.95 237h1.10M34.95 237h2.10" stroke="#00ff60"/><path d="M24.95 226h5.10M22.95 227h10.10M21.95 228h11.10M20.95 229h3.10M31.95 229h2.10M19.95 230h2.10M32.95 230h2.10M19.95 231h1.10M33.95 231h1.10M34.95 232h1.10M18.95 233h1.10M34.95 234h1.10M19.95 236h1.10M33.95 236h2.10M19.95 237h1.10M33.95 237h1.10" stroke="#00ff00"/><path d="M23.95 229h8.10M21.95 230h11.10M20.95 231h3.10M30.95 231h3.10M19.95 232h3.10M32.95 232h2.10M19.95 233h2.10M32.95 233h2.10M19.95 234h2.10M33.95 234h1.10M19.95 235h2.10M32.95 235h2.10M20.95 236h2.10M32.95 236h1.10M20.95 237h3.10M30.95 237h3.10" stroke="#aaff00"/><path d="M23.95 231h7.10M22.95 232h10.10M21.95 233h3.10M29.95 233h3.10M21.95 234h1.10M30.95 234h3.10M21.95 235h3.10M30.95 235h2.10M22.95 236h10.10M23.95 237h7.10" stroke="#ffa000"/><path d="M24.95 233h5.10M22.95 234h8.10M24.95 235h6.10" stroke="#ff0000"/></g>
<rect x="226.60" y="325.00" width="410.80" height="366.00" fill="none" stroke="#000" stroke-width="1.9"/>
<g stroke="#000" fill="none"><path d="M213 691.00H226.6" stroke-width="3"/><path d="M213 603.85H226.6" stroke-width="3"/><path d="M213 516.70H226.6" stroke-width="3"/><path d="M213 429.55H226.6" stroke-width="3"/><path d="M213 342.40H226.6" stroke-width="3"/><path d="M220.6 673.57H226.6" stroke-width="1.6"/><path d="M220.6 656.14H226.6" stroke-width="1.6"/><path d="M220.6 638.71H226.6" stroke-width="1.6"/><path d="M220.6 621.28H226.6" stroke-width="1.6"/><path d="M220.6 586.42H226.6" stroke-width="1.6"/><path d="M220.6 568.99H226.6" stroke-width="1.6"/><path d="M220.6 551.56H226.6" stroke-width="1.6"/><path d="M220.6 534.13H226.6" stroke-width="1.6"/><path d="M220.6 499.27H226.6" stroke-width="1.6"/><path d="M220.6 481.84H226.6" stroke-width="1.6"/><path d="M220.6 464.41H226.6" stroke-width="1.6"/><path d="M220.6 446.98H226.6" stroke-width="1.6"/><path d="M220.6 412.12H226.6" stroke-width="1.6"/><path d="M220.6 394.69H226.6" stroke-width="1.6"/><path d="M220.6 377.26H226.6" stroke-width="1.6"/><path d="M220.6 359.83H226.6" stroke-width="1.6"/><path d="M227.20 691.00V703.40" stroke-width="3"/><path d="M233.80 691.00V703.40" stroke-width="3"/><path d="M226.00 692.20H235.00" stroke-width="3.4"/><path d="M238.00 691.00V696.60" stroke-width="1.5"/><path d="M241.90 691.00V696.60" stroke-width="1.5"/><path d="M245.50 691.00V696.60" stroke-width="1.5"/><path d="M248.50 691.00V696.60" stroke-width="1.5"/><path d="M251.30 691.00V696.60" stroke-width="1.5"/><path d="M253.80 691.00V696.60" stroke-width="1.5"/><path d="M256.00 691.00V696.60" stroke-width="1.5"/><path d="M258.10 691.00V696.60" stroke-width="1.5"/><path d="M260.20 691.00V696.60" stroke-width="1.5"/><path d="M267.00 691.00V703.40" stroke-width="9.6"/><path d="M275.20 691.00V696.60" stroke-width="1.5"/><path d="M278.00 691.00V696.60" stroke-width="1.5"/><path d="M280.50 691.00V696.60" stroke-width="1.5"/><path d="M283.00 691.00V696.60" stroke-width="1.5"/><path d="M285.60 691.00V696.60" stroke-width="1.5"/><path d="M288.20 691.00V696.60" stroke-width="1.5"/><path d="M290.50 691.00V696.60" stroke-width="1.5"/><path d="M292.60 691.00V696.60" stroke-width="1.5"/><path d="M294.60 691.00V696.60" stroke-width="1.5"/><path d="M299.80 691.00V703.40" stroke-width="4"/><path d="M324.10 691.00V696.60" stroke-width="1.5"/><path d="M341.90 691.00V696.60" stroke-width="1.5"/><path d="M354.40 691.00V696.60" stroke-width="1.5"/><path d="M363.20 691.00V696.60" stroke-width="1.5"/><path d="M372.50 691.00V696.60" stroke-width="1.5"/><path d="M379.60 691.00V696.60" stroke-width="1.5"/><path d="M385.80 691.00V696.60" stroke-width="1.5"/><path d="M390.10 691.00V696.60" stroke-width="1.5"/><path d="M393.90 691.00V703.40" stroke-width="3.2"/><path d="M422.08 691.00V696.60" stroke-width="1.5"/><path d="M438.56 691.00V696.60" stroke-width="1.5"/><path d="M450.25 691.00V696.60" stroke-width="1.5"/><path d="M459.32 691.00V696.60" stroke-width="1.5"/><path d="M466.73 691.00V696.60" stroke-width="1.5"/><path d="M473.00 691.00V696.60" stroke-width="1.5"/><path d="M478.43 691.00V696.60" stroke-width="1.5"/><path d="M483.22 691.00V696.60" stroke-width="1.5"/><path d="M487.50 691.00V703.40" stroke-width="3.2"/><path d="M514.92 691.00V696.60" stroke-width="1.5"/><path d="M530.97 691.00V696.60" stroke-width="1.5"/><path d="M542.35 691.00V696.60" stroke-width="1.5"/><path d="M551.18 691.00V696.60" stroke-width="1.5"/><path d="M558.39 691.00V696.60" stroke-width="1.5"/><path d="M564.49 691.00V696.60" stroke-width="1.5"/><path d="M569.77 691.00V696.60" stroke-width="1.5"/><path d="M574.43 691.00V696.60" stroke-width="1.5"/><path d="M578.60 691.00V703.40" stroke-width="3.2"/><path d="M606.02 691.00V696.60" stroke-width="1.5"/><path d="M622.07 691.00V696.60" stroke-width="1.5"/><path d="M633.45 691.00V696.60" stroke-width="1.5"/></g>
<text x="206.80" y="698.80" font-size="19.20" font-weight="bold" text-anchor="end" fill="#000" textLength="11.20" lengthAdjust="spacingAndGlyphs" stroke="#000" stroke-width="0.4">0</text>
<text x="206.80" y="611.65" font-size="19.20" font-weight="bold" text-anchor="end" fill="#000" textLength="50.00" lengthAdjust="spacingAndGlyphs" stroke="#000" stroke-width="0.4">1.0M</text>
<text x="206.80" y="524.50" font-size="19.20" font-weight="bold" text-anchor="end" fill="#000" textLength="50.00" lengthAdjust="spacingAndGlyphs" stroke="#000" stroke-width="0.4">2.0M</text>
<text x="206.80" y="437.35" font-size="19.20" font-weight="bold" text-anchor="end" fill="#000" textLength="50.00" lengthAdjust="spacingAndGlyphs" stroke="#000" stroke-width="0.4">3.0M</text>
<text x="206.80" y="350.20" font-size="19.20" font-weight="bold" text-anchor="end" fill="#000" textLength="50.00" lengthAdjust="spacingAndGlyphs" stroke="#000" stroke-width="0.4">4.0M</text>
<text x="267.30" y="728.40" font-size="17.30" font-weight="bold" text-anchor="middle" fill="#000" textLength="11.20" lengthAdjust="spacingAndGlyphs" stroke="#000" stroke-width="0.4">0</text>
<text x="379.30" y="728.40" font-size="17.30" font-weight="bold" text-anchor="start" fill="#000" textLength="22.40" lengthAdjust="spacingAndGlyphs" stroke="#000" stroke-width="0.4">10</text>
<text x="402.70" y="720.80" font-size="10.80" font-weight="bold" text-anchor="start" fill="#000" textLength="7.40" lengthAdjust="spacingAndGlyphs" stroke="#000" stroke-width="0.4">4</text>
<text x="472.90" y="728.40" font-size="17.30" font-weight="bold" text-anchor="start" fill="#000" textLength="22.40" lengthAdjust="spacingAndGlyphs" stroke="#000" stroke-width="0.4">10</text>
<text x="496.30" y="720.80" font-size="10.80" font-weight="bold" text-anchor="start" fill="#000" textLength="7.40" lengthAdjust="spacingAndGlyphs" stroke="#000" stroke-width="0.4">5</text>
<text x="564.00" y="728.40" font-size="17.30" font-weight="bold" text-anchor="start" fill="#000" textLength="22.40" lengthAdjust="spacingAndGlyphs" stroke="#000" stroke-width="0.4">10</text>
<text x="587.40" y="720.80" font-size="10.80" font-weight="bold" text-anchor="start" fill="#000" textLength="7.40" lengthAdjust="spacingAndGlyphs" stroke="#000" stroke-width="0.4">6</text>
<text x="406.80" y="767.30" font-size="18.20" font-weight="bold" text-anchor="start" fill="#000" textLength="48.80" lengthAdjust="spacingAndGlyphs" stroke="#000" stroke-width="0.4">V1-A</text>
<g transform="translate(136.4,508.1) rotate(-90)">
<text x="0.00" y="0.00" font-size="20.50" font-weight="bold" text-anchor="middle" fill="#000" textLength="53.60" lengthAdjust="spacingAndGlyphs" stroke="#000" stroke-width="0.4">SSC-A</text>
</g>
<path d="M959.5 319.3H964.7M981.8 319.3H987M1000.4 319.3H1004.9M1010.9 319.3H1017.6" stroke="#e2e2e2" stroke-width="0.9" fill="none"/>
<rect x="788.80" y="325.00" width="412.20" height="363.20" fill="#ede7f6"/>
<path d="M805.0 688.2L810.0 686.5L814.0 684.5L818.0 682.6L821.0 679.0L824.0 671.0L827.0 652.0L829.5 634.0L832.0 616.0L835.0 598.0L838.4 580.0L841.0 568.0L842.6 560.5L844.1 557.3L846.4 559.5L848.5 568.0L851.4 580.0L854.5 600.0L857.0 615.7L860.5 634.0L865.0 651.4L868.5 668.0L871.4 680.0L873.5 685.0L876.0 686.4L879.6 685.6L883.0 687.0L887.0 687.6L891.0 687.0L895.7 685.4L900.0 686.6L904.0 686.6L908.2 685.2L913.0 686.6L918.0 688.2ZM945.7 688.2L949.0 686.6L953.0 685.1L957.0 686.3L961.0 687.6L963.6 688.2ZM971.6 688.2L975.0 686.5L978.0 684.0L980.5 682.8L983.0 683.8L987.0 686.2L990.0 687.4L993.0 688.2ZM1001.0 688.2L1005.0 687.0L1009.0 685.8L1013.6 682.9L1017.0 675.0L1020.7 663.2L1023.0 652.0L1025.0 640.0L1027.0 622.0L1029.0 600.0L1030.5 579.0L1033.0 540.0L1035.7 505.0L1037.5 485.0L1039.0 468.6L1041.0 460.5L1043.4 456.6L1045.8 462.0L1047.9 468.6L1049.6 486.0L1051.4 505.0L1054.0 545.0L1056.4 579.0L1058.0 602.0L1059.6 623.6L1061.0 641.0L1063.0 654.0L1065.4 663.2L1068.0 673.0L1070.7 681.0L1074.0 685.5L1077.0 687.3L1080.0 688.2Z" fill="#808000"/>
<path d="M788.80 324.70H1201.20V688.20" fill="none" stroke="#000" stroke-width="1.5"/>
<path d="M788.80 325.00V688.60H1201.60" fill="none" stroke="#000" stroke-width="1.9"/>
<g stroke="#000" stroke-width="3.2" fill="none"><path d="M813.60 327V688M875.30 327V688M813.60 507.1H875.30" /><path d="M1006.40 327V688M1073.00 327V688M1006.40 507.1H1073.00" /></g>
<rect x="821.1" y="351" width="45" height="87" fill="#f2f2f2"/>
<rect x="1016.2" y="351" width="44.7" height="87" fill="#f2f2f2"/>
<text x="820.60" y="343.40" font-size="18.00" font-weight="bold" text-anchor="start" fill="#000" textLength="47.60" lengthAdjust="spacingAndGlyphs" >P273</text>
<text x="1015.80" y="343.40" font-size="18.00" font-weight="bold" text-anchor="start" fill="#000" textLength="48.00" lengthAdjust="spacingAndGlyphs" >P274</text>
<g transform="translate(851.2,422.1) rotate(-90)">
<text x="0.00" y="0.00" font-size="22.20" font-weight="normal" text-anchor="start" fill="#000" textLength="48.70" lengthAdjust="spacingAndGlyphs" stroke="#000" stroke-width="0.75">CD4-</text>
</g>
<g transform="translate(1046.2,422.1) rotate(-90)">
<text x="0.00" y="0.00" font-size="22.20" font-weight="normal" text-anchor="start" fill="#000" textLength="53.50" lengthAdjust="spacingAndGlyphs" stroke="#000" stroke-width="0.75">CD4+</text>
</g>
<g stroke="#000" fill="none"><path d="M775 688.00H788.8" stroke-width="2.8"/><path d="M775 615.40H788.8" stroke-width="2.8"/><path d="M775 542.80H788.8" stroke-width="2.8"/><path d="M775 470.20H788.8" stroke-width="2.8"/><path d="M775 397.60H788.8" stroke-width="2.8"/><path d="M775 325.00H788.8" stroke-width="2.8"/><path d="M783 673.48H788.8" stroke-width="1.5"/><path d="M783 658.96H788.8" stroke-width="1.5"/><path d="M783 644.44H788.8" stroke-width="1.5"/><path d="M783 629.92H788.8" stroke-width="1.5"/><path d="M783 600.88H788.8" stroke-width="1.5"/><path d="M783 586.36H788.8" stroke-width="1.5"/><path d="M783 571.84H788.8" stroke-width="1.5"/><path d="M783 557.32H788.8" stroke-width="1.5"/><path d="M783 528.28H788.8" stroke-width="1.5"/><path d="M783 513.76H788.8" stroke-width="1.5"/><path d="M783 499.24H788.8" stroke-width="1.5"/><path d="M783 484.72H788.8" stroke-width="1.5"/><path d="M783 455.68H788.8" stroke-width="1.5"/><path d="M783 441.16H788.8" stroke-width="1.5"/><path d="M783 426.64H788.8" stroke-width="1.5"/><path d="M783 412.12H788.8" stroke-width="1.5"/><path d="M783 383.08H788.8" stroke-width="1.5"/><path d="M783 368.56H788.8" stroke-width="1.5"/><path d="M783 354.04H788.8" stroke-width="1.5"/><path d="M783 339.52H788.8" stroke-width="1.5"/><path d="M789.40 688.40V700.80" stroke-width="3"/><path d="M796.00 688.40V700.80" stroke-width="3"/><path d="M788.20 689.60H797.20" stroke-width="3.4"/><path d="M800.20 688.40V694.00" stroke-width="1.5"/><path d="M804.10 688.40V694.00" stroke-width="1.5"/><path d="M807.70 688.40V694.00" stroke-width="1.5"/><path d="M810.70 688.40V694.00" stroke-width="1.5"/><path d="M813.50 688.40V694.00" stroke-width="1.5"/><path d="M816.00 688.40V694.00" stroke-width="1.5"/><path d="M818.20 688.40V694.00" stroke-width="1.5"/><path d="M820.30 688.40V694.00" stroke-width="1.5"/><path d="M822.40 688.40V694.00" stroke-width="1.5"/><path d="M829.50 688.40V700.80" stroke-width="9.6"/><path d="M837.70 688.40V694.00" stroke-width="1.5"/><path d="M840.50 688.40V694.00" stroke-width="1.5"/><path d="M843.00 688.40V694.00" stroke-width="1.5"/><path d="M845.50 688.40V694.00" stroke-width="1.5"/><path d="M848.10 688.40V694.00" stroke-width="1.5"/><path d="M850.70 688.40V694.00" stroke-width="1.5"/><path d="M853.00 688.40V694.00" stroke-width="1.5"/><path d="M855.10 688.40V694.00" stroke-width="1.5"/><path d="M857.10 688.40V694.00" stroke-width="1.5"/><path d="M861.70 688.40V700.80" stroke-width="4"/><path d="M886.15 688.40V694.00" stroke-width="1.5"/><path d="M904.07 688.40V694.00" stroke-width="1.5"/><path d="M916.65 688.40V694.00" stroke-width="1.5"/><path d="M925.50 688.40V694.00" stroke-width="1.5"/><path d="M934.86 688.40V694.00" stroke-width="1.5"/><path d="M942.01 688.40V694.00" stroke-width="1.5"/><path d="M948.25 688.40V694.00" stroke-width="1.5"/><path d="M952.58 688.40V694.00" stroke-width="1.5"/><path d="M956.40 688.40V700.80" stroke-width="3.2"/><path d="M985.00 688.40V694.00" stroke-width="1.5"/><path d="M1001.73 688.40V694.00" stroke-width="1.5"/><path d="M1013.60 688.40V694.00" stroke-width="1.5"/><path d="M1022.80 688.40V694.00" stroke-width="1.5"/><path d="M1030.32 688.40V694.00" stroke-width="1.5"/><path d="M1036.68 688.40V694.00" stroke-width="1.5"/><path d="M1042.19 688.40V694.00" stroke-width="1.5"/><path d="M1047.05 688.40V694.00" stroke-width="1.5"/><path d="M1051.40 688.40V700.80" stroke-width="3.2"/><path d="M1078.94 688.40V694.00" stroke-width="1.5"/><path d="M1095.06 688.40V694.00" stroke-width="1.5"/><path d="M1106.49 688.40V694.00" stroke-width="1.5"/><path d="M1115.36 688.40V694.00" stroke-width="1.5"/><path d="M1122.60 688.40V694.00" stroke-width="1.5"/><path d="M1128.73 688.40V694.00" stroke-width="1.5"/><path d="M1134.03 688.40V694.00" stroke-width="1.5"/><path d="M1138.71 688.40V694.00" stroke-width="1.5"/><path d="M1142.90 688.40V700.80" stroke-width="3.2"/><path d="M1170.44 688.40V694.00" stroke-width="1.5"/><path d="M1186.56 688.40V694.00" stroke-width="1.5"/><path d="M1197.99 688.40V694.00" stroke-width="1.5"/></g>
<text x="768.90" y="695.80" font-size="18.20" font-weight="bold" text-anchor="end" fill="#000" textLength="10.60" lengthAdjust="spacingAndGlyphs" stroke="#000" stroke-width="0.4">0</text>
<text x="762.80" y="623.20" font-size="18.20" font-weight="bold" text-anchor="end" fill="#000" textLength="10.60" lengthAdjust="spacingAndGlyphs" stroke="#000" stroke-width="0.4">9</text>
<text x="762.80" y="550.60" font-size="18.20" font-weight="bold" text-anchor="end" fill="#000" textLength="22.20" lengthAdjust="spacingAndGlyphs" stroke="#000" stroke-width="0.4">18</text>
<text x="762.80" y="478.00" font-size="18.20" font-weight="bold" text-anchor="end" fill="#000" textLength="22.20" lengthAdjust="spacingAndGlyphs" stroke="#000" stroke-width="0.4">27</text>
<text x="762.80" y="405.40" font-size="18.20" font-weight="bold" text-anchor="end" fill="#000" textLength="22.20" lengthAdjust="spacingAndGlyphs" stroke="#000" stroke-width="0.4">36</text>
<text x="762.80" y="332.80" font-size="18.20" font-weight="bold" text-anchor="end" fill="#000" textLength="22.20" lengthAdjust="spacingAndGlyphs" stroke="#000" stroke-width="0.4">45</text>
<text x="829.80" y="726.90" font-size="17.30" font-weight="bold" text-anchor="middle" fill="#000" textLength="11.20" lengthAdjust="spacingAndGlyphs" stroke="#000" stroke-width="0.4">0</text>
<text x="941.80" y="726.90" font-size="17.30" font-weight="bold" text-anchor="start" fill="#000" textLength="22.40" lengthAdjust="spacingAndGlyphs" stroke="#000" stroke-width="0.4">10</text>
<text x="965.20" y="719.30" font-size="10.80" font-weight="bold" text-anchor="start" fill="#000" textLength="7.40" lengthAdjust="spacingAndGlyphs" stroke="#000" stroke-width="0.4">4</text>
<text x="1036.80" y="726.90" font-size="17.30" font-weight="bold" text-anchor="start" fill="#000" textLength="22.40" lengthAdjust="spacingAndGlyphs" stroke="#000" stroke-width="0.4">10</text>
<text x="1060.20" y="719.30" font-size="10.80" font-weight="bold" text-anchor="start" fill="#000" textLength="7.40" lengthAdjust="spacingAndGlyphs" stroke="#000" stroke-width="0.4">5</text>
<text x="1128.30" y="726.90" font-size="17.30" font-weight="bold" text-anchor="start" fill="#000" textLength="22.40" lengthAdjust="spacingAndGlyphs" stroke="#000" stroke-width="0.4">10</text>
<text x="1151.70" y="719.30" font-size="10.80" font-weight="bold" text-anchor="start" fill="#000" textLength="7.40" lengthAdjust="spacingAndGlyphs" stroke="#000" stroke-width="0.4">6</text>
<text x="970.70" y="766.40" font-size="18.20" font-weight="bold" text-anchor="start" fill="#000" textLength="48.80" lengthAdjust="spacingAndGlyphs" stroke="#000" stroke-width="0.4">V1-A</text>
<g transform="translate(719.3,506.8) rotate(-90)">
<text x="0.00" y="0.00" font-size="20.50" font-weight="bold" text-anchor="middle" fill="#000" textLength="54.50" lengthAdjust="spacingAndGlyphs" stroke="#000" stroke-width="0.4">Count</text>
</g></svg>
</body></html>
